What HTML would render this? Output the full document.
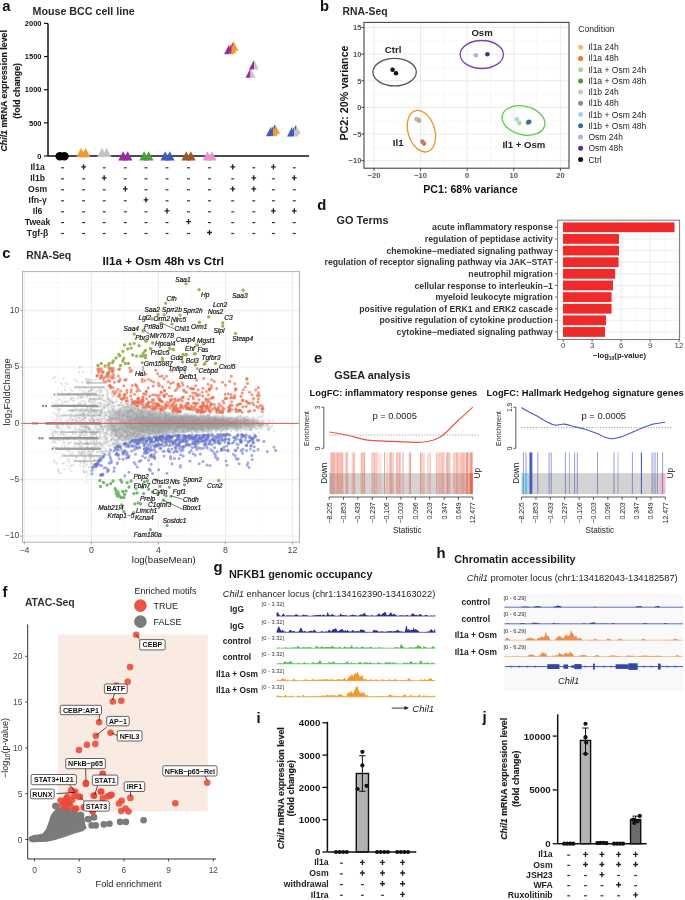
<!DOCTYPE html><html><head><meta charset="utf-8"><style>
html,body{margin:0;padding:0;background:#fff;}
body{width:685px;height:900px;overflow:hidden;}
svg{display:block;font-family:"Liberation Sans",sans-serif;filter:blur(0.35px);}
</style></head><body>
<svg width="685" height="900" viewBox="0 0 685 900">
<rect width="685" height="900" fill="#fff"/>
<text x="2.2" y="10.8" font-size="14.8" font-weight="bold"  text-anchor="start" fill="#111" >a</text>
<text x="32.5" y="14.8" font-size="10.7" font-weight="bold"  text-anchor="start" fill="#2a2a2a" >Mouse BCC cell line</text>
<line x1="48.00" y1="23.50" x2="48.00" y2="156.00" stroke="#111" stroke-width="1.5" />
<line x1="44.00" y1="156.00" x2="48.00" y2="156.00" stroke="#111" stroke-width="1.2" />
<text x="41.5" y="158.7" font-size="7.5" font-weight="bold"  text-anchor="end" fill="#111" >0</text>
<line x1="44.00" y1="122.85" x2="48.00" y2="122.85" stroke="#111" stroke-width="1.2" />
<text x="41.5" y="125.5" font-size="7.5" font-weight="bold"  text-anchor="end" fill="#111" >500</text>
<line x1="44.00" y1="89.70" x2="48.00" y2="89.70" stroke="#111" stroke-width="1.2" />
<text x="41.5" y="92.4" font-size="7.5" font-weight="bold"  text-anchor="end" fill="#111" >1000</text>
<line x1="44.00" y1="56.55" x2="48.00" y2="56.55" stroke="#111" stroke-width="1.2" />
<text x="41.5" y="59.2" font-size="7.5" font-weight="bold"  text-anchor="end" fill="#111" >1500</text>
<line x1="44.00" y1="23.40" x2="48.00" y2="23.40" stroke="#111" stroke-width="1.2" />
<text x="41.5" y="26.1" font-size="7.5" font-weight="bold"  text-anchor="end" fill="#111" >2000</text>
<line x1="48.00" y1="156.00" x2="309.00" y2="156.00" stroke="#111" stroke-width="1.6" />
<text transform="translate(7.2,90.8) rotate(-90)" font-size="8.8" font-weight="bold" text-anchor="middle" fill="#1a1a1a" stroke="#1a1a1a" stroke-width="0.15"><tspan font-style="italic">Chil1</tspan> mRNA expression level</text>
<text x="0.0" y="0.0" font-size="8.9" font-weight="bold"  text-anchor="middle" fill="#1a1a1a" transform="translate(20.4,90.8) rotate(-90)" stroke="#1a1a1a" stroke-width="0.15">(fold change)</text>
<text x="37.6" y="169.8" font-size="8.6" font-weight="bold"  text-anchor="middle" fill="#222" >Il1a</text>
<rect x="61.05" y="167.20" width="2.90" height="1.20" fill="#333" />
<path d="M81.20 166.80H86.00M83.60 164.20V169.40" stroke="#222" stroke-width="1.3" fill="none"/>
<rect x="102.75" y="167.20" width="2.90" height="1.20" fill="#333" />
<rect x="123.85" y="167.20" width="2.90" height="1.20" fill="#333" />
<rect x="144.55" y="167.20" width="2.90" height="1.20" fill="#333" />
<rect x="165.55" y="167.20" width="2.90" height="1.20" fill="#333" />
<rect x="187.05" y="167.20" width="2.90" height="1.20" fill="#333" />
<rect x="208.05" y="167.20" width="2.90" height="1.20" fill="#333" />
<path d="M230.30 166.80H235.10M232.70 164.20V169.40" stroke="#222" stroke-width="1.3" fill="none"/>
<rect x="252.35" y="167.20" width="2.90" height="1.20" fill="#333" />
<path d="M271.00 166.80H275.80M273.40 164.20V169.40" stroke="#222" stroke-width="1.3" fill="none"/>
<rect x="292.85" y="167.20" width="2.90" height="1.20" fill="#333" />
<text x="37.6" y="180.8" font-size="8.6" font-weight="bold"  text-anchor="middle" fill="#222" >Il1b</text>
<rect x="61.05" y="178.20" width="2.90" height="1.20" fill="#333" />
<rect x="82.15" y="178.20" width="2.90" height="1.20" fill="#333" />
<path d="M101.80 177.80H106.60M104.20 175.20V180.40" stroke="#222" stroke-width="1.3" fill="none"/>
<rect x="123.85" y="178.20" width="2.90" height="1.20" fill="#333" />
<rect x="144.55" y="178.20" width="2.90" height="1.20" fill="#333" />
<rect x="165.55" y="178.20" width="2.90" height="1.20" fill="#333" />
<rect x="187.05" y="178.20" width="2.90" height="1.20" fill="#333" />
<rect x="208.05" y="178.20" width="2.90" height="1.20" fill="#333" />
<rect x="231.25" y="178.20" width="2.90" height="1.20" fill="#333" />
<path d="M251.40 177.80H256.20M253.80 175.20V180.40" stroke="#222" stroke-width="1.3" fill="none"/>
<rect x="271.95" y="178.20" width="2.90" height="1.20" fill="#333" />
<path d="M291.90 177.80H296.70M294.30 175.20V180.40" stroke="#222" stroke-width="1.3" fill="none"/>
<text x="37.6" y="191.8" font-size="8.6" font-weight="bold"  text-anchor="middle" fill="#222" >Osm</text>
<rect x="61.05" y="189.20" width="2.90" height="1.20" fill="#333" />
<rect x="82.15" y="189.20" width="2.90" height="1.20" fill="#333" />
<rect x="102.75" y="189.20" width="2.90" height="1.20" fill="#333" />
<path d="M122.90 188.80H127.70M125.30 186.20V191.40" stroke="#222" stroke-width="1.3" fill="none"/>
<rect x="144.55" y="189.20" width="2.90" height="1.20" fill="#333" />
<rect x="165.55" y="189.20" width="2.90" height="1.20" fill="#333" />
<rect x="187.05" y="189.20" width="2.90" height="1.20" fill="#333" />
<rect x="208.05" y="189.20" width="2.90" height="1.20" fill="#333" />
<path d="M230.30 188.80H235.10M232.70 186.20V191.40" stroke="#222" stroke-width="1.3" fill="none"/>
<path d="M251.40 188.80H256.20M253.80 186.20V191.40" stroke="#222" stroke-width="1.3" fill="none"/>
<rect x="271.95" y="189.20" width="2.90" height="1.20" fill="#333" />
<rect x="292.85" y="189.20" width="2.90" height="1.20" fill="#333" />
<text x="37.6" y="202.8" font-size="8.6" font-weight="bold"  text-anchor="middle" fill="#222" >Ifn-γ</text>
<rect x="61.05" y="200.20" width="2.90" height="1.20" fill="#333" />
<rect x="82.15" y="200.20" width="2.90" height="1.20" fill="#333" />
<rect x="102.75" y="200.20" width="2.90" height="1.20" fill="#333" />
<rect x="123.85" y="200.20" width="2.90" height="1.20" fill="#333" />
<path d="M143.60 199.80H148.40M146.00 197.20V202.40" stroke="#222" stroke-width="1.3" fill="none"/>
<rect x="165.55" y="200.20" width="2.90" height="1.20" fill="#333" />
<rect x="187.05" y="200.20" width="2.90" height="1.20" fill="#333" />
<rect x="208.05" y="200.20" width="2.90" height="1.20" fill="#333" />
<rect x="231.25" y="200.20" width="2.90" height="1.20" fill="#333" />
<rect x="252.35" y="200.20" width="2.90" height="1.20" fill="#333" />
<rect x="271.95" y="200.20" width="2.90" height="1.20" fill="#333" />
<rect x="292.85" y="200.20" width="2.90" height="1.20" fill="#333" />
<text x="37.6" y="213.8" font-size="8.6" font-weight="bold"  text-anchor="middle" fill="#222" >Il6</text>
<rect x="61.05" y="211.20" width="2.90" height="1.20" fill="#333" />
<rect x="82.15" y="211.20" width="2.90" height="1.20" fill="#333" />
<rect x="102.75" y="211.20" width="2.90" height="1.20" fill="#333" />
<rect x="123.85" y="211.20" width="2.90" height="1.20" fill="#333" />
<rect x="144.55" y="211.20" width="2.90" height="1.20" fill="#333" />
<path d="M164.60 210.80H169.40M167.00 208.20V213.40" stroke="#222" stroke-width="1.3" fill="none"/>
<rect x="187.05" y="211.20" width="2.90" height="1.20" fill="#333" />
<rect x="208.05" y="211.20" width="2.90" height="1.20" fill="#333" />
<rect x="231.25" y="211.20" width="2.90" height="1.20" fill="#333" />
<rect x="252.35" y="211.20" width="2.90" height="1.20" fill="#333" />
<path d="M271.00 210.80H275.80M273.40 208.20V213.40" stroke="#222" stroke-width="1.3" fill="none"/>
<path d="M291.90 210.80H296.70M294.30 208.20V213.40" stroke="#222" stroke-width="1.3" fill="none"/>
<text x="37.6" y="224.6" font-size="8.6" font-weight="bold"  text-anchor="middle" fill="#222" >Tweak</text>
<rect x="61.05" y="222.00" width="2.90" height="1.20" fill="#333" />
<rect x="82.15" y="222.00" width="2.90" height="1.20" fill="#333" />
<rect x="102.75" y="222.00" width="2.90" height="1.20" fill="#333" />
<rect x="123.85" y="222.00" width="2.90" height="1.20" fill="#333" />
<rect x="144.55" y="222.00" width="2.90" height="1.20" fill="#333" />
<rect x="165.55" y="222.00" width="2.90" height="1.20" fill="#333" />
<path d="M186.10 221.60H190.90M188.50 219.00V224.20" stroke="#222" stroke-width="1.3" fill="none"/>
<rect x="208.05" y="222.00" width="2.90" height="1.20" fill="#333" />
<rect x="231.25" y="222.00" width="2.90" height="1.20" fill="#333" />
<rect x="252.35" y="222.00" width="2.90" height="1.20" fill="#333" />
<rect x="271.95" y="222.00" width="2.90" height="1.20" fill="#333" />
<rect x="292.85" y="222.00" width="2.90" height="1.20" fill="#333" />
<text x="37.6" y="235.5" font-size="8.6" font-weight="bold"  text-anchor="middle" fill="#222" >Tgf-β</text>
<rect x="61.05" y="232.90" width="2.90" height="1.20" fill="#333" />
<rect x="82.15" y="232.90" width="2.90" height="1.20" fill="#333" />
<rect x="102.75" y="232.90" width="2.90" height="1.20" fill="#333" />
<rect x="123.85" y="232.90" width="2.90" height="1.20" fill="#333" />
<rect x="144.55" y="232.90" width="2.90" height="1.20" fill="#333" />
<rect x="165.55" y="232.90" width="2.90" height="1.20" fill="#333" />
<rect x="187.05" y="232.90" width="2.90" height="1.20" fill="#333" />
<path d="M207.10 232.50H211.90M209.50 229.90V235.10" stroke="#222" stroke-width="1.3" fill="none"/>
<rect x="231.25" y="232.90" width="2.90" height="1.20" fill="#333" />
<rect x="252.35" y="232.90" width="2.90" height="1.20" fill="#333" />
<rect x="271.95" y="232.90" width="2.90" height="1.20" fill="#333" />
<rect x="292.85" y="232.90" width="2.90" height="1.20" fill="#333" />
<circle cx="59.80" cy="156.20" r="4.3" fill="#000" />
<circle cx="64.40" cy="156.20" r="4.3" fill="#000" />
<polygon points="76.20,157.30 81.00,148.10 85.80,157.30" fill="#ee9a2e"/>
<polygon points="80.80,157.30 85.60,148.10 90.40,157.30" fill="#ee9a2e"/>
<polygon points="97.20,156.90 102.00,147.70 106.80,156.90" fill="#c4c4c4"/>
<polygon points="101.80,156.90 106.60,147.70 111.40,156.90" fill="#c4c4c4"/>
<polygon points="118.30,160.40 123.10,151.20 127.90,160.40" fill="#9a2a9e"/>
<polygon points="122.90,160.40 127.70,151.20 132.50,160.40" fill="#9a2a9e"/>
<polygon points="139.30,160.40 144.10,151.20 148.90,160.40" fill="#4e9a3e"/>
<polygon points="143.90,160.40 148.70,151.20 153.50,160.40" fill="#4e9a3e"/>
<polygon points="160.40,160.40 165.20,151.20 170.00,160.40" fill="#3d5bb8"/>
<polygon points="165.00,160.40 169.80,151.20 174.60,160.40" fill="#3d5bb8"/>
<polygon points="181.40,160.40 186.20,151.20 191.00,160.40" fill="#99582a"/>
<polygon points="186.00,160.40 190.80,151.20 195.60,160.40" fill="#99582a"/>
<polygon points="202.50,160.40 207.30,151.20 212.10,160.40" fill="#e994cf"/>
<polygon points="207.10,160.40 211.90,151.20 216.70,160.40" fill="#e994cf"/>
<polygon points="224.00,54.30 229.00,44.70 229.00,54.30" fill="#9a2a9e"/>
<polygon points="229.00,54.30 229.00,44.70 234.00,54.30" fill="#ee9a2e"/>
<polygon points="228.50,50.80 233.50,41.20 233.50,50.80" fill="#9a2a9e"/>
<polygon points="233.50,50.80 233.50,41.20 238.50,50.80" fill="#ee9a2e"/>
<polygon points="226.50,53.30 231.50,43.70 231.50,53.30" fill="#9a2a9e"/>
<polygon points="231.50,53.30 231.50,43.70 236.50,53.30" fill="#ee9a2e"/>
<polygon points="245.50,77.80 250.50,68.20 250.50,77.80" fill="#9a2a9e"/>
<polygon points="250.50,77.80 250.50,68.20 255.50,77.80" fill="#c4c4c4"/>
<polygon points="249.00,69.60 254.00,60.00 254.00,69.60" fill="#9a2a9e"/>
<polygon points="254.00,69.60 254.00,60.00 259.00,69.60" fill="#c4c4c4"/>
<polygon points="266.00,136.30 271.00,126.70 271.00,136.30" fill="#3d5bb8"/>
<polygon points="271.00,136.30 271.00,126.70 276.00,136.30" fill="#ee9a2e"/>
<polygon points="270.00,133.80 275.00,124.20 275.00,133.80" fill="#3d5bb8"/>
<polygon points="275.00,133.80 275.00,124.20 280.00,133.80" fill="#ee9a2e"/>
<polygon points="268.00,135.80 273.00,126.20 273.00,135.80" fill="#3d5bb8"/>
<polygon points="273.00,135.80 273.00,126.20 278.00,135.80" fill="#ee9a2e"/>
<polygon points="287.00,136.60 292.00,127.00 292.00,136.60" fill="#3d5bb8"/>
<polygon points="292.00,136.60 292.00,127.00 297.00,136.60" fill="#c4c4c4"/>
<polygon points="291.00,134.30 296.00,124.70 296.00,134.30" fill="#3d5bb8"/>
<polygon points="296.00,134.30 296.00,124.70 301.00,134.30" fill="#c4c4c4"/>
<polygon points="289.00,136.30 294.00,126.70 294.00,136.30" fill="#3d5bb8"/>
<polygon points="294.00,136.30 294.00,126.70 299.00,136.30" fill="#c4c4c4"/>
<text x="319.9" y="10.9" font-size="14.8" font-weight="bold"  text-anchor="start" fill="#111" >b</text>
<text x="342.6" y="14.5" font-size="10.4" font-weight="bold"  text-anchor="start" fill="#2a2a2a" >RNA-Seq</text>
<line x1="397.30" y1="22.40" x2="397.30" y2="168.20" stroke="#f4f4f4" stroke-width="0.6" />
<line x1="443.90" y1="22.40" x2="443.90" y2="168.20" stroke="#f4f4f4" stroke-width="0.6" />
<line x1="490.50" y1="22.40" x2="490.50" y2="168.20" stroke="#f4f4f4" stroke-width="0.6" />
<line x1="537.10" y1="22.40" x2="537.10" y2="168.20" stroke="#f4f4f4" stroke-width="0.6" />
<line x1="364.00" y1="40.78" x2="569.00" y2="40.78" stroke="#f4f4f4" stroke-width="0.6" />
<line x1="364.00" y1="67.43" x2="569.00" y2="67.43" stroke="#f4f4f4" stroke-width="0.6" />
<line x1="364.00" y1="94.08" x2="569.00" y2="94.08" stroke="#f4f4f4" stroke-width="0.6" />
<line x1="364.00" y1="120.73" x2="569.00" y2="120.73" stroke="#f4f4f4" stroke-width="0.6" />
<line x1="364.00" y1="147.38" x2="569.00" y2="147.38" stroke="#f4f4f4" stroke-width="0.6" />
<line x1="364.00" y1="174.03" x2="569.00" y2="174.03" stroke="#f4f4f4" stroke-width="0.6" />
<line x1="374.00" y1="22.40" x2="374.00" y2="168.20" stroke="#ebebeb" stroke-width="1" />
<line x1="420.60" y1="22.40" x2="420.60" y2="168.20" stroke="#ebebeb" stroke-width="1" />
<line x1="467.20" y1="22.40" x2="467.20" y2="168.20" stroke="#ebebeb" stroke-width="1" />
<line x1="513.80" y1="22.40" x2="513.80" y2="168.20" stroke="#ebebeb" stroke-width="1" />
<line x1="560.40" y1="22.40" x2="560.40" y2="168.20" stroke="#ebebeb" stroke-width="1" />
<line x1="364.00" y1="27.45" x2="569.00" y2="27.45" stroke="#ebebeb" stroke-width="1" />
<line x1="364.00" y1="54.10" x2="569.00" y2="54.10" stroke="#ebebeb" stroke-width="1" />
<line x1="364.00" y1="80.75" x2="569.00" y2="80.75" stroke="#ebebeb" stroke-width="1" />
<line x1="364.00" y1="107.40" x2="569.00" y2="107.40" stroke="#ebebeb" stroke-width="1" />
<line x1="364.00" y1="134.05" x2="569.00" y2="134.05" stroke="#ebebeb" stroke-width="1" />
<line x1="364.00" y1="160.70" x2="569.00" y2="160.70" stroke="#ebebeb" stroke-width="1" />
<rect x="364" y="22.4" width="205" height="145.79999999999998" fill="none" stroke="#444" stroke-width="1.1"/>
<line x1="361.50" y1="27.45" x2="364.00" y2="27.45" stroke="#444" stroke-width="1" />
<text x="361.4" y="30.2" font-size="7.6" font-weight="bold"  text-anchor="end" fill="#555" >15</text>
<line x1="361.50" y1="54.10" x2="364.00" y2="54.10" stroke="#444" stroke-width="1" />
<text x="361.4" y="56.8" font-size="7.6" font-weight="bold"  text-anchor="end" fill="#555" >10</text>
<line x1="361.50" y1="80.75" x2="364.00" y2="80.75" stroke="#444" stroke-width="1" />
<text x="361.4" y="83.5" font-size="7.6" font-weight="bold"  text-anchor="end" fill="#555" >5</text>
<line x1="361.50" y1="107.40" x2="364.00" y2="107.40" stroke="#444" stroke-width="1" />
<text x="361.4" y="110.1" font-size="7.6" font-weight="bold"  text-anchor="end" fill="#555" >0</text>
<line x1="361.50" y1="134.05" x2="364.00" y2="134.05" stroke="#444" stroke-width="1" />
<text x="361.4" y="136.8" font-size="7.6" font-weight="bold"  text-anchor="end" fill="#555" >−5</text>
<line x1="361.50" y1="160.70" x2="364.00" y2="160.70" stroke="#444" stroke-width="1" />
<text x="361.4" y="163.4" font-size="7.6" font-weight="bold"  text-anchor="end" fill="#555" >−10</text>
<line x1="374.00" y1="168.20" x2="374.00" y2="170.70" stroke="#444" stroke-width="1" />
<text x="374.0" y="177.6" font-size="7.6" font-weight="bold"  text-anchor="middle" fill="#555" >−20</text>
<line x1="420.60" y1="168.20" x2="420.60" y2="170.70" stroke="#444" stroke-width="1" />
<text x="420.6" y="177.6" font-size="7.6" font-weight="bold"  text-anchor="middle" fill="#555" >−10</text>
<line x1="467.20" y1="168.20" x2="467.20" y2="170.70" stroke="#444" stroke-width="1" />
<text x="467.2" y="177.6" font-size="7.6" font-weight="bold"  text-anchor="middle" fill="#555" >0</text>
<line x1="513.80" y1="168.20" x2="513.80" y2="170.70" stroke="#444" stroke-width="1" />
<text x="513.8" y="177.6" font-size="7.6" font-weight="bold"  text-anchor="middle" fill="#555" >10</text>
<line x1="560.40" y1="168.20" x2="560.40" y2="170.70" stroke="#444" stroke-width="1" />
<text x="560.4" y="177.6" font-size="7.6" font-weight="bold"  text-anchor="middle" fill="#555" >20</text>
<text x="423.3" y="192.7" font-size="10.6" font-weight="bold"  text-anchor="start" fill="#111" >PC1: 68% variance</text>
<text x="0.0" y="0.0" font-size="10.7" font-weight="bold"  text-anchor="middle" fill="#111" transform="translate(348.0,93.0) rotate(-90)">PC2: 20% variance</text>
<ellipse cx="394.6" cy="72.1" rx="21.7" ry="13.8" fill="none" stroke="#555" stroke-width="1.3"/>
<ellipse cx="481.8" cy="54.5" rx="21.6" ry="14.0" fill="none" stroke="#7b3fb0" stroke-width="1.3"/>
<ellipse cx="421.4" cy="131.2" rx="13.3" ry="21.3" transform="rotate(-17 421.4 131.2)" fill="none" stroke="#e8922e" stroke-width="1.3"/>
<ellipse cx="523.5" cy="120.5" rx="21.8" ry="14.2" transform="rotate(14 523.5 120.5)" fill="none" stroke="#5ccc4c" stroke-width="1.3"/>
<text x="384.8" y="53.3" font-size="9.6" font-weight="bold"  text-anchor="start" fill="#222" >Ctrl</text>
<text x="471.4" y="35.8" font-size="9.6" font-weight="bold"  text-anchor="start" fill="#222" >Osm</text>
<text x="392.8" y="146.2" font-size="9.6" font-weight="bold"  text-anchor="start" fill="#222" >Il1</text>
<text x="502.4" y="148.3" font-size="9.6" font-weight="bold"  text-anchor="start" fill="#222" >Il1 + Osm</text>
<circle cx="392.60" cy="69.70" r="2.3" fill="#111" />
<circle cx="396.00" cy="73.20" r="2.3" fill="#111" />
<circle cx="475.80" cy="55.30" r="2.3" fill="#c7a8dc" />
<circle cx="487.40" cy="54.20" r="2.3" fill="#5b2a96" />
<circle cx="416.40" cy="119.00" r="2.3" fill="#b8b8b8" />
<circle cx="418.30" cy="119.80" r="2.3" fill="#f0bc70" />
<circle cx="419.00" cy="120.60" r="2.3" fill="#aaaaaa" />
<circle cx="422.40" cy="141.60" r="2.3" fill="#8c8c8c" />
<circle cx="424.00" cy="143.60" r="2.3" fill="#e8782a" />
<circle cx="516.90" cy="119.20" r="2.3" fill="#a8d0e8" />
<circle cx="519.30" cy="123.10" r="2.3" fill="#a8dc8c" />
<circle cx="528.00" cy="122.60" r="2.3" fill="#3f9f3f" />
<circle cx="529.20" cy="121.80" r="2.3" fill="#2f6fae" />
<text x="578.3" y="32.2" font-size="8.6"   text-anchor="start" fill="#222" >Condition</text>
<circle cx="580.60" cy="47.20" r="2.5" fill="#f0bc70" />
<text x="588.4" y="50.2" font-size="8.5"   text-anchor="start" fill="#222" >Il1a 24h</text>
<circle cx="580.60" cy="58.43" r="2.5" fill="#e8782a" />
<text x="588.4" y="61.4" font-size="8.5"   text-anchor="start" fill="#222" >Il1a 48h</text>
<circle cx="580.60" cy="69.66" r="2.5" fill="#a8dc8c" />
<text x="588.4" y="72.7" font-size="8.5"   text-anchor="start" fill="#222" >Il1a + Osm 24h</text>
<circle cx="580.60" cy="80.89" r="2.5" fill="#3f9f3f" />
<text x="588.4" y="83.9" font-size="8.5"   text-anchor="start" fill="#222" >Il1a + Osm 48h</text>
<circle cx="580.60" cy="92.12" r="2.5" fill="#c8c8c8" />
<text x="588.4" y="95.1" font-size="8.5"   text-anchor="start" fill="#222" >Il1b 24h</text>
<circle cx="580.60" cy="103.35" r="2.5" fill="#8c8c8c" />
<text x="588.4" y="106.4" font-size="8.5"   text-anchor="start" fill="#222" >Il1b 48h</text>
<circle cx="580.60" cy="114.58" r="2.5" fill="#a8d0e8" />
<text x="588.4" y="117.6" font-size="8.5"   text-anchor="start" fill="#222" >Il1b + Osm 24h</text>
<circle cx="580.60" cy="125.81" r="2.5" fill="#2f6fae" />
<text x="588.4" y="128.8" font-size="8.5"   text-anchor="start" fill="#222" >Il1b + Osm 48h</text>
<circle cx="580.60" cy="137.04" r="2.5" fill="#c7a8dc" />
<text x="588.4" y="140.0" font-size="8.5"   text-anchor="start" fill="#222" >Osm 24h</text>
<circle cx="580.60" cy="148.27" r="2.5" fill="#5b2a96" />
<text x="588.4" y="151.3" font-size="8.5"   text-anchor="start" fill="#222" >Osm 48h</text>
<circle cx="580.60" cy="159.50" r="2.5" fill="#111" />
<text x="588.4" y="162.5" font-size="8.5"   text-anchor="start" fill="#222" >Ctrl</text>
<text x="317.3" y="210.3" font-size="14.8" font-weight="bold"  text-anchor="start" fill="#111" >d</text>
<text x="336.6" y="223.6" font-size="10.9" font-weight="bold"  text-anchor="start" fill="#2a2a2a" >GO Terms</text>
<rect x="557.6" y="220.2" width="122.0" height="119.30000000000001" fill="#fff"/>
<line x1="577.68" y1="220.20" x2="577.68" y2="339.50" stroke="#f5f5f5" stroke-width="0.6" />
<line x1="606.62" y1="220.20" x2="606.62" y2="339.50" stroke="#f5f5f5" stroke-width="0.6" />
<line x1="635.58" y1="220.20" x2="635.58" y2="339.50" stroke="#f5f5f5" stroke-width="0.6" />
<line x1="664.53" y1="220.20" x2="664.53" y2="339.50" stroke="#f5f5f5" stroke-width="0.6" />
<line x1="563.20" y1="220.20" x2="563.20" y2="339.50" stroke="#ebebeb" stroke-width="0.9" />
<line x1="592.15" y1="220.20" x2="592.15" y2="339.50" stroke="#ebebeb" stroke-width="0.9" />
<line x1="621.10" y1="220.20" x2="621.10" y2="339.50" stroke="#ebebeb" stroke-width="0.9" />
<line x1="650.05" y1="220.20" x2="650.05" y2="339.50" stroke="#ebebeb" stroke-width="0.9" />
<line x1="679.00" y1="220.20" x2="679.00" y2="339.50" stroke="#ebebeb" stroke-width="0.9" />
<line x1="557.60" y1="227.30" x2="679.60" y2="227.30" stroke="#ebebeb" stroke-width="0.9" />
<line x1="557.60" y1="238.93" x2="679.60" y2="238.93" stroke="#ebebeb" stroke-width="0.9" />
<line x1="557.60" y1="250.56" x2="679.60" y2="250.56" stroke="#ebebeb" stroke-width="0.9" />
<line x1="557.60" y1="262.19" x2="679.60" y2="262.19" stroke="#ebebeb" stroke-width="0.9" />
<line x1="557.60" y1="273.82" x2="679.60" y2="273.82" stroke="#ebebeb" stroke-width="0.9" />
<line x1="557.60" y1="285.45" x2="679.60" y2="285.45" stroke="#ebebeb" stroke-width="0.9" />
<line x1="557.60" y1="297.08" x2="679.60" y2="297.08" stroke="#ebebeb" stroke-width="0.9" />
<line x1="557.60" y1="308.71" x2="679.60" y2="308.71" stroke="#ebebeb" stroke-width="0.9" />
<line x1="557.60" y1="320.34" x2="679.60" y2="320.34" stroke="#ebebeb" stroke-width="0.9" />
<line x1="557.60" y1="331.97" x2="679.60" y2="331.97" stroke="#ebebeb" stroke-width="0.9" />
<rect x="563.00" y="222.40" width="111.50" height="9.80" fill="#ee2a2a" />
<text x="552.8" y="230.4" font-size="8.7" font-weight="bold"  text-anchor="end" fill="#333" >acute inflammatory response</text>
<line x1="555.10" y1="227.30" x2="557.60" y2="227.30" stroke="#555" stroke-width="0.9" />
<rect x="563.00" y="234.03" width="56.00" height="9.80" fill="#ee2a2a" />
<text x="552.8" y="242.0" font-size="8.7" font-weight="bold"  text-anchor="end" fill="#333" >regulation of peptidase activity</text>
<line x1="555.10" y1="238.93" x2="557.60" y2="238.93" stroke="#555" stroke-width="0.9" />
<rect x="563.00" y="245.66" width="56.00" height="9.80" fill="#ee2a2a" />
<text x="552.8" y="253.7" font-size="8.7" font-weight="bold"  text-anchor="end" fill="#333" >chemokine−mediated signaling pathway</text>
<line x1="555.10" y1="250.56" x2="557.60" y2="250.56" stroke="#555" stroke-width="0.9" />
<rect x="563.00" y="257.29" width="55.60" height="9.80" fill="#ee2a2a" />
<text x="552.8" y="265.3" font-size="8.7" font-weight="bold"  text-anchor="end" fill="#333" >regulation of receptor signaling pathway via JAK−STAT</text>
<line x1="555.10" y1="262.19" x2="557.60" y2="262.19" stroke="#555" stroke-width="0.9" />
<rect x="563.00" y="268.92" width="52.20" height="9.80" fill="#ee2a2a" />
<text x="552.8" y="276.9" font-size="8.7" font-weight="bold"  text-anchor="end" fill="#333" >neutrophil migration</text>
<line x1="555.10" y1="273.82" x2="557.60" y2="273.82" stroke="#555" stroke-width="0.9" />
<rect x="563.00" y="280.55" width="50.00" height="9.80" fill="#ee2a2a" />
<text x="552.8" y="288.6" font-size="8.7" font-weight="bold"  text-anchor="end" fill="#333" >cellular response to interleukin−1</text>
<line x1="555.10" y1="285.45" x2="557.60" y2="285.45" stroke="#555" stroke-width="0.9" />
<rect x="563.00" y="292.18" width="48.60" height="9.80" fill="#ee2a2a" />
<text x="552.8" y="300.2" font-size="8.7" font-weight="bold"  text-anchor="end" fill="#333" >myeloid leukocyte migration</text>
<line x1="555.10" y1="297.08" x2="557.60" y2="297.08" stroke="#555" stroke-width="0.9" />
<rect x="563.00" y="303.81" width="48.60" height="9.80" fill="#ee2a2a" />
<text x="552.8" y="311.8" font-size="8.7" font-weight="bold"  text-anchor="end" fill="#333" >positive regulation of ERK1 and ERK2 cascade</text>
<line x1="555.10" y1="308.71" x2="557.60" y2="308.71" stroke="#555" stroke-width="0.9" />
<rect x="563.00" y="315.44" width="43.00" height="9.80" fill="#ee2a2a" />
<text x="552.8" y="323.4" font-size="8.7" font-weight="bold"  text-anchor="end" fill="#333" >positive regulation of cytokine production</text>
<line x1="555.10" y1="320.34" x2="557.60" y2="320.34" stroke="#555" stroke-width="0.9" />
<rect x="563.00" y="327.07" width="42.00" height="9.80" fill="#ee2a2a" />
<text x="552.8" y="335.1" font-size="8.7" font-weight="bold"  text-anchor="end" fill="#333" >cytokine−mediated signaling pathway</text>
<line x1="555.10" y1="331.97" x2="557.60" y2="331.97" stroke="#555" stroke-width="0.9" />
<rect x="557.6" y="220.2" width="122.0" height="119.30000000000001" fill="none" stroke="#7a7a7a" stroke-width="1"/>
<line x1="563.20" y1="339.50" x2="563.20" y2="342.00" stroke="#555" stroke-width="0.9" />
<text x="563.2" y="348.2" font-size="7.9"   text-anchor="middle" fill="#444" >0</text>
<line x1="592.15" y1="339.50" x2="592.15" y2="342.00" stroke="#555" stroke-width="0.9" />
<text x="592.2" y="348.2" font-size="7.9"   text-anchor="middle" fill="#444" >3</text>
<line x1="621.10" y1="339.50" x2="621.10" y2="342.00" stroke="#555" stroke-width="0.9" />
<text x="621.1" y="348.2" font-size="7.9"   text-anchor="middle" fill="#444" >6</text>
<line x1="650.05" y1="339.50" x2="650.05" y2="342.00" stroke="#555" stroke-width="0.9" />
<text x="650.1" y="348.2" font-size="7.9"   text-anchor="middle" fill="#444" >9</text>
<line x1="679.00" y1="339.50" x2="679.00" y2="342.00" stroke="#555" stroke-width="0.9" />
<text x="679.0" y="348.2" font-size="7.9"   text-anchor="middle" fill="#444" >12</text>
<text x="619.5" y="358.2" font-size="7.6" font-weight="bold" text-anchor="middle" fill="#222">−log<tspan font-size="5" dy="1.8">10</tspan><tspan dy="-1.8">(p-value)</tspan></text>
<text x="2.2" y="258.3" font-size="14.8" font-weight="bold"  text-anchor="start" fill="#111" >c</text>
<text x="26.2" y="259.1" font-size="10.4" font-weight="bold"  text-anchor="start" fill="#2a2a2a" >RNA-Seq</text>
<text x="102.6" y="265.0" font-size="11.65" font-weight="bold"  text-anchor="start" fill="#111" >Il1a + Osm 48h vs Ctrl</text>
<rect x="22.6" y="271.6" width="276.79999999999995" height="270.6" fill="#fff"/>
<line x1="57.90" y1="271.60" x2="57.90" y2="542.20" stroke="#f3f3f3" stroke-width="0.6" />
<line x1="124.90" y1="271.60" x2="124.90" y2="542.20" stroke="#f3f3f3" stroke-width="0.6" />
<line x1="191.90" y1="271.60" x2="191.90" y2="542.20" stroke="#f3f3f3" stroke-width="0.6" />
<line x1="258.90" y1="271.60" x2="258.90" y2="542.20" stroke="#f3f3f3" stroke-width="0.6" />
<line x1="22.60" y1="282.52" x2="299.40" y2="282.52" stroke="#f3f3f3" stroke-width="0.6" />
<line x1="22.60" y1="338.88" x2="299.40" y2="338.88" stroke="#f3f3f3" stroke-width="0.6" />
<line x1="22.60" y1="395.22" x2="299.40" y2="395.22" stroke="#f3f3f3" stroke-width="0.6" />
<line x1="22.60" y1="451.57" x2="299.40" y2="451.57" stroke="#f3f3f3" stroke-width="0.6" />
<line x1="22.60" y1="507.92" x2="299.40" y2="507.92" stroke="#f3f3f3" stroke-width="0.6" />
<line x1="24.40" y1="271.60" x2="24.40" y2="542.20" stroke="#e9e9e9" stroke-width="0.9" />
<line x1="91.40" y1="271.60" x2="91.40" y2="542.20" stroke="#e9e9e9" stroke-width="0.9" />
<line x1="158.40" y1="271.60" x2="158.40" y2="542.20" stroke="#e9e9e9" stroke-width="0.9" />
<line x1="225.40" y1="271.60" x2="225.40" y2="542.20" stroke="#e9e9e9" stroke-width="0.9" />
<line x1="292.40" y1="271.60" x2="292.40" y2="542.20" stroke="#e9e9e9" stroke-width="0.9" />
<line x1="22.60" y1="310.70" x2="299.40" y2="310.70" stroke="#e9e9e9" stroke-width="0.9" />
<line x1="22.60" y1="367.05" x2="299.40" y2="367.05" stroke="#e9e9e9" stroke-width="0.9" />
<line x1="22.60" y1="423.40" x2="299.40" y2="423.40" stroke="#e9e9e9" stroke-width="0.9" />
<line x1="22.60" y1="479.75" x2="299.40" y2="479.75" stroke="#e9e9e9" stroke-width="0.9" />
<line x1="22.60" y1="536.10" x2="299.40" y2="536.10" stroke="#e9e9e9" stroke-width="0.9" />
<defs><filter id="bl1" x="-10%" y="-50%" width="120%" height="200%"><feGaussianBlur stdDeviation="1.6"/></filter><filter id="bl2" x="-10%" y="-50%" width="120%" height="200%"><feGaussianBlur stdDeviation="1.0"/></filter><filter id="bl3" filterUnits="userSpaceOnUse" x="0" y="250" width="320" height="320"><feGaussianBlur stdDeviation="0.45"/></filter></defs>
<polygon points="108.2,417.0 110.8,414.4 113.4,411.4 116.0,409.4 118.6,408.1 121.3,407.2 123.9,406.5 126.5,406.1 129.1,405.8 131.8,405.7 134.4,406.5 137.0,407.3 139.6,408.0 142.3,408.7 144.9,409.3 147.5,409.9 150.1,410.5 152.8,411.0 155.4,411.5 158.0,411.9 160.6,412.3 163.3,412.7 165.9,413.1 168.5,413.5 171.1,413.8 173.8,414.1 176.4,414.4 179.0,414.6 181.6,414.9 184.3,415.1 186.9,415.3 189.5,415.5 192.1,415.7 194.7,415.9 197.4,416.0 200.0,416.2 202.6,416.3 205.2,416.5 207.9,416.6 210.5,416.7 213.1,416.8 215.7,416.9 218.4,417.0 221.0,417.1 223.6,417.2 226.2,417.2 228.9,417.3 231.5,417.4 234.1,417.4 236.7,417.5 239.4,417.6 242.0,417.8 244.6,418.1 247.2,418.5 249.9,418.9 252.5,419.3 255.1,419.8 257.7,420.3 260.4,420.9 263.0,421.6 265.6,422.2 265.6,424.6 263.0,425.2 260.4,425.9 257.7,426.5 255.1,427.0 252.5,427.5 249.9,427.9 247.2,428.3 244.6,428.7 242.0,429.0 239.4,429.2 236.7,429.3 234.1,429.4 231.5,429.4 228.9,429.5 226.2,429.6 223.6,429.6 221.0,429.7 218.4,429.8 215.7,429.9 213.1,430.0 210.5,430.1 207.9,430.2 205.2,430.3 202.6,430.5 200.0,430.6 197.4,430.8 194.7,430.9 192.1,431.1 189.5,431.3 186.9,431.5 184.3,431.7 181.6,431.9 179.0,432.2 176.4,432.4 173.8,432.7 171.1,433.0 168.5,433.3 165.9,433.7 163.3,434.1 160.6,434.5 158.0,434.9 155.4,435.3 152.8,435.8 150.1,436.3 147.5,436.9 144.9,437.5 142.3,438.1 139.6,438.8 137.0,439.5 134.4,440.3 131.8,441.1 129.1,441.0 126.5,440.7 123.9,440.3 121.3,439.6 118.6,438.7 116.0,437.4 113.4,435.4 110.8,432.4 108.2,429.8" fill="#cecece" filter="url(#bl1)"/>
<polygon points="124.9,420.7 127.1,419.2 129.4,417.7 131.6,416.7 133.8,415.9 136.1,415.4 138.3,414.9 140.5,414.6 142.8,414.7 145.0,415.0 147.2,415.3 149.5,415.6 151.7,415.8 153.9,416.1 156.2,416.3 158.4,416.6 160.6,416.8 162.9,417.0 165.1,417.2 167.3,417.3 169.6,417.5 171.8,417.7 174.0,417.8 176.3,418.0 178.5,418.1 180.7,418.2 183.0,418.3 185.2,418.5 187.4,418.6 189.7,418.7 191.9,418.8 194.1,418.9 196.4,418.9 198.6,419.0 200.8,419.1 203.1,419.2 205.3,419.2 207.5,419.3 209.8,419.4 212.0,419.4 214.2,419.5 216.5,419.5 218.7,419.6 220.9,419.6 223.2,419.6 225.4,419.7 227.6,419.7 229.9,419.8 232.1,419.8 234.3,419.8 236.6,419.9 238.8,420.1 241.0,420.4 243.3,420.6 245.5,420.8 247.7,421.0 250.0,421.3 252.2,421.6 254.4,421.9 256.7,422.4 258.9,422.7 258.9,424.1 256.7,424.4 254.4,424.9 252.2,425.2 250.0,425.5 247.7,425.8 245.5,426.0 243.3,426.2 241.0,426.4 238.8,426.7 236.6,426.9 234.3,427.0 232.1,427.0 229.9,427.0 227.6,427.1 225.4,427.1 223.2,427.2 220.9,427.2 218.7,427.2 216.5,427.3 214.2,427.3 212.0,427.4 209.8,427.4 207.5,427.5 205.3,427.6 203.1,427.6 200.8,427.7 198.6,427.8 196.4,427.9 194.1,427.9 191.9,428.0 189.7,428.1 187.4,428.2 185.2,428.3 183.0,428.5 180.7,428.6 178.5,428.7 176.3,428.8 174.0,429.0 171.8,429.1 169.6,429.3 167.3,429.5 165.1,429.6 162.9,429.8 160.6,430.0 158.4,430.2 156.2,430.5 153.9,430.7 151.7,431.0 149.5,431.2 147.2,431.5 145.0,431.8 142.8,432.1 140.5,432.2 138.3,431.9 136.1,431.4 133.8,430.9 131.6,430.1 129.4,429.1 127.1,427.6 124.9,426.1" fill="#bbbbbb" filter="url(#bl1)"/>
<polygon points="141.7,422.3 143.5,421.9 145.3,421.3 147.1,420.9 148.9,420.6 150.7,420.4 152.5,420.2 154.4,420.0 156.2,419.9 158.0,419.8 159.8,419.8 161.6,419.9 163.4,420.0 165.2,420.1 167.1,420.2 168.9,420.2 170.7,420.3 172.5,420.4 174.3,420.4 176.1,420.5 177.9,420.6 179.8,420.6 181.6,420.7 183.4,420.7 185.2,420.8 187.0,420.8 188.8,420.9 190.6,420.9 192.5,420.9 194.3,421.0 196.1,421.0 197.9,421.0 199.7,421.1 201.5,421.1 203.3,421.1 205.2,421.2 207.0,421.2 208.8,421.2 210.6,421.3 212.4,421.3 214.2,421.3 216.0,421.3 217.9,421.3 219.7,421.4 221.5,421.4 223.3,421.4 225.1,421.4 226.9,421.4 228.8,421.5 230.6,421.5 232.4,421.6 234.2,421.7 236.0,421.8 237.8,421.9 239.6,422.0 241.5,422.2 243.3,422.3 245.1,422.4 246.9,422.6 248.7,422.9 250.5,423.0 250.5,423.8 248.7,423.9 246.9,424.2 245.1,424.4 243.3,424.5 241.5,424.6 239.6,424.8 237.8,424.9 236.0,425.0 234.2,425.1 232.4,425.2 230.6,425.3 228.8,425.3 226.9,425.4 225.1,425.4 223.3,425.4 221.5,425.4 219.7,425.4 217.9,425.5 216.0,425.5 214.2,425.5 212.4,425.5 210.6,425.5 208.8,425.6 207.0,425.6 205.2,425.6 203.3,425.7 201.5,425.7 199.7,425.7 197.9,425.8 196.1,425.8 194.3,425.8 192.5,425.9 190.6,425.9 188.8,425.9 187.0,426.0 185.2,426.0 183.4,426.1 181.6,426.1 179.8,426.2 177.9,426.2 176.1,426.3 174.3,426.4 172.5,426.4 170.7,426.5 168.9,426.6 167.1,426.6 165.2,426.7 163.4,426.8 161.6,426.9 159.8,427.0 158.0,427.0 156.2,426.9 154.4,426.8 152.5,426.6 150.7,426.4 148.9,426.2 147.1,425.9 145.3,425.5 143.5,424.9 141.7,424.5" fill="#ababab" filter="url(#bl2)"/>
<line x1="46.5" y1="423.4" x2="100" y2="423.4" stroke="#8c8c8c" stroke-width="2.6" stroke-linecap="round" filter="url(#bl3)" stroke-opacity="0.92"/>
<circle cx="33.40" cy="423.40" r="1.3" fill="#8c8c8c" filter="url(#bl3)"/>
<circle cx="36.50" cy="423.40" r="1.3" fill="#8c8c8c" filter="url(#bl3)"/>
<line x1="55" y1="405.9" x2="97" y2="405.9" stroke="#8e8e8e" stroke-width="2.4" stroke-linecap="round" filter="url(#bl3)" stroke-opacity="0.92"/>
<circle cx="43.00" cy="405.93" r="1.2" fill="#8e8e8e" filter="url(#bl3)"/>
<circle cx="46.00" cy="405.93" r="1.2" fill="#8e8e8e" filter="url(#bl3)"/>
<circle cx="52.70" cy="405.93" r="1.2" fill="#8e8e8e" filter="url(#bl3)"/>
<line x1="58" y1="394.4" x2="96" y2="394.4" stroke="#a4a4a4" stroke-width="2.2" stroke-linecap="round" filter="url(#bl3)" stroke-opacity="0.92"/>
<circle cx="54.40" cy="394.44" r="1.1" fill="#a4a4a4" filter="url(#bl3)"/>
<line x1="75" y1="387.3" x2="104" y2="387.3" stroke="#bdbdbd" stroke-width="2.0" stroke-linecap="round" filter="url(#bl3)" stroke-opacity="0.92"/>
<line x1="87" y1="382.8" x2="105" y2="382.8" stroke="#c6c6c6" stroke-width="1.8" stroke-linecap="round" filter="url(#bl3)" stroke-opacity="0.92"/>
<line x1="90" y1="398.9" x2="101" y2="398.9" stroke="#c4c4c4" stroke-width="1.8" stroke-linecap="round" filter="url(#bl3)" stroke-opacity="0.92"/>
<line x1="69" y1="410.3" x2="100" y2="410.3" stroke="#c6c6c6" stroke-width="1.8" stroke-linecap="round" filter="url(#bl3)" stroke-opacity="0.92"/>
<line x1="62" y1="415.5" x2="100" y2="415.5" stroke="#cbcbcb" stroke-width="1.8" stroke-linecap="round" filter="url(#bl3)" stroke-opacity="0.92"/>
<line x1="50" y1="438.3" x2="97" y2="438.3" stroke="#8c8c8c" stroke-width="2.4" stroke-linecap="round" filter="url(#bl3)" stroke-opacity="0.92"/>
<circle cx="39.50" cy="438.28" r="1.2" fill="#8c8c8c" filter="url(#bl3)"/>
<circle cx="42.30" cy="438.28" r="1.2" fill="#8c8c8c" filter="url(#bl3)"/>
<line x1="56" y1="448.8" x2="100" y2="448.8" stroke="#9a9a9a" stroke-width="2.4" stroke-linecap="round" filter="url(#bl3)" stroke-opacity="0.92"/>
<circle cx="52.70" cy="448.76" r="1.2" fill="#9a9a9a" filter="url(#bl3)"/>
<line x1="60.5" y1="432.1" x2="100" y2="432.1" stroke="#c6c6c6" stroke-width="1.8" stroke-linecap="round" filter="url(#bl3)" stroke-opacity="0.92"/>
<line x1="64" y1="455.7" x2="100" y2="455.7" stroke="#bcbcbc" stroke-width="2.0" stroke-linecap="round" filter="url(#bl3)" stroke-opacity="0.92"/>
<line x1="74.6" y1="461.0" x2="100" y2="461.0" stroke="#c4c4c4" stroke-width="1.8" stroke-linecap="round" filter="url(#bl3)" stroke-opacity="0.92"/>
<line x1="74.6" y1="443.5" x2="100" y2="443.5" stroke="#c8c8c8" stroke-width="1.8" stroke-linecap="round" filter="url(#bl3)" stroke-opacity="0.92"/>
<path d="M57.0 431.7h0M69.2 451.0h0M71.8 398.0h0M82.0 426.5h0M64.2 397.5h0M67.1 437.1h0M59.5 416.1h0M77.7 421.7h0M58.3 419.0h0M67.1 462.0h0M86.1 409.5h0M59.0 439.0h0M83.8 410.6h0M53.5 412.8h0M84.9 453.6h0M82.3 438.7h0M79.5 418.3h0M60.3 427.5h0M85.8 394.6h0M69.7 423.9h0M72.4 454.7h0M70.0 427.8h0M72.1 424.4h0M65.5 390.3h0M66.9 421.4h0M70.1 431.7h0M76.2 409.3h0M78.4 422.9h0M76.2 433.2h0M64.9 435.8h0M54.7 435.1h0M62.1 429.4h0M63.7 463.2h0M53.8 412.9h0M66.8 420.6h0M52.9 434.3h0M59.5 440.6h0M54.2 441.6h0M77.9 445.2h0M59.8 409.9h0M62.2 429.3h0M84.4 417.0h0M76.0 419.5h0M62.5 384.7h0M58.2 433.8h0M72.9 419.9h0M57.8 419.4h0M68.8 426.4h0M51.5 430.2h0M55.9 432.7h0M57.8 439.8h0M82.3 453.3h0M77.5 422.8h0M67.8 437.0h0M61.7 446.5h0M57.9 425.2h0M75.1 428.7h0M75.5 427.3h0M58.7 409.2h0M68.6 401.4h0M75.1 417.8h0M64.9 446.1h0M63.6 439.7h0M70.1 392.4h0M63.9 456.0h0M79.9 428.8h0" stroke="#b0b0b0" stroke-width="2.4" stroke-linecap="round" fill="none" stroke-opacity="0.22"/>
<path d="M68.1 444.2h0M69.0 423.3h0M59.4 411.6h0M62.8 426.2h0M56.6 420.0h0M68.2 428.0h0M78.6 412.7h0M76.9 444.1h0M83.7 411.1h0M64.8 389.7h0M68.6 443.3h0M73.1 436.1h0M63.4 434.5h0M64.4 448.6h0M65.5 383.2h0M59.9 422.5h0M78.4 453.3h0M57.2 407.5h0M77.4 435.3h0M58.7 427.1h0M66.2 450.2h0M51.6 396.8h0M73.8 410.9h0M55.9 432.2h0M56.2 407.9h0M58.9 407.0h0M70.5 399.6h0M67.5 425.3h0M60.1 427.9h0M61.6 391.8h0M72.3 449.1h0M70.9 441.7h0M62.4 415.9h0M67.0 447.9h0M69.4 435.7h0M76.0 418.6h0M64.8 445.6h0M76.4 421.1h0M74.7 407.9h0M72.8 431.2h0M56.3 408.8h0M77.3 430.7h0M73.8 409.7h0M60.1 418.3h0M64.5 430.7h0M61.1 416.3h0M79.7 424.4h0M52.6 442.5h0M62.1 425.3h0M79.0 414.9h0M59.1 412.0h0M51.8 429.0h0M53.3 433.6h0M79.3 430.0h0M53.7 447.2h0M60.7 419.4h0M54.9 431.0h0M76.8 429.7h0M69.9 419.7h0M56.9 406.4h0M83.0 396.6h0M84.3 397.5h0M77.8 437.5h0M82.2 408.5h0M54.1 431.6h0M52.1 417.0h0" stroke="#b0b0b0" stroke-width="2.4" stroke-linecap="round" fill="none" stroke-opacity="0.22"/>
<path d="M58.8 415.8h0M64.3 422.1h0M77.2 409.0h0M68.7 394.4h0M83.8 430.8h0M57.8 392.6h0M82.6 383.3h0M55.5 452.6h0M64.0 433.9h0M52.1 402.5h0M77.5 422.3h0M57.6 416.4h0M54.8 431.1h0M75.2 438.6h0M72.0 426.2h0M82.0 420.3h0M53.0 420.2h0M53.6 441.2h0M84.9 421.8h0M80.7 414.3h0M62.0 438.4h0M75.3 420.1h0M60.2 440.2h0M54.5 420.4h0M55.7 440.4h0M57.0 417.2h0M81.9 416.3h0M53.4 422.5h0M52.7 436.3h0M68.9 460.0h0M85.2 424.7h0M53.4 406.3h0M53.9 423.7h0M73.1 400.9h0M59.1 413.2h0M79.9 426.3h0M85.1 421.6h0M82.5 419.3h0M75.2 442.3h0M51.4 434.1h0M70.7 411.6h0M84.8 421.6h0M75.2 426.0h0M75.2 430.9h0M84.3 439.9h0M60.8 409.6h0M84.1 424.3h0M59.6 438.8h0M67.2 411.4h0M52.9 440.8h0M79.4 403.5h0M82.8 426.6h0M79.9 440.6h0M63.6 412.8h0M53.6 447.1h0M68.6 421.8h0M83.9 439.1h0M80.3 424.4h0M73.3 412.0h0M83.1 446.4h0M70.0 388.3h0M51.6 434.2h0M74.0 404.1h0M78.5 425.5h0M70.2 417.9h0" stroke="#b0b0b0" stroke-width="2.4" stroke-linecap="round" fill="none" stroke-opacity="0.22"/>
<path d="M106.7 449.7h0M203.9 429.8h0M112.7 431.3h0M131.8 423.9h0M153.9 424.6h0M191.6 419.2h0M235.6 425.2h0M164.7 418.5h0M90.1 454.1h0M164.5 422.9h0M125.0 423.7h0M112.9 417.2h0M204.5 423.3h0M152.5 418.2h0M165.1 425.2h0M128.5 427.5h0M114.9 439.9h0M139.0 417.4h0M84.0 422.1h0M148.5 427.9h0M195.4 414.9h0M89.0 411.9h0M152.5 419.2h0M160.7 430.5h0M148.1 420.6h0M180.9 427.0h0M143.6 420.0h0M111.2 415.3h0M139.2 430.7h0M87.4 406.1h0M165.5 418.5h0M230.9 422.4h0M240.4 423.0h0M166.8 426.5h0M215.2 424.3h0M142.7 441.3h0M256.5 428.5h0M137.1 441.4h0M217.0 422.0h0M174.6 417.7h0M183.8 425.7h0M128.6 403.7h0M156.3 423.6h0M183.0 423.2h0M231.8 421.3h0M177.7 421.4h0M91.1 421.4h0M195.5 430.7h0M188.8 415.6h0M122.3 428.0h0M118.8 413.4h0M104.4 426.7h0M190.9 424.1h0M212.9 421.7h0M162.2 425.4h0M117.0 434.7h0M108.8 399.1h0M177.1 418.4h0M130.2 422.1h0M149.5 431.0h0M110.1 445.9h0M209.5 421.3h0M240.5 428.1h0M152.2 418.9h0M160.3 422.4h0M171.6 419.9h0M166.3 425.4h0M179.1 424.6h0M189.8 423.8h0M211.0 422.9h0M149.5 419.8h0M199.4 424.0h0M192.9 420.2h0M164.3 420.4h0M113.8 414.7h0M182.1 422.0h0M87.2 443.0h0M189.3 429.7h0M273.1 420.7h0M165.8 416.1h0M217.2 420.5h0M177.3 429.6h0M215.4 419.0h0M194.8 419.5h0M156.3 419.1h0M202.7 422.4h0M134.9 435.0h0M171.4 421.1h0M134.2 412.0h0M214.1 416.5h0M176.8 427.7h0M166.0 413.4h0M155.0 431.9h0M96.0 392.3h0M198.0 428.8h0M168.6 425.0h0M93.6 432.3h0M138.7 410.3h0M206.1 421.7h0M108.0 411.9h0M161.9 427.1h0M148.7 421.3h0M153.5 431.0h0M193.2 423.8h0M169.5 420.7h0M120.1 411.5h0M135.5 430.3h0M158.4 425.7h0M115.6 418.9h0M93.4 393.5h0M166.3 421.8h0M195.0 419.3h0M169.7 428.2h0M83.0 419.2h0M177.6 431.3h0M225.7 426.0h0M154.0 424.5h0M174.9 425.0h0M119.4 451.1h0M139.5 434.0h0M253.2 416.6h0M174.1 419.9h0M97.0 432.4h0M72.6 433.8h0M178.4 425.1h0M160.8 423.0h0M106.3 439.2h0M199.5 423.0h0M220.9 422.9h0M200.9 424.7h0M198.4 419.6h0M193.4 423.6h0M207.5 431.9h0M201.8 423.5h0M159.6 421.2h0M214.6 426.6h0M221.8 419.2h0M168.8 419.6h0M212.6 419.8h0M175.1 418.2h0M109.8 412.2h0M127.3 416.3h0M193.8 422.1h0M160.5 428.6h0M144.6 426.0h0M116.3 399.2h0M181.4 422.0h0M147.1 422.3h0M183.8 421.3h0M163.7 426.2h0M128.7 411.5h0M99.7 398.1h0M145.4 410.0h0M157.9 432.8h0M131.3 411.2h0M128.5 409.9h0M178.4 422.5h0M103.7 408.2h0M139.5 434.0h0M178.7 424.7h0M125.2 416.1h0M144.6 421.6h0M151.9 416.5h0M164.1 430.9h0M95.1 433.9h0M139.7 422.4h0M90.2 412.4h0M189.3 420.7h0M169.2 416.6h0M143.7 425.9h0M89.0 467.5h0M222.7 425.3h0M214.6 426.5h0M67.1 436.9h0M118.5 428.6h0M156.8 422.7h0M202.8 425.4h0M145.3 425.1h0M201.8 426.9h0M180.4 425.4h0M114.4 439.6h0M128.7 416.0h0M141.2 419.6h0M162.4 422.2h0M144.0 424.0h0M157.0 416.7h0M159.1 431.3h0M188.9 427.4h0M161.4 431.5h0M235.8 421.8h0M218.8 425.2h0M149.4 425.6h0M189.4 418.6h0M82.5 415.9h0M215.3 420.5h0M204.4 423.2h0M193.2 419.8h0M156.5 413.9h0M101.5 421.6h0M136.6 440.5h0M151.8 415.0h0M193.3 422.4h0M215.1 415.7h0M214.8 417.2h0M138.1 416.1h0M93.2 419.8h0M106.2 420.4h0M185.6 423.4h0M203.6 422.6h0M226.3 429.3h0M73.8 416.4h0M217.7 419.6h0M107.5 441.7h0M178.6 424.0h0M100.0 430.4h0M231.5 420.7h0M209.2 427.3h0M154.4 430.5h0M99.6 438.3h0M115.5 417.9h0M131.2 428.5h0M134.0 420.3h0M205.9 417.4h0M147.7 426.5h0M87.5 443.8h0M209.6 427.0h0M157.6 417.9h0M101.8 444.4h0M153.3 430.4h0M180.1 418.6h0M143.5 415.1h0M203.8 424.4h0M108.8 425.0h0M131.4 409.4h0M87.0 407.7h0M171.9 421.6h0M82.6 397.5h0M176.3 423.2h0M175.9 427.0h0M161.8 431.9h0M167.2 424.4h0M176.5 421.6h0M133.8 419.0h0M198.7 423.4h0M182.9 430.5h0M194.6 421.3h0M79.2 404.4h0M128.4 410.0h0M216.4 417.3h0M152.6 424.1h0M104.8 436.2h0M142.3 426.6h0M204.5 425.1h0M119.1 436.8h0M258.3 425.1h0M84.3 451.0h0M230.5 423.8h0M160.7 413.2h0M237.8 429.3h0M176.2 424.5h0M107.7 438.1h0M150.3 430.0h0M179.8 432.7h0M189.4 422.6h0M194.3 422.7h0M150.3 416.5h0M153.2 424.1h0M166.3 414.5h0M96.5 428.1h0M199.3 427.6h0M133.6 432.0h0M53.6 378.3h0M112.6 430.9h0M91.0 433.6h0M76.1 381.1h0M81.3 404.3h0M152.4 418.8h0M107.6 405.8h0M178.1 424.2h0M182.6 424.8h0M105.7 451.2h0M187.5 427.1h0M140.0 424.8h0M112.4 443.7h0M132.0 428.0h0M108.8 416.2h0M142.0 410.9h0M132.8 439.7h0M200.0 430.6h0M250.5 422.1h0M124.0 411.5h0M156.4 414.9h0M235.7 427.8h0M91.3 436.3h0M111.1 419.8h0M148.4 415.0h0M123.2 415.2h0M164.1 426.8h0M150.1 431.9h0M229.7 424.7h0M168.6 422.9h0M177.2 417.3h0M207.8 420.1h0M217.5 418.2h0M258.2 432.2h0M72.4 437.9h0M172.2 412.9h0M129.9 435.5h0M151.6 420.8h0M193.8 424.4h0M146.5 421.7h0M88.1 429.4h0M132.1 424.0h0M183.9 426.5h0M134.7 412.8h0M89.0 430.0h0M99.7 394.3h0M82.6 429.9h0M145.2 431.3h0M144.4 420.7h0M209.0 415.2h0M93.8 440.5h0M203.1 422.2h0M184.6 413.6h0M248.4 424.8h0M108.3 407.3h0M155.3 426.2h0M193.6 421.9h0M131.1 404.9h0M169.8 416.0h0M158.4 423.2h0M145.3 424.7h0M84.1 462.2h0M185.0 429.5h0M136.9 434.5h0M90.4 400.1h0M211.9 424.7h0M114.5 426.4h0M89.2 428.0h0M188.7 423.2h0M156.4 417.0h0M185.6 424.9h0M151.7 421.9h0M91.3 390.5h0M204.5 421.6h0M236.8 422.7h0M147.6 429.0h0M228.2 424.2h0M226.4 431.0h0M222.6 421.4h0M272.3 425.7h0" stroke="#999999" stroke-width="2.4" stroke-linecap="round" fill="none" stroke-opacity="0.24"/>
<path d="M134.7 427.8h0M191.6 423.7h0M99.4 414.6h0M84.9 417.4h0M112.7 437.4h0M240.9 425.8h0M94.8 395.8h0M84.2 436.3h0M87.4 448.3h0M163.4 426.0h0M150.4 423.6h0M82.1 432.5h0M133.3 403.8h0M192.1 420.9h0M228.0 423.6h0M134.8 412.6h0M181.0 420.3h0M171.1 425.6h0M102.5 395.8h0M224.2 421.3h0M163.6 422.4h0M136.3 425.8h0M244.9 421.1h0M172.7 421.5h0M167.1 419.7h0M85.7 448.1h0M156.4 428.3h0M235.2 422.3h0M239.4 440.3h0M182.9 422.7h0M156.1 430.7h0M192.4 422.9h0M167.5 424.9h0M103.8 408.5h0M139.7 409.6h0M154.8 430.4h0M201.3 422.0h0M135.1 437.3h0M71.7 420.5h0M61.7 405.2h0M145.7 427.7h0M201.0 425.5h0M181.9 422.2h0M104.5 400.6h0M67.5 458.8h0M112.8 422.8h0M216.2 422.0h0M180.5 420.5h0M133.1 419.0h0M153.8 425.2h0M175.2 429.4h0M180.5 415.1h0M95.5 426.9h0M180.5 416.9h0M245.1 425.7h0M129.1 420.3h0M262.9 424.7h0M124.2 422.2h0M108.6 392.7h0M192.6 426.2h0M187.4 421.7h0M184.4 420.9h0M97.7 439.7h0M173.6 433.0h0M109.0 403.8h0M220.1 422.8h0M118.6 392.7h0M210.2 424.7h0M181.7 431.9h0M196.6 424.5h0M121.5 409.1h0M142.3 412.0h0M246.9 429.6h0M223.3 429.8h0M142.9 437.2h0M193.3 420.8h0M235.9 420.5h0M92.7 450.6h0M72.0 398.4h0M122.1 404.9h0M140.3 432.0h0M149.5 411.5h0M192.2 427.5h0M161.2 424.3h0M152.2 422.8h0M122.9 433.9h0M178.0 413.5h0M152.0 421.8h0M180.2 420.6h0M155.1 426.7h0M145.3 418.8h0M214.3 420.5h0M146.4 416.1h0M148.4 422.7h0M170.0 425.9h0M174.5 417.7h0M158.0 419.6h0M67.5 426.4h0M187.2 428.6h0M156.9 426.1h0M177.2 433.6h0M207.9 422.5h0M204.9 420.6h0M127.7 437.0h0M176.0 430.6h0M92.6 404.2h0M116.7 416.2h0M166.7 425.8h0M178.9 425.7h0M146.9 411.8h0M190.9 431.7h0M116.1 417.9h0M128.0 422.3h0M123.8 424.5h0M162.4 428.9h0M102.1 419.1h0M222.3 428.0h0M208.4 422.1h0M119.3 426.8h0M226.3 421.6h0M222.5 417.6h0M92.1 417.4h0M89.1 420.1h0M143.4 426.4h0M84.3 471.9h0M118.6 413.4h0M214.9 417.6h0M208.8 421.6h0M162.2 424.1h0M268.3 429.0h0M118.2 415.9h0M206.7 426.7h0M184.8 419.9h0M141.6 442.3h0M128.4 444.7h0M183.1 424.2h0M239.1 420.9h0M109.4 417.2h0M214.2 422.8h0M204.6 423.3h0M236.9 430.8h0M124.4 403.9h0M124.0 420.3h0M103.9 406.4h0M157.5 414.0h0M108.3 444.4h0M136.9 439.3h0M138.7 427.3h0M97.0 437.2h0M153.9 424.6h0M202.4 423.6h0M131.3 418.8h0M145.9 431.8h0M155.1 423.7h0M165.2 423.3h0M93.2 441.8h0M206.0 422.0h0M147.0 426.5h0M151.7 410.1h0M209.0 428.2h0M110.5 423.0h0M175.6 425.5h0M245.7 420.0h0M144.9 429.6h0M252.0 420.8h0M93.6 415.7h0M164.9 430.8h0M81.9 446.9h0M219.3 423.6h0M128.6 422.1h0M176.9 424.0h0M187.1 420.0h0M197.1 432.5h0M87.5 396.7h0M103.4 446.2h0M211.9 427.9h0M161.3 425.4h0M153.1 414.0h0M223.0 429.2h0M130.6 432.7h0M161.4 425.8h0M107.8 423.4h0M230.8 425.5h0M140.9 422.0h0M92.5 435.9h0M226.4 423.1h0M131.0 443.5h0M222.9 423.5h0M221.2 421.5h0M69.2 462.0h0M149.4 422.6h0M115.6 428.1h0M84.8 413.9h0M167.9 412.6h0M100.4 412.6h0M169.1 420.8h0M141.8 431.1h0M152.2 424.3h0M110.5 429.3h0M140.3 431.6h0M241.2 428.3h0M223.6 423.0h0M107.8 430.2h0M168.5 419.5h0M163.0 421.2h0M144.5 420.7h0M179.4 426.6h0M193.3 415.4h0M248.4 420.6h0M159.1 412.2h0M166.0 424.4h0M136.3 405.6h0M133.7 433.6h0M120.6 443.7h0M176.1 424.7h0M87.9 427.1h0M177.0 420.9h0M127.5 413.7h0M182.6 419.5h0M109.4 414.5h0M158.4 430.6h0M105.3 443.3h0M156.0 426.2h0M184.6 424.4h0M193.1 416.8h0M251.7 429.9h0M127.9 436.8h0M203.2 418.0h0M200.1 427.5h0M188.0 419.3h0M240.8 420.8h0M176.9 425.4h0M216.2 416.5h0M196.4 417.9h0M81.2 395.5h0M199.9 422.1h0M233.6 422.3h0M227.2 420.1h0M100.3 461.9h0M213.1 424.3h0M201.8 426.4h0M122.9 435.2h0M175.4 426.4h0M161.2 424.7h0M205.5 420.3h0M167.6 420.4h0M184.7 423.0h0M204.1 419.7h0M106.8 428.8h0M209.7 425.3h0M183.8 415.0h0M153.9 425.8h0M228.5 428.7h0M181.0 425.0h0M184.6 421.1h0M183.0 425.5h0M131.0 425.2h0M96.9 451.9h0M145.1 418.4h0M197.9 420.5h0M183.1 417.4h0M88.6 444.2h0M160.0 431.0h0M115.0 443.4h0M201.7 427.9h0M220.6 417.1h0M186.0 418.6h0M207.2 421.3h0M83.8 456.4h0M84.7 431.0h0M185.5 416.1h0M127.8 404.3h0M144.2 437.6h0M175.3 421.2h0M57.1 426.3h0M175.3 430.4h0M121.8 427.7h0M92.2 393.4h0M151.3 419.3h0M206.8 424.0h0M175.8 433.7h0M236.2 423.7h0M88.8 401.2h0M236.6 420.4h0M206.6 422.4h0M88.3 394.5h0M188.6 416.3h0M163.6 418.6h0M179.3 425.3h0M135.9 411.4h0M79.4 394.5h0M121.9 422.1h0M152.2 422.9h0M154.4 426.8h0M84.8 462.3h0M216.7 424.5h0M222.1 424.6h0M183.6 430.8h0M255.5 426.1h0M111.8 432.9h0M209.8 418.0h0M206.9 425.1h0M127.2 426.8h0M143.8 417.8h0M194.2 425.2h0M217.3 424.9h0M166.7 433.4h0M131.1 421.9h0M234.7 427.0h0M173.8 412.5h0M136.9 426.8h0M127.1 422.3h0M175.2 426.0h0M119.5 428.4h0M180.6 420.0h0M174.7 422.6h0M236.1 424.5h0M185.5 416.7h0M200.1 422.9h0M208.7 430.0h0M205.9 422.2h0M93.4 415.6h0M176.2 425.4h0M213.7 422.6h0M236.4 420.8h0M119.1 419.5h0M152.6 418.2h0M149.5 434.0h0M106.1 430.1h0M166.7 418.7h0M189.2 423.6h0M145.1 409.2h0M189.9 427.9h0M172.7 419.3h0M222.8 415.1h0M83.1 452.0h0M227.1 424.9h0M109.3 452.3h0M89.9 408.7h0M138.2 420.9h0M182.5 423.2h0M124.4 423.0h0M90.2 412.6h0M202.9 426.5h0M143.2 416.4h0M210.0 424.5h0M154.2 427.6h0M112.4 394.7h0M120.7 436.5h0M207.4 430.8h0M197.1 422.1h0" stroke="#999999" stroke-width="2.4" stroke-linecap="round" fill="none" stroke-opacity="0.24"/>
<path d="M105.4 432.9h0M128.5 441.1h0M187.4 427.4h0M142.4 424.1h0M155.8 418.0h0M121.5 424.1h0M240.6 418.9h0M217.1 420.6h0M121.9 423.4h0M198.1 420.5h0M145.9 422.1h0M141.2 427.3h0M208.2 419.1h0M119.4 422.9h0M187.8 416.9h0M138.3 425.3h0M206.4 421.7h0M141.4 430.3h0M85.6 430.7h0M90.4 398.6h0M164.5 427.2h0M137.6 429.7h0M198.9 429.4h0M98.8 429.4h0M193.4 427.3h0M165.7 431.2h0M158.7 417.4h0M131.4 427.0h0M147.2 417.9h0M138.9 435.2h0M219.3 427.9h0M169.9 428.8h0M180.7 426.7h0M135.7 414.1h0M78.9 444.4h0M182.0 420.1h0M208.3 420.0h0M82.3 433.4h0M186.8 421.1h0M201.2 422.8h0M162.1 425.0h0M199.8 417.3h0M177.8 432.3h0M194.3 429.4h0M208.5 426.4h0M144.2 435.4h0M99.1 403.3h0M163.6 426.9h0M152.4 414.2h0M217.0 420.1h0M116.5 435.6h0M216.9 426.6h0M158.3 431.3h0M114.9 423.5h0M248.0 420.4h0M196.8 431.2h0M143.5 436.6h0M210.0 422.2h0M107.3 389.8h0M199.6 419.1h0M148.8 423.9h0M198.9 428.2h0M244.6 419.5h0M187.5 426.2h0M74.0 379.6h0M99.7 435.4h0M149.7 425.8h0M152.0 413.5h0M89.2 455.1h0M98.8 460.1h0M123.6 442.9h0M98.6 418.0h0M140.5 418.4h0M163.5 426.1h0M159.4 430.4h0M198.2 424.0h0M147.3 412.6h0M172.5 430.3h0M115.7 424.9h0M206.2 421.8h0M116.6 431.2h0M264.2 425.8h0M93.5 420.5h0M91.7 432.5h0M176.4 423.0h0M89.1 399.5h0M169.8 424.9h0M126.2 427.3h0M166.3 434.1h0M182.6 419.4h0M162.4 417.5h0M87.6 426.0h0M152.7 414.2h0M191.5 416.3h0M143.0 415.3h0M133.8 436.4h0M189.2 429.6h0M215.9 421.6h0M189.7 426.1h0M72.8 410.7h0M227.4 421.4h0M87.4 432.8h0M205.1 420.2h0M61.2 383.4h0M92.9 415.7h0M146.7 426.7h0M156.4 421.2h0M87.4 453.4h0M223.2 421.4h0M241.0 424.0h0M141.1 413.8h0M201.2 424.5h0M149.8 440.0h0M205.3 430.9h0M181.4 420.8h0M148.3 428.0h0M160.7 425.4h0M164.1 424.0h0M118.8 438.6h0M218.8 426.8h0M63.3 442.4h0M173.1 417.3h0M105.4 416.5h0M140.8 421.6h0M229.9 422.7h0M99.7 458.5h0M93.4 448.2h0M215.8 422.2h0M118.9 395.5h0M139.1 411.0h0M96.8 412.1h0M164.0 414.4h0M201.3 426.0h0M190.8 422.4h0M190.0 421.7h0M167.0 415.8h0M207.2 429.3h0M115.6 429.3h0M115.6 433.9h0M192.7 417.8h0M164.7 410.9h0M149.5 411.8h0M160.2 430.3h0M87.4 426.6h0M146.4 425.6h0M187.7 418.0h0M175.4 427.2h0M135.0 426.6h0M108.9 419.9h0M169.1 425.9h0M166.2 428.2h0M162.1 431.8h0M145.4 427.8h0M223.6 424.4h0M190.1 427.2h0M202.0 415.9h0M131.4 429.0h0M122.6 428.9h0M246.5 432.2h0M191.4 423.0h0M219.5 419.2h0M83.9 414.7h0M175.3 427.4h0M213.7 424.6h0M157.4 424.4h0M71.4 471.0h0M161.9 418.2h0M213.6 426.5h0M261.2 424.0h0M90.0 438.9h0M214.1 426.3h0M103.1 430.0h0M243.0 417.5h0M127.1 426.2h0M209.8 431.5h0M125.2 433.0h0M165.9 429.3h0M180.9 419.2h0M121.5 416.2h0M79.8 465.6h0M139.4 417.1h0M150.5 422.1h0M248.1 424.9h0M190.8 424.7h0M108.3 427.8h0M145.1 427.2h0M133.3 411.0h0M211.9 418.6h0M79.4 367.6h0M113.4 430.6h0M120.1 433.4h0M218.9 428.3h0M215.7 425.5h0M127.6 431.8h0M158.7 417.8h0M217.0 423.7h0M176.3 424.6h0M208.0 421.2h0M67.0 439.6h0M146.2 432.4h0M192.7 421.8h0M126.8 427.2h0M109.1 403.6h0M178.5 428.2h0M176.9 426.4h0M180.1 425.9h0M231.0 431.4h0M149.9 435.9h0M200.9 429.9h0M160.6 435.4h0M162.3 428.7h0M105.5 422.6h0M172.3 423.7h0M95.3 406.9h0M220.5 426.9h0M133.7 415.7h0M169.4 413.3h0M141.7 418.8h0M96.9 441.6h0M103.6 406.9h0M115.5 448.5h0M133.7 434.5h0M183.4 426.9h0M160.2 426.2h0M101.0 412.6h0M138.6 434.8h0M201.1 426.1h0M179.0 415.2h0M101.5 413.4h0M86.9 427.1h0M122.3 422.3h0M173.9 422.3h0M91.4 448.0h0M187.5 418.8h0M87.1 393.1h0M101.9 410.9h0M100.9 444.9h0M168.2 420.7h0M126.0 412.8h0M201.2 421.4h0M155.6 417.8h0M130.0 416.6h0M235.3 418.8h0M211.4 418.0h0M101.3 416.3h0M182.9 422.2h0M193.4 422.8h0M142.8 418.6h0M141.3 419.6h0M128.6 406.8h0M138.7 427.6h0M217.2 421.7h0M90.1 441.8h0M96.5 463.2h0M167.7 422.7h0M55.6 382.1h0M185.6 417.4h0M205.2 425.0h0M180.1 420.5h0M81.6 452.2h0M151.2 419.7h0M63.5 378.3h0M234.6 421.0h0M259.4 426.3h0M111.8 419.3h0M142.6 426.6h0M200.5 427.1h0M136.9 419.8h0M142.4 418.3h0M86.5 463.7h0M184.2 425.9h0M105.7 433.5h0M211.4 423.7h0M146.4 408.9h0M156.6 421.3h0M194.3 416.7h0M159.2 415.1h0M236.3 421.7h0M216.5 426.3h0M104.3 411.5h0M181.3 426.7h0M225.7 421.9h0M224.7 422.1h0M118.5 442.7h0M89.1 451.5h0M85.1 418.1h0M172.8 418.2h0M201.1 426.3h0M172.5 422.6h0M217.2 422.4h0M250.8 426.9h0M108.6 412.4h0M163.4 423.3h0M153.9 430.3h0M113.5 396.5h0M194.8 423.3h0M184.6 423.0h0M220.9 430.9h0M128.7 423.5h0M159.4 423.2h0M155.2 424.3h0M234.5 423.9h0M99.2 396.5h0M205.2 421.2h0M82.2 427.0h0M132.4 418.3h0M83.6 418.6h0M127.8 435.6h0M88.6 427.9h0M165.2 420.1h0M135.7 438.4h0M101.1 404.8h0M166.1 425.2h0M151.5 433.9h0M139.9 426.3h0M146.8 438.7h0M163.5 423.3h0M139.2 411.6h0M140.6 420.4h0M227.6 425.4h0M164.7 412.5h0M226.2 422.6h0M188.4 430.2h0M87.4 432.2h0M185.6 420.6h0M137.9 418.7h0M172.0 428.1h0M121.0 435.2h0M197.2 423.0h0M160.5 422.5h0M145.6 423.9h0M80.0 462.0h0M211.0 426.0h0M196.3 419.0h0M149.1 429.5h0M76.7 417.4h0M132.6 434.2h0M92.9 434.0h0M217.6 428.4h0M142.7 429.8h0M144.7 423.8h0M176.0 430.9h0M93.9 400.0h0M182.1 422.0h0M146.3 432.5h0M170.3 422.8h0M89.6 395.1h0M128.7 445.0h0M239.2 424.0h0M80.0 433.3h0M96.4 406.7h0" stroke="#999999" stroke-width="2.4" stroke-linecap="round" fill="none" stroke-opacity="0.24"/>
<path d="M177.8 419.6h0M220.1 423.9h0M202.2 425.3h0M91.1 431.2h0M120.2 428.6h0M155.9 422.1h0M84.2 427.1h0M102.6 450.9h0M118.8 430.9h0M201.6 425.7h0M177.4 431.1h0M203.0 426.0h0M160.5 418.1h0M167.1 428.9h0M164.5 435.4h0M84.9 405.2h0M149.5 415.3h0M83.3 413.9h0M105.6 423.7h0M206.7 419.5h0M222.0 423.3h0M158.6 433.7h0M129.0 412.0h0M135.8 414.4h0M128.2 418.6h0M158.4 422.3h0M90.3 392.0h0M159.6 429.8h0M80.6 415.3h0M221.2 422.4h0M112.4 397.0h0M71.1 416.5h0M222.1 421.6h0M76.4 421.7h0M127.2 443.1h0M219.8 424.5h0M157.4 426.2h0M144.4 425.0h0M85.8 421.7h0M92.2 417.6h0M63.4 423.5h0M73.8 400.6h0M152.1 422.5h0M197.5 424.2h0M195.7 422.6h0M200.5 429.0h0M129.8 417.0h0M130.8 439.6h0M120.4 422.1h0M191.4 424.1h0M148.4 413.8h0M189.8 423.7h0M87.4 447.2h0M245.0 422.2h0M175.7 426.4h0M184.9 422.1h0M193.7 427.8h0M175.9 423.8h0M176.3 424.6h0M119.2 417.1h0M158.6 423.5h0M76.6 457.1h0M254.0 421.1h0M199.7 421.4h0M199.0 431.9h0M169.1 424.0h0M169.1 416.5h0M140.6 428.5h0M86.2 443.8h0M120.0 415.8h0M100.6 389.5h0M242.0 426.3h0M206.6 426.2h0M84.0 426.8h0M96.5 395.7h0M190.4 431.1h0M94.0 431.8h0M181.0 424.9h0M206.9 426.7h0M129.4 410.1h0M186.8 422.9h0M113.6 406.3h0M86.5 435.9h0M203.6 429.2h0M179.7 429.4h0M155.3 422.7h0M269.0 429.5h0M215.0 425.4h0M94.0 429.3h0M208.1 423.4h0M151.8 426.2h0M183.0 421.8h0M181.6 424.4h0M255.6 420.4h0M191.1 416.1h0M164.0 412.9h0M202.6 430.4h0M121.7 435.8h0M169.2 423.9h0M188.5 417.2h0M60.7 405.3h0M171.6 418.3h0M136.0 420.6h0M214.1 419.5h0M152.2 418.7h0M198.1 419.0h0M103.2 443.2h0M122.3 406.6h0M94.8 413.9h0M144.1 421.3h0M113.9 426.7h0M122.6 406.7h0M61.5 404.7h0M202.2 416.8h0M133.2 412.1h0M180.9 424.5h0M160.9 418.9h0M171.8 425.0h0M220.9 431.6h0M94.2 413.9h0M145.7 411.5h0M143.7 418.1h0M104.3 422.1h0M64.4 401.8h0M196.8 421.5h0M110.4 413.1h0M122.4 401.4h0M220.8 425.6h0M106.3 426.4h0M192.7 429.3h0M207.0 414.8h0M121.7 423.5h0M187.2 419.6h0M226.6 419.3h0M217.8 421.7h0M141.4 424.3h0M143.0 416.0h0M130.4 434.4h0M148.6 414.5h0M218.2 427.5h0M154.1 422.7h0M116.7 432.0h0M136.3 422.7h0M101.8 390.0h0M127.4 436.2h0M101.5 409.2h0M139.6 431.0h0M140.4 412.5h0M162.9 432.4h0M215.1 429.2h0M184.8 417.1h0M137.0 428.3h0M147.9 421.3h0M149.2 421.2h0M117.1 413.6h0M127.1 411.2h0M170.3 418.0h0M235.8 425.2h0M228.0 425.4h0M199.6 419.6h0M232.7 428.0h0M150.7 426.0h0M160.0 427.3h0M205.8 426.2h0M181.2 423.9h0M154.3 430.0h0M225.3 424.6h0M58.1 470.7h0M245.6 424.7h0M103.6 436.8h0M168.3 425.9h0M90.2 433.1h0M191.2 418.1h0M174.4 425.6h0M132.1 407.7h0M219.0 429.2h0M156.7 422.7h0M175.5 430.9h0M107.5 441.5h0M94.2 448.2h0M194.2 417.1h0M125.9 422.9h0M174.4 422.8h0M106.7 402.1h0M170.0 429.3h0M205.5 422.2h0M156.3 430.4h0M163.4 422.3h0M103.3 452.1h0M177.6 428.0h0M219.2 427.4h0M150.6 411.0h0M106.4 394.6h0M232.0 426.7h0M230.2 423.1h0M126.0 420.6h0M161.3 417.9h0M188.3 419.3h0M89.4 391.7h0M152.1 419.4h0M159.1 419.7h0M84.4 430.1h0M107.4 431.1h0M141.1 425.0h0M133.3 444.9h0M130.8 433.2h0M261.3 429.2h0M217.3 427.3h0M166.8 418.4h0M230.9 428.0h0M202.0 429.9h0M164.7 424.9h0M180.5 421.5h0M209.8 420.7h0M142.4 421.4h0M222.0 429.9h0M88.3 380.9h0M208.4 429.9h0M220.0 420.1h0M185.2 414.4h0M237.5 423.7h0M196.7 430.0h0M218.9 423.6h0M164.3 422.1h0M159.7 430.6h0M175.3 423.7h0M239.3 423.8h0M70.7 399.2h0M212.1 418.9h0M126.4 439.1h0M150.8 415.1h0M95.0 423.0h0M180.0 424.4h0M246.6 424.9h0M124.6 437.1h0M95.9 433.0h0M231.5 422.8h0M236.2 424.6h0M130.9 434.6h0M184.6 432.5h0M175.6 427.0h0M237.4 418.8h0M146.5 430.2h0M74.0 398.2h0M174.7 421.8h0M188.1 416.7h0M232.1 421.3h0M162.9 431.5h0M57.1 428.2h0M207.7 421.4h0M83.3 470.3h0M146.0 432.2h0M217.0 420.9h0M102.1 428.5h0M202.4 429.2h0M217.8 414.9h0M87.9 415.1h0M151.5 419.7h0M169.8 422.1h0M133.8 420.7h0M196.1 427.5h0M160.9 428.1h0M200.0 423.5h0M120.8 438.6h0M114.3 434.7h0M148.7 416.8h0M124.2 431.3h0M195.7 422.7h0M179.8 429.2h0M110.3 422.7h0M242.8 437.7h0M181.6 420.3h0M182.6 423.0h0M210.4 423.8h0M199.0 425.4h0M128.0 416.1h0M243.4 427.6h0M143.9 420.1h0M208.9 426.2h0M244.3 420.4h0M95.5 422.7h0M204.5 421.4h0M181.1 423.3h0M147.0 423.5h0M179.3 421.6h0M169.8 419.9h0M130.9 426.4h0M199.0 428.5h0M196.8 422.8h0M238.9 428.1h0M182.6 428.5h0M172.6 424.7h0M54.9 377.1h0M189.8 429.6h0M174.2 434.1h0M90.7 418.0h0M175.7 426.7h0M101.2 413.3h0M110.4 440.8h0M89.8 454.9h0M170.3 412.5h0M111.5 393.5h0M91.4 389.3h0M241.6 420.9h0M100.8 428.5h0M175.4 422.0h0M154.1 427.6h0M213.2 424.3h0M199.8 424.9h0M161.2 428.1h0M148.2 438.2h0M213.1 425.7h0M258.0 418.5h0M142.6 428.6h0M175.5 425.3h0M247.2 421.1h0M236.0 424.4h0M103.4 431.8h0M117.8 434.8h0M140.2 437.9h0M133.7 423.4h0M93.2 406.8h0M100.6 437.0h0M200.6 427.9h0M80.7 442.3h0M131.5 419.7h0M225.7 421.4h0M115.0 417.9h0M142.4 438.1h0M91.2 406.3h0M217.6 421.6h0M92.8 423.9h0M113.3 402.5h0M220.5 426.0h0M202.8 422.0h0M212.2 423.7h0M166.2 416.8h0M212.7 421.0h0M219.1 418.8h0M144.6 435.1h0M57.0 463.3h0M127.1 416.4h0M127.7 418.2h0M227.4 425.0h0M186.7 422.4h0M225.0 422.0h0M247.2 419.9h0M163.4 427.2h0M127.2 404.5h0M201.9 418.4h0M137.6 417.8h0" stroke="#999999" stroke-width="2.4" stroke-linecap="round" fill="none" stroke-opacity="0.24"/>
<path d="M240.7 430.7h0M111.6 417.7h0M200.1 427.5h0M107.3 404.7h0M116.0 436.1h0M143.0 432.1h0M230.8 426.0h0M61.5 456.6h0M71.7 410.2h0M93.2 423.8h0M211.9 423.3h0M163.4 417.4h0M221.5 422.4h0M74.4 439.3h0M237.2 427.3h0M157.8 432.7h0M154.8 431.6h0M129.1 424.7h0M140.5 425.7h0M177.4 412.9h0M218.4 423.4h0M189.3 417.5h0M250.9 424.3h0M120.2 428.2h0M79.9 389.4h0M257.4 423.7h0M194.2 426.6h0M125.7 442.7h0M198.8 428.1h0M126.6 432.1h0M213.3 422.0h0M114.0 445.8h0M80.0 453.4h0M95.1 433.8h0M168.5 426.2h0M148.4 411.2h0M82.9 424.6h0M208.5 421.5h0M143.3 427.6h0M103.7 416.8h0M196.9 422.7h0M53.4 436.7h0M114.4 396.1h0M110.9 435.4h0M152.8 424.9h0M139.5 434.5h0M197.6 429.4h0M210.6 425.4h0M177.8 423.8h0M146.6 424.4h0M112.2 439.7h0M96.4 420.1h0M173.9 425.1h0M215.3 426.5h0M184.7 421.5h0M94.5 405.3h0M211.5 429.6h0M213.3 424.9h0M84.8 427.3h0M196.8 424.5h0M141.7 422.2h0M137.4 435.9h0M108.3 421.0h0M205.4 417.1h0M131.7 424.3h0M129.8 427.5h0M156.8 423.5h0M130.1 421.3h0M99.1 415.1h0M81.4 449.3h0M159.4 418.2h0M147.7 407.1h0M217.0 423.1h0M146.2 416.5h0M151.3 409.6h0M191.6 427.5h0M116.7 442.4h0M105.4 389.2h0M174.9 413.0h0M93.4 423.1h0M89.1 379.2h0M230.9 424.2h0M115.2 417.4h0M144.8 417.5h0M138.4 422.0h0M269.6 421.8h0M100.6 431.4h0M221.1 424.9h0M127.0 403.2h0M233.4 422.6h0M208.7 428.3h0M221.4 421.5h0M134.3 419.4h0M250.3 422.2h0M156.0 424.4h0M192.2 417.3h0M221.5 423.5h0M208.3 418.6h0M113.1 431.0h0M133.7 404.5h0M155.5 430.9h0M187.1 416.8h0M171.4 415.4h0M105.9 405.7h0M189.5 422.6h0M143.6 419.3h0M196.4 427.4h0M199.1 419.8h0M168.6 426.6h0M124.5 406.8h0M256.9 423.0h0M218.3 418.9h0M150.7 427.3h0M126.4 437.1h0M116.4 433.1h0M134.8 432.5h0M83.1 372.2h0M107.1 391.6h0M74.6 445.9h0M94.7 433.1h0M131.4 421.7h0M139.5 431.3h0M194.7 416.5h0M177.1 423.7h0M165.8 427.6h0M199.9 415.9h0M185.1 428.1h0M101.4 425.6h0M160.9 421.1h0M203.4 418.7h0M139.1 428.0h0M161.2 437.5h0M196.7 427.4h0M89.0 391.0h0M212.3 423.8h0M169.2 427.2h0M113.0 418.5h0M227.2 419.1h0M218.5 424.0h0M201.2 420.7h0M159.3 428.1h0M200.8 415.6h0M203.8 418.9h0M183.8 426.3h0M198.6 420.5h0M220.7 420.7h0M138.3 413.6h0M165.9 427.1h0M117.5 411.8h0M70.6 413.9h0M170.9 420.5h0M200.2 421.3h0M182.3 425.8h0M93.9 421.7h0M114.6 447.6h0M57.0 424.6h0M226.0 421.1h0M184.4 428.6h0M126.8 421.6h0M89.4 419.2h0M217.0 422.0h0M218.9 424.9h0M199.5 417.8h0M192.4 426.6h0M209.2 424.5h0M201.8 429.1h0M124.9 410.1h0M194.3 428.8h0M183.9 426.0h0M99.2 424.1h0M187.5 431.2h0M124.4 415.5h0M196.0 424.5h0M136.9 427.6h0M216.9 423.0h0M179.9 416.3h0M117.3 432.5h0M189.4 429.4h0M228.8 420.5h0M100.9 444.5h0M87.7 445.2h0M122.8 419.1h0M80.4 446.0h0M98.9 406.2h0M122.5 416.3h0M172.6 421.1h0M96.2 429.1h0M262.2 427.3h0M114.2 430.4h0M166.6 421.8h0M162.3 421.7h0M145.3 425.6h0M195.5 423.7h0M149.8 428.0h0M150.0 432.3h0M188.3 423.3h0M167.8 422.5h0M146.8 424.4h0M142.6 407.1h0M68.8 451.2h0M169.0 419.9h0M85.0 426.4h0M210.4 417.9h0M157.5 428.8h0M140.8 418.1h0M222.0 423.9h0M117.6 444.9h0M150.8 415.7h0M152.4 414.2h0M88.4 384.0h0M159.3 417.4h0M133.9 434.6h0M200.0 422.5h0M153.3 421.5h0M95.5 401.5h0M191.0 421.8h0M179.9 423.0h0M199.6 426.3h0M214.7 425.1h0M242.1 442.0h0M178.3 420.6h0M208.7 424.5h0M230.6 423.5h0M204.4 425.5h0M178.3 421.6h0M165.7 422.3h0M171.3 418.4h0M142.7 410.8h0M182.3 423.2h0M107.2 405.2h0M176.3 415.4h0M77.5 420.5h0M248.0 423.7h0M85.2 409.2h0M129.7 444.2h0M134.1 428.2h0M178.8 423.4h0M140.6 421.6h0M213.2 421.4h0M198.5 422.2h0M214.7 427.1h0M252.9 420.9h0M206.9 424.2h0M132.8 434.4h0M141.3 416.6h0M211.5 422.2h0M182.9 416.1h0M161.4 422.3h0M249.3 421.5h0M115.8 430.1h0M240.6 416.6h0M252.6 423.6h0M168.2 421.3h0M154.1 420.2h0M96.7 414.3h0M107.6 454.4h0M123.9 422.9h0M70.3 424.9h0M87.2 406.9h0M69.9 468.1h0M113.2 409.4h0M232.1 426.2h0M182.5 423.9h0M156.7 434.2h0M249.4 423.0h0M218.8 420.4h0M104.3 455.5h0M80.0 430.9h0M126.7 416.0h0M81.3 426.0h0M217.3 419.8h0M223.8 425.1h0M172.3 432.1h0M220.9 424.6h0M154.3 415.2h0M166.3 418.3h0M217.5 425.1h0M61.1 473.3h0M69.3 428.3h0M177.6 430.4h0M99.9 412.2h0M116.6 401.8h0M219.0 426.2h0M188.9 426.5h0M203.3 416.0h0M179.5 419.3h0M175.1 431.9h0M166.0 416.6h0M174.2 422.1h0M102.9 430.8h0M145.3 424.4h0M149.2 423.7h0M223.6 421.1h0M167.3 426.3h0M95.4 404.7h0M150.2 417.4h0M149.9 416.3h0M183.3 422.9h0M135.6 428.4h0M119.8 439.4h0M137.6 433.8h0M217.9 429.3h0M155.3 414.8h0M153.2 416.6h0M85.1 453.7h0M150.2 432.0h0M182.0 434.7h0M213.6 418.7h0M85.2 424.7h0M246.8 419.5h0M235.2 421.7h0M166.6 413.4h0M192.0 426.0h0M116.0 426.2h0M104.3 448.2h0M249.5 418.6h0M106.9 433.3h0M98.6 428.4h0M227.7 422.8h0M150.1 422.4h0M137.1 431.0h0M110.8 401.5h0M135.2 417.1h0M206.1 422.4h0M78.6 451.2h0M178.6 431.5h0M182.7 424.5h0M199.7 425.6h0M77.2 381.2h0M195.4 416.8h0M206.4 416.3h0M197.6 420.7h0M244.0 418.7h0M225.8 418.2h0M205.6 425.7h0M192.1 422.0h0M200.5 424.4h0M151.1 427.2h0M96.7 406.5h0M104.4 419.4h0M132.7 428.9h0M144.8 427.8h0M146.8 440.7h0M79.9 403.2h0M107.0 412.5h0M176.2 427.2h0M211.2 431.9h0M251.1 430.0h0M94.7 410.1h0M189.5 417.1h0M178.7 421.1h0" stroke="#999999" stroke-width="2.4" stroke-linecap="round" fill="none" stroke-opacity="0.24"/>
<path d="M160.7 422.3h0M253.0 433.4h0M202.7 423.1h0M160.3 432.9h0M235.3 418.5h0M261.9 416.8h0M130.4 409.8h0M100.8 426.8h0M121.7 439.6h0M106.0 443.6h0M88.8 416.0h0M217.8 428.9h0M142.5 440.5h0M248.0 424.2h0M229.2 419.4h0M126.3 425.1h0M192.6 425.8h0M98.4 423.9h0M229.4 420.9h0M244.2 420.0h0M266.9 425.2h0M93.7 440.1h0M140.8 428.5h0M90.8 462.4h0M167.8 429.1h0M252.0 423.9h0M142.3 421.8h0M118.8 405.6h0M159.6 420.3h0M63.2 434.9h0M70.2 442.7h0M82.8 390.6h0M195.6 418.4h0M63.7 454.6h0M136.1 417.4h0M143.7 424.4h0M120.4 411.1h0M232.0 418.8h0M184.9 422.5h0M233.6 425.1h0M205.8 420.9h0M223.9 417.3h0M169.4 419.7h0M106.5 397.2h0M208.6 424.7h0M126.7 407.0h0M237.4 425.7h0M180.4 423.8h0M194.9 420.1h0M147.9 440.8h0M238.2 426.8h0M186.5 425.8h0M196.5 421.0h0M111.6 432.6h0M131.7 425.6h0M113.0 429.0h0M139.1 422.7h0M211.5 422.0h0M212.9 421.2h0M62.2 454.3h0M186.2 420.6h0M135.7 433.6h0M108.4 418.8h0M224.6 418.0h0M178.9 428.3h0M120.1 423.4h0M76.7 415.5h0M148.5 420.6h0M228.9 425.2h0M199.8 426.3h0M145.2 420.2h0M137.4 426.6h0M257.3 422.0h0M98.7 425.6h0M90.6 412.1h0M234.4 418.5h0M58.4 436.5h0M86.5 382.1h0M170.4 424.1h0M180.6 426.3h0M182.0 416.4h0M135.8 420.2h0M80.1 446.5h0M192.5 428.3h0M233.8 421.4h0M187.3 425.2h0M132.8 414.2h0M80.0 410.1h0M133.8 427.7h0M111.5 439.8h0M200.0 414.2h0M204.5 425.8h0M135.4 426.4h0M231.1 422.3h0M139.9 437.8h0M122.4 424.7h0M176.7 426.9h0M152.7 415.5h0M121.5 430.2h0M211.7 426.9h0M106.0 455.2h0M163.1 423.3h0M120.6 419.0h0M174.7 430.1h0M173.0 430.5h0M231.5 423.2h0M239.7 416.2h0M193.9 423.9h0M214.7 426.0h0M246.5 424.3h0M161.7 423.3h0M167.2 423.6h0M175.7 420.6h0M135.2 423.1h0M235.7 425.3h0M122.4 417.2h0M172.3 423.5h0M185.4 432.0h0M209.5 420.3h0M53.0 432.5h0M135.4 427.0h0M156.8 420.0h0M192.3 426.1h0M208.9 428.3h0M60.7 431.2h0M93.9 445.7h0M219.0 420.3h0M134.9 405.3h0M104.6 415.6h0M236.7 423.0h0M197.8 417.5h0M154.9 418.0h0M152.7 406.8h0M271.3 426.9h0M80.0 446.6h0M105.8 440.3h0M115.8 434.9h0M117.6 430.6h0M182.8 421.2h0M220.9 422.5h0M146.2 408.5h0M163.1 412.8h0M210.3 424.9h0M166.3 429.2h0M147.8 423.6h0M161.8 422.6h0M85.0 427.2h0M103.1 426.7h0M122.3 418.8h0M214.3 417.0h0M204.2 422.5h0M183.0 432.5h0M179.0 420.8h0M195.9 419.0h0M212.4 422.9h0M182.9 420.2h0M175.0 423.3h0M134.7 432.2h0M90.1 429.1h0M128.7 438.7h0M169.2 429.2h0M182.7 420.2h0M147.8 421.9h0M84.4 412.9h0M146.0 431.7h0M221.7 420.0h0M178.8 417.8h0M138.5 435.8h0M198.6 419.3h0M153.1 427.8h0M177.7 422.3h0M163.8 433.3h0M100.1 437.4h0M168.7 429.4h0M179.1 425.8h0M122.7 440.0h0M233.7 423.9h0M166.3 425.3h0M182.4 424.4h0M164.4 421.0h0M223.1 419.0h0M134.0 405.6h0M181.9 418.1h0M115.3 413.1h0M149.4 429.4h0M96.2 441.2h0M114.8 419.5h0M214.2 427.7h0M185.1 426.6h0M160.6 413.7h0M114.1 426.8h0M183.6 422.0h0M173.8 422.8h0M170.9 418.3h0M134.8 409.1h0M165.0 424.8h0M253.9 420.7h0M220.2 420.7h0M196.4 423.2h0M205.0 426.7h0M140.3 414.1h0M158.9 422.6h0M86.0 429.8h0M269.2 420.3h0M232.8 423.4h0M128.8 417.1h0M149.7 420.5h0M89.7 458.3h0M184.3 416.2h0M194.9 427.7h0M226.5 421.8h0M153.2 429.3h0M147.6 417.2h0M216.3 421.2h0M197.6 418.6h0M112.5 425.3h0M184.5 420.2h0M143.0 420.2h0M99.8 424.9h0M159.4 422.7h0M154.1 423.8h0M195.8 424.3h0M192.3 418.1h0M219.1 424.5h0M117.5 430.8h0M182.5 424.4h0M152.1 430.0h0M101.3 442.7h0M217.1 427.0h0M228.9 422.6h0M162.2 425.3h0M147.4 427.6h0M129.3 442.7h0M215.8 418.3h0M116.6 435.7h0M147.1 430.5h0M107.6 421.6h0M225.5 424.8h0M142.3 423.2h0M206.6 418.5h0M178.0 426.6h0M205.1 420.6h0M108.1 398.9h0M213.5 428.4h0M54.8 462.3h0M149.7 434.0h0M227.2 428.7h0M209.3 424.8h0M109.3 452.2h0M184.1 422.0h0M116.6 405.3h0M188.8 424.5h0M224.6 420.3h0M133.1 406.9h0M251.1 425.6h0M137.7 416.0h0M174.7 430.1h0M144.6 426.8h0M209.3 424.7h0M196.0 428.1h0M165.4 422.7h0M194.0 420.1h0M232.3 424.4h0M196.0 420.2h0M240.7 424.6h0M179.2 421.4h0M104.2 434.4h0M145.2 407.6h0M108.6 445.8h0M226.1 425.8h0M141.8 418.2h0M216.1 430.7h0M217.0 423.1h0M147.8 433.0h0M173.8 427.1h0M110.2 401.3h0M143.9 416.3h0M148.7 429.1h0M92.6 448.5h0M161.8 428.9h0M124.9 441.0h0M105.3 449.6h0M129.3 434.1h0M222.9 424.5h0M161.5 414.5h0M120.9 446.1h0M160.4 423.6h0M158.2 421.4h0M91.3 414.8h0M143.2 429.8h0M218.1 426.4h0M175.0 419.4h0M151.2 415.9h0M127.6 424.4h0M153.6 409.8h0M210.7 417.3h0M146.7 426.7h0M81.7 409.0h0M226.3 428.4h0M234.5 420.3h0M118.4 444.2h0M110.7 413.7h0M177.9 424.8h0M74.4 406.1h0M83.8 432.3h0M173.2 433.2h0M236.1 426.4h0M146.7 425.0h0M203.4 424.4h0M203.6 424.7h0M168.4 429.7h0M165.0 417.8h0M180.0 426.4h0M96.6 437.3h0M225.9 428.2h0M60.7 434.0h0M197.0 425.9h0M162.7 422.2h0M141.6 409.7h0M126.1 431.3h0M101.2 450.5h0M260.5 424.5h0M211.5 423.6h0M217.8 423.3h0M117.4 411.9h0M233.7 424.2h0M211.5 428.7h0M122.6 426.7h0M142.8 422.0h0M154.2 426.0h0M166.5 416.0h0M245.9 423.7h0M202.0 422.7h0M187.3 420.3h0M87.6 439.2h0M146.2 418.8h0M158.0 431.6h0M165.5 434.2h0M158.9 429.0h0M90.7 409.5h0M133.7 422.1h0M98.1 430.0h0M142.3 430.1h0M121.4 424.4h0M165.7 428.9h0M224.9 427.7h0M165.4 424.4h0M86.1 430.2h0M124.7 437.0h0M212.3 421.5h0M83.9 459.2h0" stroke="#999999" stroke-width="2.4" stroke-linecap="round" fill="none" stroke-opacity="0.24"/>
<path d="M117.5 418.5h0M200.7 424.2h0M178.0 424.5h0M101.7 426.5h0M76.1 457.8h0M122.7 415.0h0M94.5 469.7h0M187.7 429.4h0M113.4 443.6h0M103.5 401.5h0M200.4 424.0h0M229.8 421.8h0M101.4 424.7h0M170.6 420.1h0M177.3 426.1h0M206.1 426.1h0M196.1 424.0h0M136.9 419.9h0M60.9 420.9h0M206.1 424.1h0M111.9 401.9h0M100.2 419.8h0M177.7 424.2h0M164.8 421.9h0M247.4 420.6h0M135.0 407.8h0M128.5 439.4h0M205.1 419.3h0M111.7 425.6h0M225.0 426.0h0M148.6 428.8h0M158.0 418.3h0M234.1 421.7h0M203.3 422.8h0M125.9 415.9h0M198.4 420.5h0M205.8 427.7h0M55.8 422.7h0M222.6 419.2h0M202.6 424.7h0M138.2 423.7h0M169.5 421.2h0M118.5 445.4h0M154.3 426.3h0M147.2 426.7h0M118.3 438.1h0M215.7 419.8h0M158.7 424.0h0M199.8 423.8h0M117.8 415.2h0M138.4 422.7h0M186.3 425.7h0M137.4 420.0h0M253.5 426.9h0M91.0 390.0h0M181.5 426.9h0M249.3 429.9h0M172.7 420.4h0M201.3 426.4h0M196.1 429.7h0M189.1 429.9h0M233.7 424.9h0M90.4 467.5h0M134.5 427.8h0M202.2 422.0h0M120.2 423.1h0M162.0 425.6h0M104.7 441.9h0M120.9 413.2h0M89.7 381.9h0M209.6 414.9h0M149.8 417.4h0M204.5 426.7h0M147.5 425.2h0M202.4 416.9h0M143.4 417.7h0M194.1 420.6h0M237.8 421.0h0M160.1 424.4h0M224.4 419.6h0M223.7 426.2h0M176.3 421.3h0M138.9 422.2h0M224.7 419.3h0M157.7 420.0h0M152.5 431.9h0M244.0 422.4h0M150.0 425.0h0M196.6 429.2h0M157.5 420.7h0M181.8 417.1h0M128.9 424.0h0M263.2 415.6h0M189.0 426.4h0M194.6 421.6h0M153.6 411.3h0M222.9 415.6h0M203.6 425.3h0M204.4 420.1h0M186.9 431.1h0M174.4 422.0h0M182.1 426.0h0M111.9 420.1h0M229.1 419.2h0M104.3 404.2h0M216.1 418.2h0M163.3 433.7h0M170.2 427.9h0M118.4 440.7h0M124.2 427.1h0M200.3 427.4h0M194.7 421.7h0M167.5 420.0h0M131.5 416.8h0M135.8 418.7h0M132.3 405.1h0M164.6 418.1h0M157.6 426.6h0M142.0 427.4h0M151.7 429.0h0M97.4 432.4h0M197.5 419.3h0M193.9 417.3h0M144.8 424.8h0M194.8 424.8h0M210.5 429.9h0M129.2 424.5h0M158.5 420.7h0M207.9 421.9h0M202.1 422.0h0M85.5 449.7h0M153.1 423.8h0M182.9 419.0h0M202.6 426.2h0M79.8 437.0h0M223.7 430.2h0M179.2 426.6h0M239.9 425.7h0M115.0 423.3h0M172.1 416.8h0M115.0 440.5h0M137.2 415.5h0M211.7 423.9h0M91.2 402.5h0M244.0 421.4h0M111.3 420.7h0M122.0 435.0h0M161.9 423.2h0M207.5 414.9h0M83.7 435.2h0M198.5 422.7h0M161.8 427.6h0M214.8 424.8h0M113.1 410.9h0M268.0 425.3h0M251.1 429.0h0M148.8 425.0h0M203.6 429.9h0M115.5 427.1h0M203.0 416.4h0M189.6 419.3h0M160.5 423.1h0M207.2 418.8h0M108.7 398.3h0M126.6 444.3h0M194.5 418.1h0M169.4 423.0h0M193.5 424.4h0M176.9 425.2h0M115.8 414.2h0M223.4 419.6h0M109.8 448.2h0M173.6 421.7h0M203.5 427.6h0M154.5 423.8h0M180.4 418.1h0M216.9 424.2h0M162.9 427.8h0M116.0 430.5h0M200.1 424.4h0M258.8 425.5h0M211.1 424.8h0M253.6 422.0h0M183.4 418.9h0M129.6 414.6h0M133.3 414.4h0M117.9 425.0h0M116.4 440.5h0M214.5 426.7h0M173.9 415.4h0M172.5 436.0h0M140.2 421.6h0M206.9 424.0h0M106.3 414.7h0M189.2 431.1h0M55.4 414.4h0M205.1 422.5h0M168.9 435.7h0M171.3 428.3h0M128.3 419.2h0M128.0 415.0h0M223.2 425.2h0M164.2 429.4h0M226.5 417.7h0M208.8 417.3h0M224.9 419.3h0M161.3 421.6h0M190.0 415.9h0M153.9 419.4h0M113.7 430.3h0M54.6 404.2h0M169.6 427.4h0M157.1 423.9h0M114.2 438.3h0M102.1 453.0h0M124.0 443.7h0M135.0 433.0h0M192.8 421.4h0M118.6 405.1h0M107.6 404.4h0M168.4 415.4h0M131.4 404.0h0M56.3 395.7h0M216.5 418.9h0M162.2 425.3h0M201.7 418.5h0M214.7 420.1h0M147.3 419.0h0M237.0 428.2h0M135.1 425.0h0M138.5 414.8h0M86.9 442.0h0M192.4 424.4h0M94.1 449.5h0M227.4 426.1h0M55.6 447.0h0M204.4 422.0h0M206.4 419.5h0M151.7 421.7h0M122.0 440.8h0M208.9 423.6h0M199.3 421.3h0M102.0 456.8h0M199.4 424.2h0M154.0 431.9h0M196.6 423.3h0M216.9 420.9h0M137.5 429.8h0M116.2 396.1h0M185.6 415.4h0M96.2 419.2h0M117.8 425.2h0M211.6 423.1h0M108.8 401.5h0M141.2 423.5h0M226.8 428.8h0M148.2 429.1h0M101.1 426.2h0M172.2 421.4h0M149.3 407.0h0M94.0 404.2h0M151.4 414.6h0M192.0 414.3h0M83.3 412.4h0M184.1 425.1h0M85.8 378.8h0M236.1 424.0h0M125.4 410.6h0M108.0 426.4h0M125.4 422.7h0M107.5 424.6h0M167.4 424.2h0M83.4 465.5h0M163.4 421.3h0M124.1 419.4h0M202.3 429.2h0M148.9 436.7h0M151.6 419.5h0M154.9 423.5h0M94.7 443.4h0M193.0 423.9h0M208.1 419.9h0M178.9 420.8h0M130.2 428.2h0M116.3 442.4h0M132.5 438.4h0M188.6 427.8h0M180.5 425.8h0M149.3 429.9h0M222.0 418.4h0M95.4 415.8h0M167.4 419.2h0M99.2 451.5h0M214.9 426.8h0M105.6 426.0h0M159.2 425.9h0M66.3 405.1h0M105.5 441.8h0M186.9 415.4h0M196.9 420.0h0M224.3 428.9h0M102.4 397.4h0M115.5 412.9h0M164.8 410.7h0M110.7 405.0h0M191.5 419.5h0M116.2 413.7h0M191.4 427.1h0M192.2 419.0h0M83.3 414.4h0M129.4 423.6h0M253.0 423.7h0M82.4 437.7h0M87.8 380.0h0M172.4 417.0h0M171.4 424.0h0M166.0 415.1h0M209.6 425.7h0M234.2 420.9h0M148.8 426.9h0M142.5 425.2h0M159.2 414.9h0M181.5 421.4h0M74.6 429.1h0M125.9 430.3h0M218.1 421.2h0M86.3 464.7h0M158.6 420.9h0M121.7 420.0h0M179.0 419.0h0M140.9 423.4h0M266.7 428.3h0M82.4 413.1h0M96.0 411.9h0M193.2 426.9h0M210.1 423.4h0M246.5 417.0h0M236.0 424.4h0M161.6 435.5h0M136.6 413.7h0M202.4 425.2h0M178.3 422.9h0M150.9 424.2h0M122.1 419.1h0M248.9 426.0h0M216.3 421.8h0M120.8 403.6h0M185.7 414.7h0M159.4 412.4h0M144.7 419.5h0M113.3 427.2h0" stroke="#999999" stroke-width="2.4" stroke-linecap="round" fill="none" stroke-opacity="0.24"/>
<path d="M180.7 418.8h0M129.4 434.8h0M196.8 423.7h0M252.0 420.0h0M193.4 424.0h0M172.4 419.6h0M77.5 398.7h0M205.5 425.4h0M129.6 435.0h0M110.6 406.6h0M219.6 423.0h0M159.2 418.6h0M150.3 429.4h0M105.9 451.6h0M158.1 419.7h0M236.6 418.0h0M109.5 417.6h0M118.9 423.3h0M147.6 436.2h0M229.1 425.0h0M130.7 405.2h0M192.1 427.8h0M194.6 429.1h0M174.9 421.1h0M152.4 418.0h0M131.2 410.8h0M236.7 423.0h0M160.7 421.8h0M127.7 411.5h0M166.4 422.1h0M105.5 413.5h0M201.9 425.0h0M178.5 419.9h0M129.7 424.1h0M156.8 423.0h0M196.5 418.0h0M180.8 420.1h0M114.7 443.9h0M160.0 425.7h0M226.6 425.3h0M191.4 417.0h0M121.6 428.3h0M173.6 413.3h0M104.5 436.7h0M208.1 423.0h0M179.9 421.7h0M232.1 425.7h0M168.0 421.7h0M174.9 421.7h0M143.6 415.5h0M253.1 427.7h0M219.6 427.7h0M240.9 424.2h0M207.8 425.9h0M120.9 425.7h0M171.4 432.5h0M234.1 426.8h0M119.2 429.6h0M202.4 428.7h0M78.5 429.0h0M118.8 405.0h0M102.7 395.3h0M210.5 427.4h0M221.9 425.7h0M166.5 420.0h0M177.6 412.6h0M204.2 422.6h0M117.4 429.7h0M147.9 425.2h0M155.5 434.7h0M229.8 426.4h0M202.5 423.9h0M175.2 432.3h0M158.1 428.6h0M166.3 435.4h0M147.4 419.1h0M137.9 406.5h0M132.9 426.6h0M143.1 437.8h0M166.0 426.0h0M70.8 453.7h0M222.3 426.1h0M245.5 424.2h0M111.1 423.1h0M193.5 419.7h0M166.0 424.7h0M144.4 422.8h0M235.8 429.2h0M67.2 401.9h0M67.9 438.7h0M229.0 420.7h0M203.8 416.8h0M166.2 422.8h0M105.1 425.7h0M79.7 441.1h0M140.6 433.9h0M111.1 440.5h0M108.1 420.1h0M156.3 437.0h0M230.3 425.1h0M192.2 417.6h0M124.8 424.8h0M143.6 412.1h0M155.6 417.7h0M102.2 452.2h0M94.0 420.9h0M217.6 421.9h0M207.9 423.2h0M100.7 406.8h0M174.5 418.0h0M178.7 419.2h0M159.5 431.9h0M165.6 417.2h0M236.0 423.6h0M168.4 415.6h0M188.5 420.3h0M153.2 432.5h0M190.8 420.7h0M171.0 417.7h0M78.8 452.8h0M117.4 423.6h0M171.8 421.0h0M141.5 424.4h0M142.0 424.3h0M198.1 427.1h0M148.7 422.1h0M133.0 412.8h0M92.8 380.3h0M96.7 446.3h0M150.3 414.2h0M185.9 418.8h0M110.9 418.3h0M53.1 424.3h0M233.0 422.4h0M112.0 408.8h0M248.5 423.7h0M242.3 421.5h0M186.7 425.3h0M199.5 420.0h0M119.9 432.2h0M86.6 379.5h0M175.9 417.7h0M164.1 417.5h0M133.1 420.5h0M155.9 424.2h0M203.3 421.2h0M214.9 423.1h0M147.5 420.6h0M227.0 425.1h0M205.4 431.3h0M107.1 393.6h0M193.3 419.1h0M128.8 420.1h0M202.8 426.0h0M165.6 421.5h0M80.6 434.4h0M94.1 459.2h0M208.7 421.0h0M84.1 406.3h0M162.6 429.0h0M142.0 423.4h0M122.4 422.6h0M80.9 462.6h0M118.4 448.7h0M163.1 421.9h0M252.7 423.2h0M134.6 426.0h0M173.6 430.0h0M231.9 421.5h0M142.0 419.5h0M259.2 427.8h0M130.0 432.8h0M140.8 418.8h0M179.5 419.1h0M221.4 427.1h0M139.3 416.9h0M203.9 429.6h0M141.3 423.7h0M186.8 417.9h0M194.7 430.9h0M126.5 429.3h0M207.8 426.5h0M103.8 400.1h0M157.9 417.3h0M70.9 465.6h0M195.1 416.1h0M188.9 425.2h0M188.2 419.7h0M205.5 418.5h0M191.0 424.3h0M111.5 425.8h0M116.2 445.1h0M187.6 413.4h0M259.5 425.9h0M99.1 439.3h0M115.4 429.4h0M139.2 405.9h0M153.7 411.8h0M194.7 415.7h0M89.8 456.4h0M144.9 435.6h0M115.0 433.5h0M210.1 418.6h0M157.7 428.1h0M195.0 418.9h0M243.9 425.1h0M131.8 416.6h0M201.3 422.2h0M119.9 409.7h0M181.6 416.7h0M210.6 424.4h0M199.3 418.9h0M191.8 429.6h0M110.0 423.3h0M216.7 421.7h0M147.1 419.1h0M139.6 419.7h0M134.6 418.9h0M84.3 392.6h0M156.0 422.7h0M207.6 417.5h0M85.6 434.2h0M143.3 435.6h0M242.9 423.0h0M211.1 419.8h0M164.1 415.6h0M184.6 419.2h0M91.3 463.7h0M188.5 423.4h0M202.5 430.3h0M147.6 414.4h0M107.9 423.1h0M204.7 428.5h0M193.4 423.3h0M153.3 426.8h0M240.4 426.8h0M215.2 419.5h0M113.9 408.8h0M193.0 422.7h0M109.7 400.3h0M234.0 429.2h0M154.3 410.8h0M103.9 439.5h0M121.6 424.0h0M182.8 431.9h0M113.2 418.6h0M79.1 418.4h0M209.1 415.6h0M134.7 421.9h0M91.8 432.7h0M243.4 418.5h0M193.0 421.7h0M202.4 418.2h0M208.8 424.2h0M206.3 426.1h0M177.2 415.0h0M122.4 425.2h0M208.7 424.9h0M83.4 387.1h0M134.1 432.4h0M145.7 424.3h0M143.2 424.6h0M127.8 413.0h0M135.9 416.5h0M85.5 401.2h0M169.7 424.2h0M169.9 424.1h0M165.5 424.0h0M104.9 412.4h0M227.2 428.0h0M97.0 445.2h0M78.1 404.9h0M181.5 421.9h0M144.3 411.9h0M202.4 416.8h0M138.8 419.7h0M202.2 428.1h0M58.6 399.2h0M172.0 421.9h0M266.6 424.5h0M127.6 434.3h0M98.7 394.9h0M58.6 409.5h0M126.3 403.0h0M249.5 429.1h0M155.1 431.6h0M215.2 427.2h0M108.5 451.8h0M119.8 422.5h0M212.9 424.0h0M101.9 391.9h0M113.3 442.8h0M206.1 426.9h0M173.8 430.4h0M121.8 451.7h0M167.6 419.9h0M217.3 419.0h0M118.4 437.3h0M192.2 426.3h0M250.3 419.4h0M254.3 418.1h0M232.5 420.9h0M124.0 423.9h0M176.5 418.8h0M86.4 427.3h0M83.7 472.1h0M117.1 440.2h0M214.3 421.6h0M136.4 436.8h0M148.7 420.1h0M129.9 436.6h0M167.4 431.9h0M123.7 427.0h0M134.0 420.6h0M181.6 418.2h0M164.9 415.6h0M123.3 415.2h0M181.3 417.6h0M111.2 425.4h0M143.2 423.5h0M130.3 421.9h0M214.8 419.2h0M222.2 419.4h0M244.4 424.4h0M145.1 425.2h0M153.8 418.9h0M183.9 429.9h0M103.8 444.4h0M221.5 427.6h0M142.4 438.1h0M195.6 415.7h0M164.7 433.0h0M174.1 417.1h0M116.4 423.2h0M240.1 421.6h0M208.1 428.4h0M151.0 420.7h0M151.6 425.7h0M180.9 430.8h0M172.8 423.2h0M183.7 424.3h0M187.8 422.0h0M138.7 420.2h0M199.0 416.8h0M212.6 427.4h0M187.2 420.8h0M230.5 423.4h0M251.1 429.8h0M146.3 421.2h0M191.6 427.1h0" stroke="#999999" stroke-width="2.4" stroke-linecap="round" fill="none" stroke-opacity="0.24"/>
<path d="M129.9 427.4h0M186.1 422.6h0M64.7 386.6h0M141.9 436.3h0M93.8 421.8h0M260.9 427.1h0M85.6 425.9h0M155.1 428.9h0M135.3 414.3h0M131.1 423.7h0M133.8 422.8h0M117.8 442.1h0M121.9 420.2h0M165.8 421.3h0M133.1 425.8h0M220.0 420.9h0M138.0 430.2h0M222.6 420.8h0M94.6 411.1h0M123.5 430.2h0M167.9 426.7h0M129.9 431.3h0M137.7 425.4h0M202.0 427.5h0M127.5 431.4h0M193.1 422.8h0M164.2 422.6h0M107.8 400.3h0M81.4 397.9h0M139.8 430.3h0M208.0 420.9h0M194.5 426.0h0M179.0 423.8h0M149.0 422.9h0M102.1 420.9h0M176.6 416.2h0M174.6 423.1h0M202.0 429.7h0M180.5 428.6h0M111.8 445.1h0M85.4 403.4h0M197.0 419.6h0M202.2 420.5h0M57.0 432.1h0M159.8 427.0h0M180.2 419.9h0M155.2 426.1h0M88.7 382.7h0M132.7 440.1h0M171.9 424.8h0M167.2 425.9h0M155.9 433.2h0M241.5 423.6h0M112.3 425.5h0M118.3 429.6h0M144.5 420.1h0M143.4 419.3h0M100.7 423.4h0M232.5 424.2h0M185.9 428.3h0M146.2 428.1h0M186.1 426.8h0M229.8 421.7h0M206.5 422.9h0M179.4 419.7h0M202.2 422.5h0M211.2 430.4h0M174.5 428.6h0M203.0 430.4h0M173.5 423.8h0M187.2 422.6h0M113.4 410.3h0M88.8 424.3h0M243.3 423.2h0M186.5 423.3h0M114.8 430.5h0M96.4 455.9h0M192.9 425.8h0M176.5 419.8h0M114.3 424.3h0M90.1 471.5h0M80.4 429.3h0M72.2 420.4h0M121.4 402.8h0M149.0 417.6h0M187.4 426.3h0M160.0 425.3h0M126.8 418.2h0M231.8 417.6h0M130.2 411.5h0M152.4 433.8h0M72.8 452.5h0M222.8 418.6h0M261.5 424.9h0M226.9 420.5h0M100.8 422.9h0M194.0 422.3h0M155.5 418.2h0M56.9 415.0h0M127.8 430.8h0M163.0 423.2h0M183.3 417.0h0M262.7 420.9h0M96.7 456.6h0M113.4 414.2h0M87.1 440.2h0M205.9 427.1h0M85.9 430.9h0M125.2 426.1h0M184.0 424.0h0M63.3 439.6h0M189.8 417.9h0M121.5 419.8h0M130.5 429.1h0M103.0 395.2h0M181.2 415.9h0M176.7 427.9h0M155.1 433.4h0M159.8 426.9h0M200.7 428.4h0M100.9 412.3h0M189.8 425.0h0M158.2 438.5h0M190.2 424.3h0M179.7 416.8h0M254.4 424.5h0M240.1 422.4h0M67.9 394.3h0M172.2 423.5h0M177.5 418.1h0M160.2 422.5h0M197.0 421.5h0M191.4 420.8h0M164.4 425.5h0M192.7 427.8h0M127.4 431.6h0M259.4 424.2h0M106.5 405.9h0M155.4 423.7h0M204.4 427.9h0M196.5 427.1h0M206.3 425.0h0M197.4 421.3h0M259.7 416.9h0M119.8 413.3h0M90.1 420.9h0M92.2 418.7h0M214.7 420.4h0M154.0 424.9h0M203.8 414.5h0M202.3 428.6h0M98.6 438.4h0M132.4 425.0h0M138.4 417.0h0M131.6 432.2h0M131.2 446.4h0M142.0 422.2h0M138.2 412.4h0M201.7 423.6h0M163.9 421.6h0M150.7 432.6h0M135.4 408.1h0M216.6 420.5h0M61.6 400.3h0M210.4 427.2h0M250.8 427.5h0M148.1 413.2h0M169.7 432.1h0M165.3 427.6h0M86.1 388.2h0M186.5 426.6h0M212.6 421.1h0M181.0 423.5h0M100.0 403.0h0M211.4 428.6h0M90.2 458.5h0M233.9 421.2h0M179.4 424.5h0M200.3 426.1h0M177.6 419.6h0M136.7 435.6h0M94.4 410.6h0M105.0 418.8h0M203.9 430.9h0M155.9 411.6h0M128.7 415.9h0M224.9 419.9h0M185.4 425.5h0M230.2 424.0h0M57.8 426.7h0M188.1 425.8h0M156.3 416.1h0M128.7 425.7h0M156.9 418.8h0M66.9 433.2h0M253.6 425.6h0M213.4 424.5h0M133.8 419.8h0M194.9 421.2h0M151.7 419.4h0M178.3 417.1h0M153.4 430.1h0M224.8 424.7h0M157.2 427.7h0M158.3 433.1h0M91.0 448.9h0M118.7 431.1h0M114.2 402.8h0M121.0 423.6h0M229.4 418.3h0M149.6 421.2h0M112.9 428.0h0M160.2 431.3h0M162.6 417.1h0M182.6 421.7h0M116.9 419.5h0M116.9 421.2h0M155.8 433.1h0M184.5 426.8h0M168.3 428.5h0M174.0 418.0h0M206.4 421.3h0M171.6 423.2h0M158.8 433.5h0M126.5 436.1h0M191.4 429.3h0M152.0 430.5h0M176.8 424.3h0M222.7 418.7h0M219.2 423.9h0M180.0 428.5h0M164.3 435.9h0M164.7 418.9h0M199.2 421.0h0M108.3 424.1h0M218.2 420.9h0M256.7 428.9h0M160.1 417.0h0M138.6 418.7h0M208.1 415.3h0M137.0 441.1h0M165.1 431.0h0M184.3 424.3h0M195.8 422.6h0M153.3 424.6h0M101.3 410.0h0M218.3 422.6h0M144.1 414.1h0M89.9 453.9h0M219.1 421.5h0M164.8 427.9h0M135.9 427.1h0M134.2 424.7h0M90.2 395.5h0M183.4 427.8h0M142.2 430.5h0M87.9 412.0h0M130.3 421.0h0M112.3 438.8h0M120.7 425.6h0M245.7 429.6h0M193.1 428.6h0M213.8 421.4h0M152.8 425.5h0M194.6 426.3h0M135.3 440.1h0M132.7 424.5h0M69.5 395.5h0M130.7 418.7h0M195.2 431.6h0M126.4 431.3h0M126.4 428.1h0M166.2 431.4h0M186.8 423.9h0M149.1 418.1h0M208.3 423.1h0M209.2 419.7h0M208.3 429.9h0M201.6 432.1h0M197.9 424.6h0M86.4 411.1h0M97.5 407.0h0M83.5 419.8h0M247.7 423.8h0M157.4 418.6h0M212.6 425.3h0M84.7 417.4h0M189.7 423.9h0M204.1 424.8h0M117.4 440.0h0M64.0 469.2h0M198.2 429.4h0M190.2 420.7h0M165.8 416.1h0M127.0 412.7h0M161.1 421.7h0M195.4 419.8h0M180.9 427.4h0M92.3 411.5h0M85.0 391.9h0M184.4 423.9h0M174.9 423.4h0M186.4 425.2h0M205.6 416.6h0M80.2 420.9h0M123.3 437.3h0M138.0 408.2h0M219.7 423.0h0M168.4 419.8h0M183.8 426.4h0M107.8 405.3h0M150.1 433.6h0M193.4 422.6h0M186.9 417.0h0M230.3 424.7h0M232.0 422.5h0M170.2 431.6h0M170.6 423.5h0M162.5 424.1h0M175.5 418.7h0M182.9 423.9h0M101.8 415.3h0M124.6 407.5h0M120.0 420.4h0M118.1 418.3h0M165.2 425.7h0M173.6 423.5h0M210.0 426.7h0M225.9 425.3h0M155.6 423.1h0M159.9 424.8h0M213.6 418.6h0M200.1 424.2h0M179.6 422.1h0M165.2 430.1h0M131.7 435.0h0M83.8 405.7h0M93.6 388.9h0M232.1 424.7h0M81.7 419.2h0M75.4 432.6h0M121.1 399.0h0M147.8 418.7h0M104.5 427.9h0M149.8 426.8h0M154.7 422.0h0M224.2 425.3h0M213.6 423.6h0M95.4 433.7h0M117.5 443.8h0" stroke="#999999" stroke-width="2.4" stroke-linecap="round" fill="none" stroke-opacity="0.24"/>
<path d="M233.6 424.3h0M166.6 419.7h0M220.9 421.1h0M246.6 420.2h0M116.4 402.0h0M137.6 429.1h0M162.5 432.2h0M91.0 452.2h0M140.9 438.0h0M215.9 428.9h0M213.6 427.5h0M99.1 419.4h0M112.7 428.2h0M184.7 420.3h0M132.5 413.0h0M193.5 421.8h0M124.9 429.0h0M170.0 423.4h0M137.8 441.7h0M123.9 431.4h0M142.1 420.3h0M219.8 417.7h0M176.5 427.0h0M169.8 419.8h0M183.6 426.9h0M67.1 421.1h0M120.8 429.5h0M128.8 421.1h0M136.0 432.4h0M116.7 411.9h0M96.9 451.9h0M107.4 426.3h0M253.0 418.8h0M141.9 425.1h0M199.0 423.4h0M144.4 416.7h0M227.3 421.6h0M120.2 443.8h0M104.3 407.7h0M192.5 421.6h0M229.5 418.2h0M186.6 418.9h0M182.4 418.4h0M136.7 413.7h0M142.9 429.9h0M150.6 430.9h0M191.7 415.5h0M152.2 428.9h0M134.0 405.3h0M172.3 428.1h0M183.9 417.9h0M187.4 431.5h0M167.4 422.5h0M178.2 418.9h0M168.9 415.0h0M172.4 422.1h0M79.5 397.5h0M160.2 425.6h0M212.8 419.1h0M96.2 424.8h0M240.6 420.8h0M150.3 425.4h0M155.1 413.1h0M183.7 426.1h0M210.6 417.6h0M169.5 420.1h0M125.4 415.2h0M225.5 423.5h0M212.5 416.3h0M101.4 425.5h0M88.6 429.5h0M222.7 427.5h0M109.1 428.4h0M141.2 417.7h0M100.9 403.3h0M107.0 429.1h0M130.8 412.0h0M147.0 417.2h0M186.6 427.8h0M155.7 415.8h0M181.3 423.6h0M88.8 449.3h0M165.7 424.6h0M204.1 426.0h0M219.8 419.8h0M84.4 404.1h0M124.0 439.7h0M164.6 423.4h0M157.9 429.8h0M161.9 422.2h0M137.0 422.4h0M238.1 429.1h0M107.0 432.2h0M184.2 419.4h0M123.7 412.7h0M209.8 427.7h0M143.8 426.3h0M171.2 427.6h0M181.7 424.1h0M222.9 424.8h0M151.1 422.7h0M196.9 419.7h0M168.4 417.4h0M175.5 416.7h0M202.1 428.5h0M202.4 426.8h0M200.4 426.2h0M120.5 433.5h0M93.3 431.2h0M159.2 429.4h0M178.7 426.8h0M168.2 417.4h0M140.8 426.0h0M108.2 410.0h0M168.3 414.2h0M207.2 417.0h0M82.4 429.9h0M129.3 422.2h0M253.9 424.2h0M141.3 424.2h0M139.2 413.4h0M84.1 467.1h0M139.6 421.3h0M99.6 453.2h0M203.7 423.7h0M98.0 402.9h0M165.4 414.8h0M67.4 465.8h0M154.2 435.6h0M142.3 412.6h0M195.9 421.4h0M161.6 423.2h0M217.9 421.2h0M103.8 456.1h0M214.6 428.1h0M106.2 433.0h0M130.4 441.8h0M100.0 395.9h0M116.5 446.0h0M262.5 424.3h0M141.1 438.3h0M141.8 429.6h0M96.3 431.4h0M196.4 419.3h0M124.3 422.3h0M131.3 410.5h0M148.1 422.9h0M198.5 424.8h0M89.6 437.2h0M245.4 417.0h0M193.5 421.1h0M151.9 429.5h0M91.4 394.8h0M229.8 422.9h0M122.0 434.4h0M98.3 421.6h0M149.5 415.3h0M189.2 419.1h0M154.6 418.0h0M121.2 405.2h0M188.6 418.8h0M223.0 419.1h0M129.0 435.7h0M101.9 433.2h0M86.7 381.4h0M194.0 419.8h0M170.9 426.6h0M137.1 416.8h0M208.5 428.3h0M130.0 411.8h0M189.2 420.1h0M81.3 434.9h0M120.5 422.9h0M128.3 411.6h0M183.2 424.9h0M105.7 415.1h0M173.4 424.9h0M159.4 428.1h0M86.1 458.6h0M127.8 428.3h0M255.5 428.4h0M79.1 436.6h0M183.4 431.3h0M97.8 412.8h0M212.1 425.5h0M136.3 424.8h0M184.1 424.3h0M205.1 422.5h0M88.5 450.8h0M119.8 404.9h0M189.8 426.6h0M157.0 426.2h0M81.9 393.3h0M171.7 419.9h0M93.4 411.4h0M54.0 460.5h0M208.4 427.1h0M91.2 407.0h0M201.7 426.4h0M192.8 419.4h0M142.4 430.5h0M131.0 415.1h0M193.4 418.3h0M148.7 427.6h0M226.9 417.7h0M153.0 430.0h0M92.8 436.9h0M90.2 448.6h0M234.7 426.4h0M89.5 401.1h0M97.8 410.1h0M111.6 425.1h0M81.9 454.7h0M207.9 424.9h0M88.4 412.7h0M251.3 425.3h0M104.0 404.1h0M111.1 434.7h0M65.5 414.7h0M83.4 401.1h0M273.9 431.0h0M135.0 430.1h0M160.2 420.9h0M249.6 428.1h0M81.0 410.6h0M157.5 432.0h0M103.9 423.5h0M268.7 430.3h0M173.6 431.6h0M230.9 423.9h0M182.7 417.8h0M163.8 424.6h0M246.6 420.9h0M149.1 421.0h0M218.1 425.0h0M172.1 418.6h0M131.6 425.0h0M157.5 427.8h0M109.5 428.0h0M213.1 423.1h0M178.0 426.2h0M162.1 429.0h0M191.3 425.8h0M193.0 425.1h0M89.0 407.2h0M78.1 395.8h0M224.9 425.7h0M139.2 441.7h0M164.1 411.9h0M119.5 415.7h0M235.2 425.2h0M69.7 431.9h0M153.7 423.9h0M196.2 423.1h0M212.9 417.4h0M159.8 430.8h0M153.9 423.1h0M133.1 404.5h0M218.8 422.5h0M101.7 429.3h0M141.9 420.3h0M142.4 427.8h0M236.9 420.3h0M147.1 414.5h0M224.6 420.8h0M55.4 426.6h0M89.5 401.7h0M172.7 415.8h0M73.0 431.6h0M131.9 434.7h0M87.9 437.0h0M171.1 424.1h0M210.2 422.7h0M186.2 415.0h0M88.0 391.6h0M161.0 416.7h0M161.0 413.0h0M95.5 444.7h0M194.6 421.2h0M213.5 423.2h0M192.2 415.4h0M217.3 425.6h0M201.3 423.1h0M127.0 426.2h0M189.8 422.1h0M131.9 404.7h0M112.5 403.1h0M159.9 416.2h0M91.8 431.6h0M187.0 427.9h0M161.7 420.6h0M140.1 422.9h0M134.8 441.2h0M141.8 415.4h0M165.8 422.7h0M171.4 427.5h0M134.8 420.3h0M132.3 407.8h0M183.8 423.3h0M100.5 391.2h0M209.3 418.4h0M183.5 421.6h0M129.1 401.9h0M198.6 423.0h0M145.1 418.7h0M82.0 432.5h0M207.7 426.0h0M114.6 425.8h0M203.0 422.9h0M118.6 427.6h0M80.7 437.5h0M240.0 421.8h0M234.4 427.2h0M195.8 430.1h0M133.1 430.3h0M100.6 455.9h0M218.1 416.9h0M186.1 424.6h0M249.0 428.0h0M215.3 419.6h0M238.8 421.3h0M99.0 414.5h0M165.2 418.2h0M69.7 418.5h0M143.6 419.2h0M206.7 422.5h0M143.7 420.1h0M199.9 419.1h0M61.0 434.3h0M134.8 432.1h0M178.3 422.8h0M148.1 429.1h0M221.0 416.7h0M139.7 432.6h0M208.4 427.0h0M111.8 407.3h0M160.9 422.9h0M193.8 429.3h0M94.2 398.7h0M226.3 423.9h0M205.3 420.7h0M146.5 424.6h0M94.5 446.4h0M158.1 427.3h0M137.6 409.3h0M105.7 438.0h0M196.2 420.0h0M85.3 471.9h0M172.3 413.0h0M236.6 425.3h0" stroke="#999999" stroke-width="2.4" stroke-linecap="round" fill="none" stroke-opacity="0.24"/>
<path d="M111.5 452.5h0M207.0 424.8h0M207.8 431.8h0M170.9 419.0h0M205.1 422.6h0M163.2 429.9h0M186.7 422.5h0M226.1 424.7h0M100.3 459.4h0M149.4 420.2h0M180.6 426.5h0M119.4 437.2h0M185.8 424.0h0M79.7 436.3h0M143.6 432.1h0M112.8 405.4h0M174.6 429.4h0M186.6 429.4h0M195.4 427.0h0M68.4 443.3h0M196.9 425.7h0M76.5 413.8h0M169.8 421.8h0M194.8 429.3h0M54.8 431.6h0M262.9 422.8h0M97.3 395.4h0M169.2 423.4h0M218.9 424.6h0M186.8 420.9h0M192.0 424.0h0M187.7 423.2h0M200.9 415.6h0M176.4 420.5h0M140.5 442.5h0M169.8 434.1h0M139.3 425.2h0M126.9 401.4h0M178.8 423.6h0M118.5 436.8h0M106.6 439.0h0M97.2 390.9h0M208.9 422.5h0M161.9 415.1h0M196.7 423.2h0M178.0 424.1h0M135.2 415.2h0M232.1 426.0h0M185.6 423.3h0M169.5 414.0h0M181.7 421.8h0M157.3 417.1h0M107.4 419.9h0M219.6 425.3h0M192.4 432.4h0M201.0 420.8h0M101.1 404.9h0M57.3 404.3h0M123.3 413.8h0M80.3 421.6h0M206.6 426.0h0M197.2 432.3h0M172.8 422.5h0M160.4 426.7h0M213.9 427.6h0M114.3 429.3h0M212.8 428.2h0M171.4 417.9h0M203.9 422.9h0M82.2 413.1h0M207.8 428.9h0M230.1 417.9h0M215.9 427.6h0M175.7 422.8h0M207.0 422.5h0M152.4 422.2h0M169.2 430.7h0M180.4 423.4h0M96.6 376.7h0M211.7 426.5h0M113.8 446.1h0M126.5 435.7h0M236.7 418.1h0M191.8 424.6h0M226.6 427.7h0M141.2 412.8h0M100.0 392.1h0M86.0 433.3h0M190.3 424.0h0M148.7 425.1h0M128.7 413.3h0M168.0 423.4h0M246.2 427.0h0M237.3 420.1h0M115.8 444.8h0M182.2 428.6h0M139.7 418.5h0M142.2 426.6h0M182.4 418.3h0M189.6 423.4h0M196.9 419.7h0M184.1 419.8h0M99.9 415.8h0M96.8 419.1h0M172.6 422.8h0M173.2 413.3h0M179.6 411.9h0M154.4 426.5h0M176.6 421.1h0M176.1 427.5h0M85.9 427.7h0M137.7 430.1h0M182.6 425.9h0M149.7 412.9h0M137.3 436.9h0M86.3 482.2h0M125.9 438.8h0M124.2 431.1h0M156.0 423.8h0M109.9 411.7h0M112.8 401.4h0M127.8 432.9h0M111.4 423.2h0M165.0 414.9h0M191.9 418.5h0M237.2 426.0h0M126.9 439.4h0M115.9 443.9h0M124.5 421.2h0M148.6 433.2h0M233.3 423.4h0M211.7 425.6h0M135.4 420.2h0M142.5 436.5h0M103.7 413.6h0M172.2 425.4h0M168.7 419.1h0M101.4 447.9h0M207.9 426.8h0M115.2 411.5h0M216.1 426.1h0M119.0 412.7h0M245.7 435.3h0M141.8 422.8h0M147.2 405.3h0M80.9 397.3h0M155.4 432.8h0M126.3 413.1h0M89.3 429.8h0M126.4 417.4h0M181.5 422.9h0M102.0 411.6h0M239.2 420.6h0M118.9 411.6h0M94.2 410.5h0M128.6 448.6h0M220.4 426.6h0M137.1 415.3h0M174.7 423.5h0M156.6 433.5h0M247.9 417.0h0M114.0 430.2h0M90.8 449.4h0M236.9 430.4h0M154.4 408.5h0M153.9 414.0h0M86.9 394.9h0M222.8 426.3h0M140.6 410.8h0M82.7 453.6h0M183.1 430.4h0M178.6 427.0h0M110.0 423.0h0M199.0 420.1h0M163.9 423.0h0M101.6 400.0h0M113.3 411.7h0M73.6 464.8h0M167.3 434.4h0M168.7 432.4h0M169.4 418.2h0M154.5 412.8h0M186.1 425.0h0M211.9 427.5h0M192.2 429.2h0M132.8 435.9h0M190.6 424.2h0M128.1 434.7h0M125.5 424.9h0M269.1 427.7h0M120.0 412.6h0M221.4 421.6h0M144.0 430.5h0M96.4 435.9h0M87.9 414.2h0M197.3 427.2h0M62.4 403.0h0M202.8 431.3h0M200.0 423.7h0M176.0 420.9h0M183.6 425.4h0M182.4 420.9h0M72.0 465.5h0M241.0 423.6h0M107.6 397.5h0M218.6 422.3h0M148.0 420.3h0M141.9 411.0h0M240.8 426.7h0M159.8 420.6h0M225.4 424.0h0M167.4 419.1h0M191.3 421.7h0M219.3 425.0h0M187.5 430.2h0M90.5 380.6h0M83.8 462.4h0M108.9 409.4h0M189.7 413.7h0M136.3 419.0h0M137.8 420.5h0M193.6 426.1h0M183.4 426.7h0M131.6 410.0h0M183.2 419.6h0M211.8 426.4h0M98.9 446.7h0M160.7 410.6h0M125.7 415.5h0M216.6 423.2h0M123.2 422.0h0M207.0 423.3h0M140.7 419.5h0M111.0 427.7h0M219.4 420.7h0M92.9 401.8h0M126.8 422.8h0M109.9 411.7h0M117.1 418.4h0M218.4 423.4h0M159.3 424.0h0M149.0 431.9h0M158.6 419.6h0M176.0 424.6h0M110.2 403.8h0M154.8 421.1h0M65.7 401.6h0M168.1 435.6h0M230.1 423.2h0M82.7 422.9h0M197.9 418.4h0M152.4 419.7h0M127.5 406.6h0M118.5 423.9h0M81.2 453.7h0M91.8 456.6h0M100.9 418.9h0M62.6 463.5h0M74.6 460.4h0M144.8 412.7h0M93.0 451.2h0M216.9 420.8h0M171.3 423.9h0M183.7 423.5h0M93.6 418.7h0M152.9 420.9h0M91.7 408.3h0M132.3 410.6h0M195.9 425.8h0M80.1 415.1h0M111.0 411.3h0M188.6 422.5h0M222.9 424.6h0M194.6 429.7h0M125.8 418.6h0M159.4 415.9h0M223.8 426.4h0M102.8 418.4h0M244.3 424.0h0M101.7 410.6h0M98.9 390.1h0M82.3 422.5h0M190.8 419.1h0M128.6 431.0h0M196.8 427.5h0M214.1 418.6h0M152.5 424.9h0M128.4 426.8h0M55.2 442.7h0M156.3 421.1h0M215.1 423.0h0M231.2 424.9h0M149.2 426.3h0M128.4 447.4h0M174.4 411.5h0M168.8 422.8h0M228.3 422.3h0M130.5 426.3h0M173.1 422.3h0M94.4 460.3h0M226.8 424.8h0M182.7 424.8h0M92.0 453.9h0M221.6 430.1h0M176.9 418.4h0M171.8 419.5h0M106.7 434.6h0M101.9 438.8h0M200.9 428.9h0M111.6 424.3h0M183.7 432.2h0M119.4 410.7h0M121.8 432.3h0M139.6 419.6h0M102.2 446.1h0M199.9 424.5h0M226.6 423.1h0M218.4 420.9h0M156.9 420.9h0M98.8 420.4h0M112.1 435.5h0M204.4 424.2h0M92.9 411.2h0M211.4 420.7h0M188.1 427.0h0M144.7 417.5h0M128.0 418.5h0M142.3 428.5h0M164.3 425.6h0M201.8 427.1h0M215.9 420.8h0M211.3 423.9h0M82.4 381.6h0M198.4 420.8h0M216.1 424.0h0M94.0 435.3h0M168.8 427.4h0M217.6 424.3h0M155.6 438.6h0M222.7 422.6h0M204.8 416.1h0M156.2 412.3h0M240.3 416.3h0M135.6 421.9h0M181.1 417.4h0M87.8 409.5h0M219.3 422.3h0M201.9 424.7h0M205.3 424.4h0M222.0 423.6h0" stroke="#999999" stroke-width="2.4" stroke-linecap="round" fill="none" stroke-opacity="0.24"/>
<path d="M114.8 440.6h0M150.6 413.2h0M87.2 397.0h0M190.6 422.6h0M212.1 426.3h0M152.3 421.2h0M165.5 424.9h0M165.9 421.0h0M260.0 425.7h0M90.0 429.2h0M197.5 425.1h0M162.3 430.2h0M119.7 439.0h0M223.1 419.8h0M110.0 429.5h0M164.4 428.6h0M166.0 412.4h0M95.5 380.0h0M87.3 447.8h0M184.6 422.7h0M127.6 428.8h0M103.2 428.9h0M224.0 423.4h0M58.6 472.7h0M160.9 430.7h0M194.8 423.2h0M128.6 430.3h0M125.7 425.3h0M268.9 426.0h0M73.5 433.6h0M100.4 427.2h0M195.9 422.7h0M111.7 411.3h0M110.1 436.4h0M88.1 452.0h0M166.0 423.7h0M116.5 430.3h0M245.0 421.0h0M151.4 437.3h0M258.8 422.0h0M58.3 428.6h0M209.1 417.5h0M81.9 431.7h0M165.6 433.0h0M203.2 423.3h0M247.0 427.0h0M91.6 433.6h0M108.3 395.2h0M70.9 436.4h0M195.5 428.0h0M246.1 423.8h0M71.9 390.5h0M131.2 427.7h0M165.2 427.2h0M119.9 415.1h0M138.0 438.3h0M159.8 423.7h0M88.1 474.3h0M85.6 418.5h0M187.2 423.2h0M255.9 422.8h0M207.5 422.7h0M104.2 433.0h0M159.9 411.1h0M200.6 422.3h0M152.1 425.3h0M216.4 430.3h0M218.4 420.7h0M195.8 416.8h0M177.4 427.5h0M126.9 434.4h0M73.3 419.5h0M130.9 418.5h0M94.8 401.1h0M207.8 427.9h0M171.3 422.7h0M62.8 422.9h0M187.6 422.5h0M169.5 436.5h0M134.7 405.1h0M157.4 410.6h0M203.7 424.5h0M200.0 423.1h0M173.7 416.3h0M157.6 421.8h0M219.7 424.0h0M75.8 436.8h0M156.9 425.7h0M109.6 416.6h0M148.2 429.3h0M261.2 426.4h0M226.1 428.0h0M261.8 425.7h0M181.0 423.0h0M165.5 424.0h0M135.3 428.3h0M152.1 410.4h0M132.5 433.8h0M172.5 428.6h0M143.7 426.6h0M152.7 429.6h0M205.3 418.4h0M195.8 416.8h0M142.0 415.7h0M123.8 424.0h0M111.4 399.5h0M121.2 436.4h0M184.6 423.1h0M193.7 420.6h0M185.3 417.7h0M202.3 419.0h0M222.8 424.0h0M85.2 457.4h0M87.0 471.7h0M148.4 418.6h0M232.9 424.2h0M157.8 431.4h0M220.4 426.1h0M169.9 418.5h0M222.8 418.7h0M167.1 431.2h0M141.5 412.0h0M141.8 422.2h0M202.1 421.1h0M56.5 401.1h0M152.2 419.9h0M139.2 407.1h0M122.6 414.1h0M180.4 417.6h0M156.0 419.7h0M162.4 424.5h0M178.1 427.1h0M202.4 422.5h0M62.8 431.7h0M130.8 411.7h0M150.4 427.8h0M82.1 450.6h0M94.2 413.0h0M200.4 417.9h0M167.5 432.7h0M195.1 421.9h0M106.7 438.1h0M123.8 428.9h0M190.3 424.0h0M238.0 416.6h0M105.7 401.6h0M80.1 367.6h0M129.7 406.6h0M231.5 418.1h0M114.5 406.3h0M66.3 448.7h0M168.4 425.1h0M197.8 419.9h0M193.4 428.5h0M156.1 427.1h0M243.4 421.8h0M147.2 425.9h0M118.9 418.1h0M181.1 421.9h0M184.1 427.6h0M108.9 434.7h0M137.4 423.7h0M177.8 424.8h0M152.1 422.7h0M227.6 426.0h0M100.2 434.5h0M224.5 422.9h0M204.8 423.6h0M213.1 421.6h0M67.5 383.7h0M168.2 429.7h0M139.8 433.4h0M187.4 428.2h0M169.6 426.7h0M221.8 421.6h0M189.3 423.8h0M217.7 428.3h0M131.5 414.6h0M183.9 420.8h0M102.2 426.5h0M229.0 422.6h0M94.4 425.9h0M58.3 469.9h0M93.0 432.4h0M85.1 444.8h0M128.4 430.6h0M191.4 428.2h0M155.9 414.2h0M171.9 417.4h0M159.3 427.1h0M137.8 433.3h0M176.3 422.6h0M95.9 410.8h0M249.4 424.8h0M158.8 426.8h0M153.9 416.3h0M187.9 421.6h0M143.0 418.8h0M165.6 414.6h0M244.9 418.9h0M124.1 430.6h0M158.2 425.4h0M152.0 427.5h0M142.1 439.4h0M131.6 437.1h0M166.7 419.5h0M181.4 433.7h0M219.2 423.7h0M179.3 425.1h0M89.1 427.7h0M157.2 423.2h0M239.1 426.3h0M79.5 417.7h0M187.0 415.6h0M207.1 427.1h0M180.3 423.2h0M159.4 418.7h0M140.7 423.4h0M160.0 409.1h0M99.3 406.5h0M194.1 425.5h0M181.2 423.0h0M188.5 420.4h0M157.4 422.2h0M186.9 420.2h0M125.5 432.7h0M188.5 424.2h0M179.3 425.9h0M251.3 426.4h0M171.6 415.2h0M194.1 422.6h0M150.7 419.8h0M81.5 401.0h0M105.4 422.2h0M120.8 402.1h0M110.6 419.4h0M142.6 436.0h0M151.8 409.2h0M256.9 420.1h0M87.1 443.4h0M160.7 432.6h0M111.2 409.8h0M105.9 407.4h0M138.1 417.5h0M211.3 420.0h0M87.1 427.0h0M157.8 425.6h0M97.1 431.2h0M112.4 403.0h0M169.0 422.5h0M93.6 408.2h0M181.2 418.6h0M182.7 423.4h0M125.9 437.6h0M137.9 409.9h0M160.2 420.2h0M92.3 410.0h0M222.8 425.2h0M79.6 412.3h0M175.9 419.6h0M146.4 429.5h0M221.3 420.4h0M166.0 424.0h0M86.2 448.2h0M187.5 427.8h0M181.4 423.1h0M179.1 419.0h0M141.8 416.7h0M108.7 441.6h0M187.9 419.5h0M143.8 426.9h0M97.8 420.5h0M113.1 443.5h0M240.2 424.3h0M185.4 426.5h0M79.1 372.3h0M210.4 419.6h0M162.3 433.9h0M111.6 438.9h0M151.1 429.5h0M220.7 424.7h0M207.4 423.7h0M185.2 421.2h0M135.3 436.6h0M143.2 431.2h0M196.6 416.2h0M207.6 419.5h0M164.3 423.3h0M165.9 427.1h0M190.3 421.5h0M175.8 413.4h0M153.6 418.8h0M139.9 426.5h0M64.5 442.7h0M194.9 426.6h0M216.3 429.0h0M175.8 416.7h0M142.9 423.6h0M87.9 428.2h0M134.7 442.2h0M147.7 424.3h0M174.7 429.6h0M192.4 422.5h0M209.0 424.8h0M132.8 429.9h0M116.2 431.9h0M73.1 449.1h0M191.0 422.1h0M224.3 421.3h0M142.6 431.2h0M176.3 421.6h0M190.4 417.2h0M212.5 424.6h0M196.4 424.1h0M118.7 414.2h0M255.2 421.6h0M86.1 477.2h0M171.3 424.6h0M100.0 442.1h0M214.5 421.4h0M164.8 416.4h0M168.5 421.9h0M181.2 412.6h0M180.1 425.8h0M196.3 415.4h0M187.0 415.9h0M147.2 418.7h0M119.0 419.3h0M136.6 417.8h0M171.9 424.9h0M93.2 420.2h0M93.8 456.8h0M97.7 425.6h0M106.6 415.0h0M173.1 419.8h0M145.8 422.4h0M139.2 427.4h0M203.0 421.5h0M214.1 421.9h0M159.0 419.2h0M196.0 423.0h0M221.9 421.7h0M167.8 415.1h0M168.5 421.9h0M148.7 410.1h0M150.7 428.2h0M106.2 435.7h0M244.4 429.2h0M214.6 418.4h0M123.9 424.2h0" stroke="#999999" stroke-width="2.4" stroke-linecap="round" fill="none" stroke-opacity="0.24"/>
<path d="M202.9 388.4h0M228.3 393.8h0M179.9 411.7h0M173.1 406.9h0M182.1 382.8h0M219.1 403.8h0M145.6 394.5h0M217.7 408.9h0M229.3 409.0h0M229.9 406.9h0M137.1 405.8h0M239.1 410.2h0M160.7 407.3h0M164.3 390.2h0M247.2 402.0h0M211.3 387.8h0M205.9 398.7h0M142.4 403.4h0M193.0 388.8h0M207.1 405.0h0M155.6 370.1h0M253.5 399.0h0M246.1 406.4h0M223.8 403.0h0M216.7 388.6h0M219.9 412.2h0M157.6 373.8h0M202.7 396.1h0M234.1 398.0h0M171.1 405.9h0M177.6 411.3h0M247.0 378.9h0M109.9 381.0h0M194.8 406.4h0M163.8 395.4h0M220.0 411.9h0M160.1 376.5h0M203.8 378.4h0M137.7 388.6h0M136.9 391.1h0M261.8 409.1h0M257.3 395.6h0M172.1 405.7h0M185.0 406.9h0M201.8 406.1h0M134.5 394.2h0M206.6 407.5h0M235.4 390.1h0M209.3 388.9h0M197.0 412.0h0M167.0 402.1h0M203.7 405.3h0M195.5 405.9h0M151.0 402.0h0M212.9 408.9h0M153.6 382.0h0M198.2 389.9h0M235.7 408.9h0M232.0 397.5h0M173.4 410.1h0M119.7 368.9h0M226.5 398.0h0M174.0 408.6h0M142.6 399.6h0M225.2 398.5h0M175.4 399.7h0M120.6 391.1h0M175.8 406.3h0M193.2 409.7h0M170.0 408.2h0M191.5 406.0h0M181.1 398.7h0M198.2 409.9h0M176.5 409.9h0M176.2 401.1h0M253.7 398.4h0M129.7 368.1h0M190.7 388.2h0M135.5 384.5h0M127.0 390.2h0M240.8 403.8h0M103.4 378.4h0M201.4 412.0h0M169.4 402.5h0M118.5 396.4h0M170.6 383.5h0M206.3 391.5h0M139.9 403.8h0M184.4 391.4h0M212.5 397.5h0M126.9 397.8h0M137.6 401.6h0M236.2 389.2h0M134.3 401.9h0M113.4 374.7h0M102.8 372.5h0M113.0 375.0h0M110.8 368.0h0M97.5 375.5h0M108.3 373.7h0" stroke="#ea6a4c" stroke-width="3.1" stroke-linecap="round" fill="none" stroke-opacity="0.68"/>
<path d="M131.6 370.5h0M195.6 385.8h0M148.6 401.7h0M190.6 409.1h0M160.2 399.4h0M148.6 379.3h0M258.3 387.6h0M172.0 399.4h0M132.4 385.5h0M136.4 402.7h0M202.0 406.6h0M155.4 408.1h0M169.4 387.6h0M188.9 408.6h0M143.1 397.7h0M243.3 389.7h0M152.6 394.7h0M176.1 410.7h0M168.2 405.6h0M156.1 407.4h0M170.3 399.7h0M220.9 405.8h0M164.7 390.9h0M157.7 403.5h0M200.0 410.9h0M127.0 392.9h0M242.8 406.8h0M182.7 397.4h0M232.3 405.3h0M101.1 368.9h0M195.1 393.0h0M126.1 400.8h0M211.7 379.7h0M179.7 386.2h0M126.1 379.6h0M256.6 406.5h0M117.8 389.4h0M206.2 400.1h0M155.1 408.9h0M138.5 398.1h0M231.8 409.6h0M148.3 387.9h0M242.2 412.2h0M106.8 375.3h0M175.0 399.0h0M160.0 400.6h0M211.1 403.7h0M119.5 381.0h0M187.7 386.5h0M161.2 392.5h0M131.1 392.2h0M182.1 405.9h0M136.1 385.3h0M223.8 409.1h0M203.1 411.9h0M207.2 402.1h0M164.1 395.3h0M130.7 396.0h0M152.7 405.5h0M113.2 370.6h0M180.8 404.8h0M231.1 394.6h0M162.6 387.1h0M188.0 403.4h0M149.0 406.3h0M153.1 409.3h0M139.5 402.0h0M152.4 399.9h0M219.8 412.2h0M137.2 405.7h0M203.2 404.7h0M195.6 403.7h0M228.3 411.2h0M219.4 410.0h0M157.5 408.3h0M178.8 384.4h0M217.9 409.7h0M188.5 399.1h0M230.6 408.8h0M118.3 376.1h0M254.4 410.4h0M262.2 406.1h0M262.5 408.4h0M209.8 389.2h0M258.4 398.8h0M156.9 405.5h0M122.2 399.2h0M202.9 405.8h0M166.5 405.2h0M186.6 403.3h0M229.7 381.4h0M257.9 401.9h0M207.8 407.9h0M248.2 403.3h0M100.1 378.1h0M113.5 377.9h0M108.7 367.5h0M97.0 375.7h0M112.9 372.3h0M103.2 371.9h0" stroke="#ea6a4c" stroke-width="3.1" stroke-linecap="round" fill="none" stroke-opacity="0.68"/>
<path d="M112.4 377.3h0M190.2 396.0h0M209.2 410.8h0M174.0 402.4h0M146.3 391.3h0M178.0 411.4h0M193.7 388.8h0M229.1 409.7h0M258.6 392.9h0M179.6 408.6h0M178.0 386.4h0M182.6 408.1h0M161.1 392.0h0M198.0 403.2h0M131.8 399.6h0M110.2 386.1h0M222.8 407.8h0M118.5 381.6h0M149.8 396.4h0M131.3 389.7h0M249.5 392.2h0M158.7 385.4h0M132.3 402.4h0M98.4 370.7h0M155.4 403.5h0M260.3 405.5h0M110.5 376.8h0M234.4 397.4h0M216.7 412.4h0M214.3 381.6h0M109.1 370.5h0M175.3 390.4h0M236.8 405.8h0M205.4 406.4h0M120.0 379.3h0M253.7 404.7h0M138.1 401.8h0M159.4 385.6h0M186.6 392.4h0M145.8 374.2h0M158.4 383.2h0M187.1 407.7h0M195.9 409.6h0M196.8 380.3h0M229.1 411.0h0M193.3 398.8h0M262.4 411.7h0M180.9 405.9h0M142.2 379.2h0M204.5 411.2h0M222.3 412.5h0M174.8 410.7h0M123.6 398.3h0M202.5 408.8h0M124.4 396.7h0M118.8 369.5h0M161.9 401.8h0M145.0 380.6h0M195.0 403.1h0M159.3 405.4h0M111.5 378.3h0M160.6 409.4h0M142.1 381.6h0M203.6 402.7h0M114.4 393.7h0M240.6 410.4h0M236.2 409.7h0M242.2 400.4h0M230.5 397.7h0M173.2 382.5h0M176.2 404.7h0M218.4 406.7h0M153.5 402.9h0M196.1 410.1h0M228.4 407.2h0M190.1 409.5h0M197.6 395.8h0M145.6 406.1h0M171.0 400.6h0M263.0 408.6h0M127.3 400.8h0M114.5 382.3h0M177.5 408.6h0M120.1 395.5h0M235.6 388.8h0M248.5 411.6h0M144.6 407.0h0M158.7 398.6h0M172.3 405.0h0M147.9 403.0h0M110.6 388.0h0M180.0 411.5h0M138.8 403.2h0M197.3 403.0h0M109.8 376.5h0M101.0 375.4h0M111.8 371.2h0M109.7 368.8h0M108.5 376.4h0M108.0 377.2h0" stroke="#ea6a4c" stroke-width="3.1" stroke-linecap="round" fill="none" stroke-opacity="0.68"/>
<path d="M171.9 370.9h0M215.7 409.1h0M223.0 401.0h0M113.0 387.6h0M252.6 403.0h0M177.2 388.8h0M242.2 393.1h0M239.7 410.5h0M100.8 377.8h0M210.7 410.5h0M211.5 404.1h0M183.7 390.0h0M202.1 408.6h0M211.0 404.7h0M166.5 376.2h0M200.5 410.5h0M198.4 411.9h0M146.9 405.7h0M209.1 401.7h0M155.9 404.1h0M164.4 396.8h0M246.8 378.7h0M109.6 385.4h0M155.2 394.8h0M135.0 403.8h0M179.8 410.6h0M165.3 407.6h0M243.1 400.3h0M245.3 387.1h0M138.7 398.7h0M187.4 406.4h0M124.6 394.5h0M158.2 395.3h0M162.9 409.7h0M161.2 410.1h0M208.3 399.5h0M147.8 404.7h0M157.4 396.1h0M238.4 411.1h0M139.7 390.8h0M222.6 412.1h0M174.6 409.2h0M231.6 401.8h0M229.7 411.0h0M164.9 408.2h0M231.3 376.3h0M197.2 368.5h0M178.9 400.6h0M174.4 407.0h0M193.5 403.1h0M211.1 398.4h0M137.4 401.9h0M187.7 408.4h0M166.4 405.4h0M172.7 410.4h0M158.9 404.5h0M210.4 412.3h0M159.4 395.3h0M259.2 395.5h0M199.9 406.7h0M178.2 411.4h0M193.4 396.8h0M209.1 390.1h0M154.9 407.8h0M171.8 396.1h0M140.6 401.4h0M206.1 408.4h0M146.0 391.9h0M200.8 412.1h0M217.2 410.0h0M209.8 407.5h0M162.4 376.0h0M182.2 401.1h0M226.2 398.5h0M146.0 404.0h0M208.3 409.2h0M140.1 374.3h0M209.8 411.8h0M207.1 406.2h0M239.2 404.1h0M234.8 383.8h0M208.4 394.8h0M153.6 399.9h0M191.3 407.6h0M183.5 390.1h0M136.8 386.2h0M202.1 406.4h0M225.6 385.1h0M143.3 400.9h0M250.2 410.9h0M193.7 408.0h0M186.4 408.9h0M109.0 385.8h0M182.3 376.8h0M112.1 368.9h0M113.2 368.2h0M108.7 372.5h0M107.9 373.6h0M97.8 369.0h0" stroke="#ea6a4c" stroke-width="3.1" stroke-linecap="round" fill="none" stroke-opacity="0.68"/>
<path d="M148.1 403.5h0M222.4 410.7h0M132.7 402.4h0M162.1 401.4h0M103.7 380.8h0M197.9 394.8h0M182.9 385.1h0M143.2 407.4h0M200.7 406.8h0M188.4 403.4h0M166.1 407.4h0M168.1 381.7h0M255.8 389.9h0M114.2 391.8h0M177.7 384.1h0M158.8 405.6h0M108.5 380.6h0M216.7 410.5h0M151.1 380.8h0M258.2 407.4h0M199.5 394.7h0M180.7 407.0h0M105.8 381.7h0M183.3 397.1h0M197.1 409.7h0M153.2 386.1h0M213.2 397.6h0M201.2 409.8h0M136.1 402.5h0M124.7 380.1h0M208.0 384.3h0M210.5 405.3h0M164.1 378.7h0M154.0 408.1h0M202.2 392.3h0M166.5 394.1h0M134.9 401.1h0M214.8 407.3h0M161.4 409.9h0M225.2 394.3h0M252.0 394.8h0M188.5 408.6h0M236.2 411.8h0M143.5 393.8h0M162.4 406.3h0M130.3 371.6h0M110.7 386.6h0M124.1 397.9h0M173.4 409.1h0M211.2 385.6h0M246.1 401.1h0M178.5 399.5h0M146.6 398.7h0M147.6 407.0h0M102.1 375.9h0M199.1 399.8h0M116.1 392.1h0M249.8 403.2h0M214.2 404.4h0M205.3 411.0h0M196.7 395.0h0M230.2 404.9h0M141.8 400.2h0M202.8 411.9h0M185.4 405.3h0M234.9 395.5h0M151.9 407.4h0M188.4 407.8h0M120.8 398.6h0M113.1 391.5h0M162.9 407.5h0M176.7 408.2h0M173.1 404.0h0M169.3 396.0h0M191.3 388.8h0M156.0 405.9h0M142.9 396.9h0M165.1 404.1h0M247.5 383.4h0M241.0 396.4h0M119.3 394.0h0M124.1 395.1h0M123.7 385.7h0M217.8 410.3h0M150.5 407.4h0M192.7 393.0h0M142.4 401.8h0M137.6 399.0h0M142.5 405.4h0M202.6 402.6h0M196.6 394.1h0M237.8 404.5h0M159.7 400.2h0M222.5 382.2h0M99.6 368.9h0M105.5 377.0h0M107.2 373.3h0M101.2 371.1h0M98.9 372.5h0" stroke="#ea6a4c" stroke-width="3.1" stroke-linecap="round" fill="none" stroke-opacity="0.68"/>
<path d="M101.1 458.7h0M241.3 442.3h0M173.6 435.8h0M179.6 448.5h0M149.9 439.3h0M161.4 445.0h0M209.6 441.1h0M125.7 443.5h0M202.6 436.7h0M236.9 444.0h0M139.9 447.6h0M110.6 450.0h0M171.9 449.0h0M185.2 436.7h0M140.9 440.4h0M229.2 443.5h0M100.0 458.3h0M196.2 435.6h0M199.0 440.9h0M162.2 436.2h0M238.2 444.8h0M202.1 437.9h0M184.7 436.2h0M154.7 445.3h0M156.4 438.4h0M181.9 446.9h0M218.0 441.6h0M115.5 447.8h0M182.8 436.1h0M207.7 439.0h0M148.0 446.7h0M171.7 437.5h0M177.4 445.0h0M192.8 437.5h0M213.0 438.9h0M177.4 439.8h0M181.5 437.3h0M253.6 442.4h0M191.1 450.5h0M146.4 441.4h0M182.6 439.5h0M145.9 447.8h0M203.6 437.2h0M250.0 441.1h0M249.1 467.5h0M160.5 448.6h0M117.4 455.3h0M170.6 458.7h0M188.0 444.4h0M114.3 467.9h0M144.5 449.1h0M135.8 445.9h0M189.4 435.5h0M236.3 459.0h0M153.1 445.3h0M251.2 446.0h0M159.5 437.4h0M132.0 445.9h0M183.2 456.1h0M220.1 434.3h0M215.0 440.9h0M224.6 434.8h0M156.5 438.8h0M178.1 436.4h0M145.4 449.5h0M178.1 438.7h0M151.5 438.8h0M142.7 440.2h0M114.0 471.2h0M179.2 438.9h0M187.3 444.2h0M186.4 436.4h0M148.1 448.3h0M255.5 437.0h0M255.0 435.2h0M115.8 454.7h0M150.3 470.4h0M135.9 440.0h0M227.0 465.3h0M185.0 436.2h0M179.1 458.5h0M246.5 450.5h0M258.0 449.6h0M171.3 440.4h0M180.5 438.3h0M109.1 463.1h0M246.5 445.4h0M203.2 440.7h0M167.2 437.5h0M195.1 447.1h0M115.9 454.1h0M102.5 474.9h0M216.2 439.4h0M219.2 439.6h0M178.6 445.3h0M138.3 440.1h0M139.3 461.4h0M154.3 454.5h0M169.2 441.1h0M167.4 441.6h0M103.4 457.2h0M206.5 441.2h0M209.1 436.9h0M150.2 441.9h0M158.7 439.8h0M95.3 464.9h0M110.3 463.0h0M199.9 438.5h0M169.9 437.0h0M190.2 439.1h0M166.5 439.4h0M142.0 442.5h0M134.8 440.8h0M158.5 438.5h0M195.7 440.5h0M182.1 448.1h0M96.7 464.3h0M186.1 445.2h0M220.4 443.3h0M200.1 436.6h0M110.2 457.4h0M156.3 439.4h0M228.5 434.6h0M184.3 436.6h0M257.2 440.3h0M267.3 451.6h0" stroke="#6070ca" stroke-width="3.1" stroke-linecap="round" fill="none" stroke-opacity="0.58"/>
<path d="M155.2 437.0h0M208.1 435.0h0M225.5 439.1h0M148.2 452.1h0M135.7 447.8h0M205.9 444.3h0M136.0 442.7h0M217.9 437.1h0M165.0 442.2h0M160.4 438.4h0M203.8 435.7h0M116.9 453.4h0M119.6 446.8h0M170.2 444.2h0M200.5 437.9h0M119.1 458.8h0M183.0 450.1h0M218.8 442.7h0M125.5 445.3h0M138.4 441.1h0M249.4 437.3h0M192.2 434.9h0M140.9 460.5h0M241.4 437.8h0M166.9 473.2h0M150.1 450.0h0M195.2 444.6h0M98.9 460.4h0M168.1 450.4h0M164.3 451.2h0M125.0 450.5h0M111.6 462.1h0M102.8 456.6h0M178.8 435.5h0M240.6 442.3h0M192.8 438.5h0M209.1 443.8h0M241.1 440.2h0M224.4 439.8h0M230.1 435.2h0M178.5 443.8h0M188.9 437.2h0M176.1 447.2h0M195.2 442.5h0M154.5 449.7h0M203.3 436.1h0M184.5 440.6h0M172.1 436.2h0M226.8 446.0h0M218.7 437.0h0M159.9 436.9h0M172.7 444.9h0M156.7 439.8h0M201.4 440.5h0M242.5 453.3h0M139.3 440.6h0M142.6 456.2h0M200.3 454.1h0M194.3 438.4h0M146.6 448.6h0M187.0 441.0h0M161.6 441.0h0M183.1 446.8h0M177.1 439.1h0M97.2 463.5h0M206.6 439.0h0M166.6 445.0h0M144.0 444.6h0M238.1 458.9h0M168.4 449.4h0M228.4 439.0h0M155.7 438.4h0M254.2 446.7h0M186.2 441.5h0M185.9 437.9h0M153.3 450.1h0M117.4 446.3h0M187.0 436.6h0M123.3 452.9h0M151.2 441.0h0M156.3 439.5h0M126.3 446.1h0M218.6 435.6h0M235.2 450.1h0M179.5 446.3h0M180.7 441.9h0M238.0 434.6h0M243.7 436.0h0M204.9 443.8h0M176.1 449.2h0M108.6 470.5h0M180.7 465.5h0M195.4 436.1h0M162.2 436.4h0M155.8 452.0h0M151.0 455.2h0M177.7 437.5h0M163.0 451.2h0M167.2 435.8h0M148.0 444.5h0M130.0 442.9h0M134.7 442.9h0M101.9 475.1h0M228.3 443.3h0M168.6 436.1h0M251.7 439.5h0M240.6 439.8h0M225.3 439.7h0M226.1 461.0h0M129.4 446.1h0M237.8 448.0h0M217.2 451.8h0M245.9 437.6h0M248.6 441.0h0M116.5 450.0h0M146.5 450.6h0M221.2 450.4h0M115.7 448.7h0M210.0 465.5h0M127.8 444.4h0M135.5 454.2h0M193.2 443.4h0M145.3 443.9h0M180.2 467.0h0M263.9 441.4h0M252.2 459.5h0" stroke="#6070ca" stroke-width="3.1" stroke-linecap="round" fill="none" stroke-opacity="0.58"/>
<path d="M197.6 440.7h0M192.9 443.0h0M204.2 445.1h0M98.6 461.0h0M237.2 439.0h0M123.0 459.2h0M135.4 464.2h0M106.1 467.7h0M154.6 457.1h0M212.2 434.4h0M195.1 444.3h0M243.3 435.6h0M214.2 453.1h0M145.7 438.4h0M235.1 437.7h0M189.2 438.9h0M207.6 436.6h0M121.0 448.7h0M183.0 441.5h0M139.1 442.6h0M138.7 447.0h0M224.0 447.0h0M137.4 443.5h0M93.3 466.9h0M141.9 438.9h0M122.8 454.1h0M107.7 469.4h0M160.6 436.4h0M249.8 436.1h0M126.1 454.4h0M253.0 438.4h0M94.2 464.8h0M134.2 462.5h0M100.9 460.1h0M222.1 449.1h0M225.3 438.7h0M206.5 435.5h0M184.0 446.9h0M104.4 467.7h0M128.7 457.5h0M211.3 440.3h0M175.1 447.5h0M151.5 454.5h0M95.8 466.1h0M171.0 441.7h0M148.5 437.8h0M101.6 465.5h0M205.2 443.2h0M184.2 439.1h0M107.4 471.6h0M193.5 437.7h0M109.4 454.6h0M192.3 437.5h0M180.6 454.8h0M251.8 455.5h0M212.4 450.7h0M131.5 451.0h0M170.6 437.5h0M233.4 454.3h0M193.5 439.7h0M123.7 444.4h0M117.8 454.3h0M239.2 463.7h0M155.4 440.7h0M147.8 449.1h0M169.1 441.0h0M124.8 451.9h0M193.0 440.8h0M195.8 439.0h0M175.5 443.1h0M155.4 446.4h0M148.6 459.9h0M181.4 440.6h0M148.9 438.9h0M202.0 442.0h0M204.1 440.8h0M195.2 455.3h0M214.2 440.3h0M175.9 441.7h0M196.1 446.8h0M224.2 435.5h0M175.5 441.0h0M132.3 440.8h0M152.2 441.7h0M163.9 438.0h0M243.0 449.2h0M156.7 445.6h0M177.4 451.7h0M103.0 474.1h0M173.4 442.8h0M251.9 438.7h0M169.2 445.7h0M172.0 463.9h0M193.2 453.8h0M185.7 436.7h0M162.3 443.6h0M191.5 444.2h0M158.7 469.8h0M169.9 452.0h0M159.9 437.3h0M141.5 439.4h0M199.5 442.1h0M160.4 439.3h0M164.9 439.2h0M166.6 436.7h0M162.8 440.6h0M164.0 456.1h0M155.8 437.7h0M210.3 441.6h0M250.7 445.7h0M126.4 458.1h0M199.2 463.7h0M133.0 446.2h0M138.0 443.6h0M248.0 442.5h0M210.7 449.8h0M222.1 440.6h0M232.3 443.2h0M254.0 450.7h0M179.1 443.9h0M212.8 439.9h0M159.8 444.7h0M147.5 449.7h0M127.0 454.5h0M274.0 447.1h0M235.4 456.1h0" stroke="#6070ca" stroke-width="3.1" stroke-linecap="round" fill="none" stroke-opacity="0.58"/>
<path d="M205.2 438.5h0M97.1 465.1h0M198.7 437.9h0M217.4 434.5h0M161.1 437.9h0M137.3 467.0h0M202.9 437.0h0M160.3 436.9h0M215.3 454.9h0M149.2 438.7h0M144.2 445.8h0M250.4 449.0h0M189.4 452.6h0M166.1 438.5h0M179.4 435.2h0M169.9 438.1h0M178.9 435.4h0M188.4 444.3h0M245.2 440.2h0M193.0 438.0h0M166.2 443.9h0M168.7 451.2h0M202.6 434.9h0M150.9 450.3h0M152.1 441.9h0M147.1 452.9h0M150.8 442.4h0M258.8 440.2h0M217.7 458.1h0M146.9 441.3h0M224.6 450.0h0M163.8 446.0h0M224.4 435.5h0M214.5 447.6h0M207.5 438.4h0M100.8 475.0h0M143.1 439.6h0M240.4 440.2h0M153.7 456.8h0M167.0 437.3h0M233.7 437.4h0M222.9 434.9h0M132.5 440.7h0M145.4 457.7h0M170.5 437.5h0M137.4 448.4h0M198.7 447.9h0M143.9 439.9h0M206.9 438.3h0M124.8 475.9h0M235.8 450.8h0M228.2 450.9h0M92.5 467.2h0M229.1 439.6h0M176.0 435.6h0M212.3 435.7h0M227.2 434.4h0M207.4 448.1h0M169.3 437.0h0M165.9 441.9h0M165.9 440.2h0M241.2 450.6h0M151.1 464.2h0M137.5 443.8h0M124.9 443.5h0M225.7 435.8h0M192.2 438.0h0M157.1 439.6h0M145.0 451.0h0M150.1 443.9h0M127.9 457.3h0M214.8 437.3h0M242.0 434.3h0M174.6 440.9h0M128.9 472.3h0M163.1 438.4h0M167.5 439.2h0M209.0 443.9h0M169.2 436.7h0M190.6 436.7h0M92.1 470.2h0M233.8 441.9h0M221.4 449.1h0M156.7 438.1h0M153.9 437.3h0M171.5 436.5h0M201.2 439.0h0M207.3 436.2h0M152.5 473.6h0M182.6 441.1h0M216.3 437.8h0M195.3 441.2h0M184.7 436.3h0M206.2 439.1h0M251.2 438.2h0M140.3 438.9h0M150.8 440.9h0M197.3 442.2h0M157.6 445.9h0M224.9 441.9h0M144.2 448.9h0M158.3 443.1h0M221.9 436.3h0M118.3 446.9h0M189.1 435.3h0M204.8 435.5h0M149.9 456.3h0M197.1 435.7h0M196.2 437.1h0M99.3 465.0h0M221.8 437.8h0M217.4 459.4h0M195.6 436.7h0M204.1 435.6h0M154.7 447.1h0M192.4 447.5h0M197.6 443.7h0M173.6 442.5h0M214.1 441.2h0M186.8 440.6h0M175.5 451.1h0M204.2 435.6h0M144.2 453.2h0M167.1 437.3h0M275.6 450.4h0M215.4 457.2h0" stroke="#6070ca" stroke-width="3.1" stroke-linecap="round" fill="none" stroke-opacity="0.58"/>
<path d="M176.4 445.2h0M170.5 456.6h0M194.9 442.2h0M197.6 441.2h0M228.6 442.4h0M176.5 435.8h0M199.3 435.2h0M128.1 446.5h0M203.6 448.2h0M169.2 435.8h0M134.4 440.3h0M146.4 440.6h0M118.0 449.8h0M163.1 436.1h0M160.4 448.3h0M178.5 438.9h0M163.2 436.2h0M252.8 440.6h0M95.8 464.4h0M179.6 442.6h0M171.8 437.8h0M235.0 439.8h0M204.4 434.7h0M143.3 438.4h0M160.3 439.3h0M157.2 439.5h0M205.0 440.6h0M206.2 446.1h0M119.0 445.7h0M157.4 436.8h0M129.0 455.8h0M159.0 445.2h0M196.8 449.5h0M200.9 448.4h0M212.2 439.2h0M96.1 466.8h0M111.1 459.7h0M169.2 436.2h0M189.5 445.6h0M123.0 451.4h0M118.9 455.1h0M203.0 461.5h0M184.2 435.2h0M179.2 441.4h0M169.7 438.0h0M185.2 438.3h0M186.1 445.3h0M226.9 434.3h0M174.4 458.4h0M166.1 438.5h0M117.8 446.3h0M134.4 449.7h0M156.4 444.6h0M154.4 442.0h0M169.5 438.7h0M120.3 446.5h0M218.0 436.2h0M172.4 442.2h0M149.3 437.9h0M255.5 436.2h0M98.3 462.6h0M244.0 435.9h0M174.8 443.7h0M151.8 438.9h0M241.4 435.1h0M188.8 436.2h0M218.8 440.8h0M218.9 443.4h0M173.9 452.3h0M185.7 442.3h0M172.4 441.8h0M178.6 436.6h0M154.8 458.8h0M168.5 438.2h0M100.8 474.9h0M246.4 445.3h0M195.9 435.5h0M131.4 441.4h0M175.5 440.6h0M151.7 457.3h0M117.5 462.7h0M222.0 434.9h0M138.8 443.8h0M209.4 434.8h0M211.7 444.5h0M226.1 434.5h0M178.8 436.2h0M117.3 463.6h0M190.7 436.5h0M114.0 450.7h0M241.2 441.1h0M247.8 463.1h0M198.1 439.0h0M186.4 437.2h0M184.2 438.0h0M145.3 452.3h0M187.9 437.2h0M214.8 436.3h0M222.0 439.4h0M252.9 443.1h0M104.4 454.4h0M236.3 436.4h0M208.5 434.5h0M246.3 435.0h0M237.9 435.7h0M180.9 450.7h0M212.4 444.3h0M150.7 448.3h0M144.4 442.8h0M127.1 452.5h0M149.2 469.0h0M150.7 446.6h0M227.5 450.0h0M92.0 473.8h0M215.3 442.7h0M219.6 437.1h0M157.4 440.8h0M186.9 436.6h0M253.2 437.9h0M189.9 461.1h0M139.2 440.1h0M135.7 441.1h0M138.5 440.2h0M145.7 453.1h0M247.2 465.1h0M207.0 465.1h0" stroke="#6070ca" stroke-width="3.1" stroke-linecap="round" fill="none" stroke-opacity="0.58"/>
<line x1="22.60" y1="423.40" x2="299.40" y2="423.40" stroke="#e85a4a" stroke-width="1.0" />
<path d="M186.0 283.8h0M199.1 289.7h0M243.1 290.1h0M165.7 303.2h0M158.0 314.5h0M164.1 314.8h0M152.0 319.0h0M160.9 323.3h0M172.1 324.1h0M180.1 315.3h0M199.4 322.2h0M208.7 316.9h0M222.7 322.8h0M222.7 326.0h0M235.5 333.4h0M143.2 330.5h0M144.0 329.7h0M146.4 341.0h0M152.5 343.0h0M150.4 348.5h0M144.8 351.1h0M145.6 355.4h0M142.4 356.2h0M169.7 348.5h0M172.9 349.5h0M197.5 345.3h0M183.4 354.9h0M186.6 354.9h0M195.4 353.8h0M182.6 361.8h0M195.4 365.0h0M204.2 364.2h0M205.0 363.4h0M215.5 363.4h0M162.5 359.4h0M101.2 363.4h0M109.3 363.4h0M108.5 365.0h0M113.3 361.0h0M112.5 362.6h0M118.9 354.5h0M119.7 355.7h0M122.9 351.3h0M123.7 358.5h0M122.9 361.0h0M124.5 344.9h0M125.3 363.4h0M127.7 348.9h0M128.5 363.4h0M130.1 344.1h0M131.0 348.1h0M132.6 355.0h0M134.2 343.3h0M134.2 334.1h0M136.6 356.1h0M139.0 345.7h0M140.6 356.1h0M142.2 362.6h0M143.0 331.2h0M143.8 330.0h0M143.0 353.7h0M145.4 340.9h0M145.4 357.7h0M145.4 350.5h0M150.7 348.9h0M152.6 342.8h0M162.3 358.5h0M161.5 323.2h0M171.9 324.0h0M169.5 348.1h0M173.5 349.7h0M182.3 361.8h0M183.1 354.5h0M186.0 354.5h0M194.4 353.7h0M196.8 344.9h0M120.5 365.5h0M116.0 358.0h0M105.0 366.0h0M98.0 365.5h0" stroke="#92b14a" stroke-width="3.3" stroke-linecap="round" fill="none" stroke-opacity="0.95"/>
<path d="M99.9 480.5h0M100.5 486.4h0M107.1 484.9h0M110.8 483.6h0M115.2 488.6h0M116.3 493.6h0M117.4 495.8h0M118.5 494.5h0M119.6 496.3h0M121.7 482.0h0M122.8 491.5h0M123.9 497.4h0M126.1 490.8h0M127.2 482.7h0M133.8 493.6h0M136.0 488.6h0M137.1 493.0h0M138.2 502.8h0M140.4 503.9h0M143.6 493.6h0M144.3 482.0h0M148.7 489.3h0M160.0 486.4h0M163.4 500.2h0M166.2 495.8h0M169.3 487.1h0M171.0 496.3h0M184.6 484.9h0M218.7 480.5h0M167.1 525.4h0M150.4 529.6h0M123.9 511.6h0M133.8 512.7h0M134.9 503.9h0M121.7 505.0h0M120.7 479.9h0M113.0 481.0h0M142.5 487.5h0M147.4 481.0h0M155.7 479.9h0M118.0 492.0h0M121.0 497.5h0M124.5 494.5h0M116.0 490.5h0M103.5 482.5h0M129.0 487.0h0M131.0 481.0h0M152.5 492.0h0M158.0 494.0h0" stroke="#66b566" stroke-width="3.3" stroke-linecap="round" fill="none" stroke-opacity="0.95"/>
<text x="175.3" y="281.8" font-size="6.6"  font-style="italic" text-anchor="start" fill="#111" stroke="#111" stroke-width="0.18">Saa1</text>
<text x="200.9" y="297.1" font-size="6.6"  font-style="italic" text-anchor="start" fill="#111" stroke="#111" stroke-width="0.18">Hp</text>
<text x="232.2" y="297.8" font-size="6.6"  font-style="italic" text-anchor="start" fill="#111" stroke="#111" stroke-width="0.18">Saa3</text>
<text x="166.5" y="301.0" font-size="6.6"  font-style="italic" text-anchor="start" fill="#111" stroke="#111" stroke-width="0.18">Cfh</text>
<text x="212.9" y="306.5" font-size="6.6"  font-style="italic" text-anchor="start" fill="#111" stroke="#111" stroke-width="0.18">Lcn2</text>
<text x="144.6" y="312.4" font-size="6.6"  font-style="italic" text-anchor="start" fill="#111" stroke="#111" stroke-width="0.18">Saa2</text>
<text x="162.1" y="312.4" font-size="6.6"  font-style="italic" text-anchor="start" fill="#111" stroke="#111" stroke-width="0.18">Sprr2b</text>
<text x="182.9" y="313.1" font-size="6.6"  font-style="italic" text-anchor="start" fill="#111" stroke="#111" stroke-width="0.18">Sprr2h</text>
<text x="207.9" y="313.9" font-size="6.6"  font-style="italic" text-anchor="start" fill="#111" stroke="#111" stroke-width="0.18">Nos2</text>
<text x="138.5" y="320.1" font-size="6.6"  font-style="italic" text-anchor="start" fill="#111" stroke="#111" stroke-width="0.18">Lgl2</text>
<text x="153.4" y="320.8" font-size="6.6"  font-style="italic" text-anchor="start" fill="#111" stroke="#111" stroke-width="0.18">Orm2</text>
<text x="170.9" y="321.8" font-size="6.6"  font-style="italic" text-anchor="start" fill="#111" stroke="#111" stroke-width="0.18">Nlrc5</text>
<text x="224.3" y="320.1" font-size="6.6"  font-style="italic" text-anchor="start" fill="#111" stroke="#111" stroke-width="0.18">C3</text>
<text x="144.0" y="328.8" font-size="6.6"  font-style="italic" text-anchor="start" fill="#111" stroke="#111" stroke-width="0.18">Prl8a9</text>
<text x="174.6" y="330.6" font-size="6.6"  font-style="italic" text-anchor="start" fill="#111" stroke="#111" stroke-width="0.18">Chil1</text>
<text x="191.0" y="328.8" font-size="6.6"  font-style="italic" text-anchor="start" fill="#111" stroke="#111" stroke-width="0.18">Orm1</text>
<text x="213.4" y="333.2" font-size="6.6"  font-style="italic" text-anchor="start" fill="#111" stroke="#111" stroke-width="0.18">Slpi</text>
<text x="123.6" y="331.0" font-size="6.6"  font-style="italic" text-anchor="start" fill="#111" stroke="#111" stroke-width="0.18">Saa4</text>
<text x="150.0" y="337.6" font-size="6.6"  font-style="italic" text-anchor="start" fill="#111" stroke="#111" stroke-width="0.18">Mir7678</text>
<text x="232.2" y="340.8" font-size="6.6"  font-style="italic" text-anchor="start" fill="#111" stroke="#111" stroke-width="0.18">Steap4</text>
<text x="135.2" y="339.8" font-size="6.6"  font-style="italic" text-anchor="start" fill="#111" stroke="#111" stroke-width="0.18">Pbr3</text>
<text x="154.9" y="345.7" font-size="6.6"  font-style="italic" text-anchor="start" fill="#111" stroke="#111" stroke-width="0.18">Hpcal4</text>
<text x="176.1" y="342.0" font-size="6.6"  font-style="italic" text-anchor="start" fill="#111" stroke="#111" stroke-width="0.18">Casp4</text>
<text x="197.1" y="343.1" font-size="6.6"  font-style="italic" text-anchor="start" fill="#111" stroke="#111" stroke-width="0.18">Mgst1</text>
<text x="185.0" y="350.5" font-size="6.6"  font-style="italic" text-anchor="start" fill="#111" stroke="#111" stroke-width="0.18">Ehf</text>
<text x="197.4" y="352.0" font-size="6.6"  font-style="italic" text-anchor="start" fill="#111" stroke="#111" stroke-width="0.18">Fas</text>
<text x="150.8" y="354.9" font-size="6.6"  font-style="italic" text-anchor="start" fill="#111" stroke="#111" stroke-width="0.18">Prl2c5</text>
<text x="170.5" y="359.7" font-size="6.6"  font-style="italic" text-anchor="start" fill="#111" stroke="#111" stroke-width="0.18">Gda</text>
<text x="185.8" y="362.5" font-size="6.6"  font-style="italic" text-anchor="start" fill="#111" stroke="#111" stroke-width="0.18">Bcl3</text>
<text x="201.4" y="360.4" font-size="6.6"  font-style="italic" text-anchor="start" fill="#111" stroke="#111" stroke-width="0.18">Tgfbr3</text>
<text x="143.8" y="365.8" font-size="6.6"  font-style="italic" text-anchor="start" fill="#111" stroke="#111" stroke-width="0.18">Gm15987</text>
<text x="168.3" y="370.7" font-size="6.6"  font-style="italic" text-anchor="start" fill="#111" stroke="#111" stroke-width="0.18">Tnfip3</text>
<text x="218.9" y="368.5" font-size="6.6"  font-style="italic" text-anchor="start" fill="#111" stroke="#111" stroke-width="0.18">Cxcl5</text>
<text x="198.5" y="372.8" font-size="6.6"  font-style="italic" text-anchor="start" fill="#111" stroke="#111" stroke-width="0.18">Cebpd</text>
<text x="135.0" y="375.7" font-size="6.6"  font-style="italic" text-anchor="start" fill="#111" stroke="#111" stroke-width="0.18">Hal</text>
<text x="179.3" y="378.5" font-size="6.6"  font-style="italic" text-anchor="start" fill="#111" stroke="#111" stroke-width="0.18">Defb1</text>
<text x="133.4" y="479.1" font-size="6.6"  font-style="italic" text-anchor="start" fill="#111" stroke="#111" stroke-width="0.18">Pbp2</text>
<text x="151.7" y="483.5" font-size="6.6"  font-style="italic" text-anchor="start" fill="#111" stroke="#111" stroke-width="0.18">Chst3</text>
<text x="169.9" y="484.4" font-size="6.6"  font-style="italic" text-anchor="start" fill="#111" stroke="#111" stroke-width="0.18">Nts</text>
<text x="183.0" y="482.2" font-size="6.6"  font-style="italic" text-anchor="start" fill="#111" stroke="#111" stroke-width="0.18">Spon2</text>
<text x="207.1" y="487.9" font-size="6.6"  font-style="italic" text-anchor="start" fill="#111" stroke="#111" stroke-width="0.18">Ccn2</text>
<text x="133.8" y="488.3" font-size="6.6"  font-style="italic" text-anchor="start" fill="#111" stroke="#111" stroke-width="0.18">Fbln7</text>
<text x="152.4" y="493.8" font-size="6.6"  font-style="italic" text-anchor="start" fill="#111" stroke="#111" stroke-width="0.18">Cytip</text>
<text x="172.8" y="493.8" font-size="6.6"  font-style="italic" text-anchor="start" fill="#111" stroke="#111" stroke-width="0.18">Fgf1</text>
<text x="183.0" y="501.5" font-size="6.6"  font-style="italic" text-anchor="start" fill="#111" stroke="#111" stroke-width="0.18">Chdh</text>
<text x="139.9" y="500.8" font-size="6.6"  font-style="italic" text-anchor="start" fill="#111" stroke="#111" stroke-width="0.18">Prelp</text>
<text x="148.0" y="506.9" font-size="6.6"  font-style="italic" text-anchor="start" fill="#111" stroke="#111" stroke-width="0.18">C1qtnf3</text>
<text x="182.4" y="510.2" font-size="6.6"  font-style="italic" text-anchor="start" fill="#111" stroke="#111" stroke-width="0.18">Bbox1</text>
<text x="98.3" y="510.2" font-size="6.6"  font-style="italic" text-anchor="start" fill="#111" stroke="#111" stroke-width="0.18">Mab21l4</text>
<text x="136.0" y="512.8" font-size="6.6"  font-style="italic" text-anchor="start" fill="#111" stroke="#111" stroke-width="0.18">Limch1</text>
<text x="107.5" y="518.3" font-size="6.6"  font-style="italic" text-anchor="start" fill="#111" stroke="#111" stroke-width="0.18">Krtap1−5</text>
<text x="134.9" y="520.1" font-size="6.6"  font-style="italic" text-anchor="start" fill="#111" stroke="#111" stroke-width="0.18">Kcna4</text>
<text x="162.7" y="522.9" font-size="6.6"  font-style="italic" text-anchor="start" fill="#111" stroke="#111" stroke-width="0.18">Sostdc1</text>
<text x="133.8" y="536.5" font-size="6.6"  font-style="italic" text-anchor="start" fill="#111" stroke="#111" stroke-width="0.18">Fam180a</text>
<line x1="162.50" y1="323.60" x2="174.00" y2="328.70" stroke="#222" stroke-width="0.6" />
<line x1="144.00" y1="330.20" x2="150.50" y2="334.60" stroke="#222" stroke-width="0.6" />
<line x1="143.10" y1="366.00" x2="143.00" y2="371.60" stroke="#222" stroke-width="0.6" />
<line x1="183.60" y1="367.00" x2="185.40" y2="373.80" stroke="#222" stroke-width="0.6" />
<line x1="171.00" y1="495.80" x2="182.40" y2="499.10" stroke="#222" stroke-width="0.6" />
<line x1="163.40" y1="500.20" x2="182.00" y2="509.00" stroke="#222" stroke-width="0.6" />
<rect x="22.6" y="271.6" width="276.79999999999995" height="270.6" fill="none" stroke="#b0b0b0" stroke-width="1"/>
<line x1="20.40" y1="310.70" x2="22.60" y2="310.70" stroke="#999" stroke-width="0.9" />
<text x="19.2" y="312.8" font-size="8.6"   text-anchor="end" fill="#444" >10</text>
<line x1="20.40" y1="367.05" x2="22.60" y2="367.05" stroke="#999" stroke-width="0.9" />
<text x="19.2" y="369.1" font-size="8.6"   text-anchor="end" fill="#444" >5</text>
<line x1="20.40" y1="423.40" x2="22.60" y2="423.40" stroke="#999" stroke-width="0.9" />
<text x="19.2" y="425.5" font-size="8.6"   text-anchor="end" fill="#444" >0</text>
<line x1="20.40" y1="479.75" x2="22.60" y2="479.75" stroke="#999" stroke-width="0.9" />
<text x="19.2" y="481.9" font-size="8.6"   text-anchor="end" fill="#444" >−5</text>
<line x1="20.40" y1="536.10" x2="22.60" y2="536.10" stroke="#999" stroke-width="0.9" />
<text x="19.2" y="538.2" font-size="8.6"   text-anchor="end" fill="#444" >−10</text>
<line x1="24.40" y1="542.20" x2="24.40" y2="544.40" stroke="#999" stroke-width="0.9" />
<text x="24.4" y="552.6" font-size="8.8"   text-anchor="middle" fill="#444" >−4</text>
<line x1="91.40" y1="542.20" x2="91.40" y2="544.40" stroke="#999" stroke-width="0.9" />
<text x="91.4" y="552.6" font-size="8.8"   text-anchor="middle" fill="#444" >0</text>
<line x1="158.40" y1="542.20" x2="158.40" y2="544.40" stroke="#999" stroke-width="0.9" />
<text x="158.4" y="552.6" font-size="8.8"   text-anchor="middle" fill="#444" >4</text>
<line x1="225.40" y1="542.20" x2="225.40" y2="544.40" stroke="#999" stroke-width="0.9" />
<text x="225.4" y="552.6" font-size="8.8"   text-anchor="middle" fill="#444" >8</text>
<line x1="292.40" y1="542.20" x2="292.40" y2="544.40" stroke="#999" stroke-width="0.9" />
<text x="292.4" y="552.6" font-size="8.8"   text-anchor="middle" fill="#444" >12</text>
<text x="163.8" y="563.3" font-size="9.6"   text-anchor="middle" fill="#222" >log(baseMean)</text>
<text transform="translate(9.8,392) rotate(-90)" font-size="9.4" text-anchor="middle" fill="#222">log<tspan font-size="6.5" dy="2">2</tspan><tspan dy="-2">FoldChange</tspan></text>
<text x="314.0" y="363.4" font-size="14.8" font-weight="bold"  text-anchor="start" fill="#111" >e</text>
<text x="334.3" y="379.0" font-size="10.85" font-weight="bold"  text-anchor="start" fill="#222" >GSEA analysis</text>
<text x="309.6" y="395.8" font-size="9.35" font-weight="bold"  text-anchor="start" fill="#111" >LogFC: inflammatory response genes</text>
<line x1="323.80" y1="407.30" x2="323.80" y2="448.30" stroke="#333" stroke-width="0.8" />
<line x1="321.30" y1="407.30" x2="323.80" y2="407.30" stroke="#333" stroke-width="0.8" />
<line x1="321.30" y1="448.30" x2="323.80" y2="448.30" stroke="#333" stroke-width="0.8" />
<text x="0.0" y="0.0" font-size="6.6"   text-anchor="middle" fill="#222" transform="translate(319.6,407.3) rotate(-90)">3</text>
<text x="0.0" y="0.0" font-size="6.6"   text-anchor="middle" fill="#222" transform="translate(319.6,448.3) rotate(-90)">0</text>
<text x="0.0" y="0.0" font-size="6.9"   text-anchor="middle" fill="#222" transform="translate(308.6,428.5) rotate(-90)">Enrichment</text>
<line x1="329.10" y1="435.00" x2="479.00" y2="435.00" stroke="#888" stroke-width="0.8" stroke-dasharray="1.2 1.6"/>
<path d="M329.2 432.0C332.4 432.6 342.2 434.1 348.6 435.5C355.0 436.9 360.3 439.1 367.5 440.1C374.7 441.1 382.8 441.0 391.8 441.4C400.8 441.8 414.3 442.6 421.5 442.3C428.7 442.0 431.4 440.8 435.0 439.6C438.6 438.4 439.5 437.9 443.1 435.0C446.7 432.1 451.7 426.6 456.6 422.0C461.6 417.4 470.1 409.7 472.8 407.2" fill="none" stroke="#e8553c" stroke-width="1.1"/>
<text x="372.4" y="419.0" font-size="9.4"   text-anchor="start" fill="#222" >p = 0.0005</text>
<rect x="329.10" y="473.10" width="143.70" height="21.00" fill="#d3d3d3" />
<rect x="329.10" y="473.10" width="2.80" height="21.00" fill="#9fd8e6" />
<rect x="469.80" y="473.10" width="3.00" height="21.00" fill="#f08070" />
<line x1="331.1" y1="452.4" x2="331.1" y2="494.1" stroke="#e8553c" stroke-width="0.7" stroke-opacity="0.95"/>
<line x1="332.4" y1="452.4" x2="332.4" y2="494.1" stroke="#e8553c" stroke-width="0.7" stroke-opacity="0.6838041451673282"/>
<line x1="333.6" y1="452.4" x2="333.6" y2="494.1" stroke="#e8553c" stroke-width="0.7" stroke-opacity="0.7078371045045635"/>
<line x1="334.9" y1="452.4" x2="334.9" y2="494.1" stroke="#e8553c" stroke-width="0.7" stroke-opacity="0.95"/>
<line x1="336.8" y1="452.4" x2="336.8" y2="494.1" stroke="#e8553c" stroke-width="0.7" stroke-opacity="0.6829543586329688"/>
<line x1="337.8" y1="452.4" x2="337.8" y2="494.1" stroke="#e8553c" stroke-width="0.7" stroke-opacity="0.7650462484994376"/>
<line x1="339.1" y1="452.4" x2="339.1" y2="494.1" stroke="#e8553c" stroke-width="0.7" stroke-opacity="0.95"/>
<line x1="340.6" y1="452.4" x2="340.6" y2="494.1" stroke="#e8553c" stroke-width="0.7" stroke-opacity="0.5595301944701474"/>
<line x1="341.8" y1="452.4" x2="341.8" y2="494.1" stroke="#e8553c" stroke-width="0.7" stroke-opacity="0.7745105226492411"/>
<line x1="342.8" y1="452.4" x2="342.8" y2="494.1" stroke="#e8553c" stroke-width="0.7" stroke-opacity="0.6420385489116158"/>
<line x1="346.0" y1="452.4" x2="346.0" y2="494.1" stroke="#e8553c" stroke-width="0.7" stroke-opacity="0.7554052212877802"/>
<line x1="346.8" y1="452.4" x2="346.8" y2="494.1" stroke="#e8553c" stroke-width="0.7" stroke-opacity="0.4009426840939149"/>
<line x1="347.8" y1="452.4" x2="347.8" y2="494.1" stroke="#e8553c" stroke-width="0.7" stroke-opacity="0.5610810715019736"/>
<line x1="352.2" y1="452.4" x2="352.2" y2="494.1" stroke="#e8553c" stroke-width="0.7" stroke-opacity="0.4609577746789236"/>
<line x1="353.5" y1="452.4" x2="353.5" y2="494.1" stroke="#e8553c" stroke-width="0.7" stroke-opacity="0.5946923866561686"/>
<line x1="354.7" y1="452.4" x2="354.7" y2="494.1" stroke="#e8553c" stroke-width="0.7" stroke-opacity="0.6082735345676453"/>
<line x1="360.9" y1="452.4" x2="360.9" y2="494.1" stroke="#e8553c" stroke-width="0.7" stroke-opacity="0.355901385315006"/>
<line x1="362.1" y1="452.4" x2="362.1" y2="494.1" stroke="#e8553c" stroke-width="0.7" stroke-opacity="0.95"/>
<line x1="363.6" y1="452.4" x2="363.6" y2="494.1" stroke="#e8553c" stroke-width="0.7" stroke-opacity="0.47576706470499963"/>
<line x1="364.6" y1="452.4" x2="364.6" y2="494.1" stroke="#e8553c" stroke-width="0.7" stroke-opacity="0.7623554173138484"/>
<line x1="372.1" y1="452.4" x2="372.1" y2="494.1" stroke="#e8553c" stroke-width="0.7" stroke-opacity="0.6945764532331138"/>
<line x1="373.3" y1="452.4" x2="373.3" y2="494.1" stroke="#e8553c" stroke-width="0.7" stroke-opacity="0.42182189556111716"/>
<line x1="374.6" y1="452.4" x2="374.6" y2="494.1" stroke="#e8553c" stroke-width="0.7" stroke-opacity="0.708716146144042"/>
<line x1="375.8" y1="452.4" x2="375.8" y2="494.1" stroke="#e8553c" stroke-width="0.7" stroke-opacity="0.4124453382795064"/>
<line x1="377.0" y1="452.4" x2="377.0" y2="494.1" stroke="#e8553c" stroke-width="0.7" stroke-opacity="0.6278536342097525"/>
<line x1="379.0" y1="452.4" x2="379.0" y2="494.1" stroke="#e8553c" stroke-width="0.7" stroke-opacity="0.4070146546476213"/>
<line x1="380.8" y1="452.4" x2="380.8" y2="494.1" stroke="#e8553c" stroke-width="0.7" stroke-opacity="0.35079868799114056"/>
<line x1="384.5" y1="452.4" x2="384.5" y2="494.1" stroke="#e8553c" stroke-width="0.7" stroke-opacity="0.7421321351259269"/>
<line x1="387.0" y1="452.4" x2="387.0" y2="494.1" stroke="#e8553c" stroke-width="0.7" stroke-opacity="0.444255372122803"/>
<line x1="389.4" y1="452.4" x2="389.4" y2="494.1" stroke="#e8553c" stroke-width="0.7" stroke-opacity="0.44696652615112953"/>
<line x1="390.7" y1="452.4" x2="390.7" y2="494.1" stroke="#e8553c" stroke-width="0.7" stroke-opacity="0.7920894989716664"/>
<line x1="391.9" y1="452.4" x2="391.9" y2="494.1" stroke="#e8553c" stroke-width="0.7" stroke-opacity="0.7425834944465608"/>
<line x1="393.2" y1="452.4" x2="393.2" y2="494.1" stroke="#e8553c" stroke-width="0.7" stroke-opacity="0.48018732548611687"/>
<line x1="396.9" y1="452.4" x2="396.9" y2="494.1" stroke="#e8553c" stroke-width="0.7" stroke-opacity="0.7826650950275376"/>
<line x1="398.1" y1="452.4" x2="398.1" y2="494.1" stroke="#e8553c" stroke-width="0.7" stroke-opacity="0.5926505609918647"/>
<line x1="399.4" y1="452.4" x2="399.4" y2="494.1" stroke="#e8553c" stroke-width="0.7" stroke-opacity="0.6550237147627666"/>
<line x1="400.6" y1="452.4" x2="400.6" y2="494.1" stroke="#e8553c" stroke-width="0.7" stroke-opacity="0.44215078154020676"/>
<line x1="403.1" y1="452.4" x2="403.1" y2="494.1" stroke="#e8553c" stroke-width="0.7" stroke-opacity="0.7734392004895996"/>
<line x1="409.3" y1="452.4" x2="409.3" y2="494.1" stroke="#e8553c" stroke-width="0.7" stroke-opacity="0.6607888734981087"/>
<line x1="410.5" y1="452.4" x2="410.5" y2="494.1" stroke="#e8553c" stroke-width="0.7" stroke-opacity="0.7849539405427379"/>
<line x1="420.5" y1="452.4" x2="420.5" y2="494.1" stroke="#e8553c" stroke-width="0.7" stroke-opacity="0.7521837549094152"/>
<line x1="421.7" y1="452.4" x2="421.7" y2="494.1" stroke="#e8553c" stroke-width="0.7" stroke-opacity="0.48445500403424047"/>
<line x1="422.9" y1="452.4" x2="422.9" y2="494.1" stroke="#e8553c" stroke-width="0.7" stroke-opacity="0.5125354706250729"/>
<line x1="424.2" y1="452.4" x2="424.2" y2="494.1" stroke="#e8553c" stroke-width="0.7" stroke-opacity="0.4246802257083855"/>
<line x1="427.9" y1="452.4" x2="427.9" y2="494.1" stroke="#e8553c" stroke-width="0.7" stroke-opacity="0.41556585929330714"/>
<line x1="429.1" y1="452.4" x2="429.1" y2="494.1" stroke="#e8553c" stroke-width="0.7" stroke-opacity="0.3793128710190543"/>
<line x1="430.4" y1="452.4" x2="430.4" y2="494.1" stroke="#e8553c" stroke-width="0.7" stroke-opacity="0.4856115953462581"/>
<line x1="436.6" y1="452.4" x2="436.6" y2="494.1" stroke="#e8553c" stroke-width="0.7" stroke-opacity="0.6213994988334445"/>
<line x1="437.8" y1="452.4" x2="437.8" y2="494.1" stroke="#e8553c" stroke-width="0.7" stroke-opacity="0.3515224037184605"/>
<line x1="439.1" y1="452.4" x2="439.1" y2="494.1" stroke="#e8553c" stroke-width="0.7" stroke-opacity="0.655070412296461"/>
<line x1="440.3" y1="452.4" x2="440.3" y2="494.1" stroke="#e8553c" stroke-width="0.7" stroke-opacity="0.5020535877325393"/>
<line x1="441.6" y1="452.4" x2="441.6" y2="494.1" stroke="#e8553c" stroke-width="0.7" stroke-opacity="0.48948106922140794"/>
<line x1="442.8" y1="452.4" x2="442.8" y2="494.1" stroke="#e8553c" stroke-width="0.7" stroke-opacity="0.7183331335911818"/>
<line x1="444.0" y1="452.4" x2="444.0" y2="494.1" stroke="#e8553c" stroke-width="0.7" stroke-opacity="0.5663353339835175"/>
<line x1="446.5" y1="452.4" x2="446.5" y2="494.1" stroke="#e8553c" stroke-width="0.7" stroke-opacity="0.49210689763089976"/>
<line x1="447.8" y1="452.4" x2="447.8" y2="494.1" stroke="#e8553c" stroke-width="0.7" stroke-opacity="0.95"/>
<line x1="449.0" y1="452.4" x2="449.0" y2="494.1" stroke="#e8553c" stroke-width="0.7" stroke-opacity="0.6671011103634091"/>
<line x1="450.2" y1="452.4" x2="450.2" y2="494.1" stroke="#e8553c" stroke-width="0.7" stroke-opacity="0.37565041829110546"/>
<line x1="454.0" y1="452.4" x2="454.0" y2="494.1" stroke="#e8553c" stroke-width="0.7" stroke-opacity="0.7887948034149059"/>
<line x1="455.2" y1="452.4" x2="455.2" y2="494.1" stroke="#e8553c" stroke-width="0.7" stroke-opacity="0.3602895034637243"/>
<line x1="456.4" y1="452.4" x2="456.4" y2="494.1" stroke="#e8553c" stroke-width="0.7" stroke-opacity="0.687407760031073"/>
<line x1="457.7" y1="452.4" x2="457.7" y2="494.1" stroke="#e8553c" stroke-width="0.7" stroke-opacity="0.7301964002246584"/>
<line x1="458.9" y1="452.4" x2="458.9" y2="494.1" stroke="#e8553c" stroke-width="0.7" stroke-opacity="0.35813039092033855"/>
<line x1="460.2" y1="452.4" x2="460.2" y2="494.1" stroke="#e8553c" stroke-width="0.7" stroke-opacity="0.7044822367911954"/>
<line x1="461.4" y1="452.4" x2="461.4" y2="494.1" stroke="#e8553c" stroke-width="0.7" stroke-opacity="0.5147830141288372"/>
<line x1="462.6" y1="452.4" x2="462.6" y2="494.1" stroke="#e8553c" stroke-width="0.7" stroke-opacity="0.6103334730755936"/>
<line x1="463.9" y1="452.4" x2="463.9" y2="494.1" stroke="#e8553c" stroke-width="0.7" stroke-opacity="0.95"/>
<line x1="465.1" y1="452.4" x2="465.1" y2="494.1" stroke="#e8553c" stroke-width="0.7" stroke-opacity="0.37102720341452367"/>
<line x1="466.4" y1="452.4" x2="466.4" y2="494.1" stroke="#e8553c" stroke-width="0.7" stroke-opacity="0.95"/>
<line x1="467.6" y1="452.4" x2="467.6" y2="494.1" stroke="#e8553c" stroke-width="0.7" stroke-opacity="0.95"/>
<line x1="468.8" y1="452.4" x2="468.8" y2="494.1" stroke="#e8553c" stroke-width="0.7" stroke-opacity="0.43843475173085367"/>
<line x1="470.1" y1="452.4" x2="470.1" y2="494.1" stroke="#e8553c" stroke-width="0.7" stroke-opacity="0.95"/>
<line x1="471.3" y1="452.4" x2="471.3" y2="494.1" stroke="#e8553c" stroke-width="0.7" stroke-opacity="0.95"/>
<line x1="472.1" y1="452.4" x2="472.1" y2="494.1" stroke="#e8553c" stroke-width="0.7" stroke-opacity="0.95"/>
<text x="0.0" y="0.0" font-size="8.3"   text-anchor="middle" fill="#222" transform="translate(326.6,473.2) rotate(-90)">Down</text>
<text x="0.0" y="0.0" font-size="8.3"   text-anchor="middle" fill="#222" transform="translate(480.4,473.2) rotate(-90)">Up</text>
<line x1="329.10" y1="497.00" x2="472.80" y2="497.00" stroke="#333" stroke-width="0.8" />
<line x1="329.10" y1="497.00" x2="329.10" y2="499.80" stroke="#333" stroke-width="0.8" />
<text x="0.0" y="0.0" font-size="6.9"   text-anchor="end" fill="#222" transform="translate(331.5,502.3) rotate(-90)">−8.205</text>
<line x1="343.47" y1="497.00" x2="343.47" y2="499.80" stroke="#333" stroke-width="0.8" />
<text x="0.0" y="0.0" font-size="6.9"   text-anchor="end" fill="#222" transform="translate(345.9,502.3) rotate(-90)">−0.853</text>
<line x1="357.84" y1="497.00" x2="357.84" y2="499.80" stroke="#333" stroke-width="0.8" />
<text x="0.0" y="0.0" font-size="6.9"   text-anchor="end" fill="#222" transform="translate(360.2,502.3) rotate(-90)">−0.433</text>
<line x1="372.21" y1="497.00" x2="372.21" y2="499.80" stroke="#333" stroke-width="0.8" />
<text x="0.0" y="0.0" font-size="6.9"   text-anchor="end" fill="#222" transform="translate(374.6,502.3) rotate(-90)">−0.237</text>
<line x1="386.58" y1="497.00" x2="386.58" y2="499.80" stroke="#333" stroke-width="0.8" />
<text x="0.0" y="0.0" font-size="6.9"   text-anchor="end" fill="#222" transform="translate(389.0,502.3) rotate(-90)">−0.106</text>
<line x1="400.95" y1="497.00" x2="400.95" y2="499.80" stroke="#333" stroke-width="0.8" />
<text x="0.0" y="0.0" font-size="6.9"   text-anchor="end" fill="#222" transform="translate(403.4,502.3) rotate(-90)">−0.003</text>
<line x1="415.32" y1="497.00" x2="415.32" y2="499.80" stroke="#333" stroke-width="0.8" />
<text x="0.0" y="0.0" font-size="6.9"   text-anchor="end" fill="#222" transform="translate(417.7,502.3) rotate(-90)">0.096</text>
<line x1="429.69" y1="497.00" x2="429.69" y2="499.80" stroke="#333" stroke-width="0.8" />
<text x="0.0" y="0.0" font-size="6.9"   text-anchor="end" fill="#222" transform="translate(432.1,502.3) rotate(-90)">0.203</text>
<line x1="444.06" y1="497.00" x2="444.06" y2="499.80" stroke="#333" stroke-width="0.8" />
<text x="0.0" y="0.0" font-size="6.9"   text-anchor="end" fill="#222" transform="translate(446.5,502.3) rotate(-90)">0.347</text>
<line x1="458.43" y1="497.00" x2="458.43" y2="499.80" stroke="#333" stroke-width="0.8" />
<text x="0.0" y="0.0" font-size="6.9"   text-anchor="end" fill="#222" transform="translate(460.8,502.3) rotate(-90)">0.649</text>
<line x1="472.80" y1="497.00" x2="472.80" y2="499.80" stroke="#333" stroke-width="0.8" />
<text x="0.0" y="0.0" font-size="6.9"   text-anchor="end" fill="#222" transform="translate(475.2,502.3) rotate(-90)">12.477</text>
<text x="407.3" y="532.8" font-size="8.2"   text-anchor="middle" fill="#222" >Statistic</text>
<text x="486.5" y="395.8" font-size="9.35" font-weight="bold"  text-anchor="start" fill="#111" >LogFC: Hallmark Hedgehog signature genes</text>
<line x1="515.80" y1="407.30" x2="515.80" y2="448.30" stroke="#333" stroke-width="0.8" />
<line x1="513.30" y1="407.30" x2="515.80" y2="407.30" stroke="#333" stroke-width="0.8" />
<line x1="513.30" y1="448.30" x2="515.80" y2="448.30" stroke="#333" stroke-width="0.8" />
<text x="0.0" y="0.0" font-size="6.6"   text-anchor="middle" fill="#222" transform="translate(511.6,407.3) rotate(-90)">1.9</text>
<text x="0.0" y="0.0" font-size="6.6"   text-anchor="middle" fill="#222" transform="translate(511.6,448.3) rotate(-90)">0</text>
<text x="0.0" y="0.0" font-size="6.9"   text-anchor="middle" fill="#222" transform="translate(500.6,428.5) rotate(-90)">Enrichment</text>
<line x1="521.60" y1="427.50" x2="671.10" y2="427.50" stroke="#888" stroke-width="0.8" stroke-dasharray="1.2 1.6"/>
<path d="M521.4 407.5C522.5 408.2 525.8 410.2 528.3 411.6C530.8 413.0 533.6 414.2 536.6 415.8C539.6 417.4 543.5 419.9 546.3 421.4C549.1 422.9 551.2 424.2 553.3 424.8C555.4 425.4 557.0 425.0 558.8 424.9C560.6 424.8 561.5 423.8 564.3 424.1C567.1 424.4 571.7 426.0 575.4 426.9C579.1 427.8 582.8 428.5 586.5 429.7C590.2 430.9 594.4 432.5 597.6 433.8C600.8 435.1 603.2 436.8 605.5 437.6C607.8 438.4 609.5 438.7 611.5 438.7C613.5 438.7 615.2 438.4 617.5 437.8C619.8 437.2 620.9 437.0 625.4 435.2C629.9 433.4 640.2 428.8 644.8 426.9C649.4 425.0 649.7 424.9 653.1 424.1C656.5 423.3 663.0 422.5 665.0 422.2" fill="none" stroke="#4a5bbd" stroke-width="1.1"/>
<text x="581.5" y="419.0" font-size="9.4"   text-anchor="start" fill="#222" >p = 0.0005</text>
<rect x="521.60" y="473.10" width="143.70" height="21.00" fill="#d3d3d3" />
<rect x="521.60" y="473.10" width="7.00" height="21.00" fill="#9fd8e6" />
<rect x="660.00" y="473.10" width="5.30" height="21.00" fill="#f2b6c8" />
<line x1="523.4" y1="452.4" x2="523.4" y2="494.1" stroke="#4a5bbd" stroke-width="0.8" stroke-opacity="0.75"/>
<line x1="526.0" y1="452.4" x2="526.0" y2="494.1" stroke="#4a5bbd" stroke-width="0.8" stroke-opacity="0.75"/>
<line x1="530.0" y1="452.4" x2="530.0" y2="494.1" stroke="#4a5bbd" stroke-width="1.1" stroke-opacity="1.0"/>
<line x1="530.5" y1="452.4" x2="530.5" y2="494.1" stroke="#4a5bbd" stroke-width="1.1" stroke-opacity="1.0"/>
<line x1="531.3" y1="452.4" x2="531.3" y2="494.1" stroke="#4a5bbd" stroke-width="1.1" stroke-opacity="1.0"/>
<line x1="531.8" y1="452.4" x2="531.8" y2="494.1" stroke="#4a5bbd" stroke-width="1.1" stroke-opacity="1.0"/>
<line x1="537.8" y1="452.4" x2="537.8" y2="494.1" stroke="#4a5bbd" stroke-width="0.8" stroke-opacity="0.75"/>
<line x1="549.1" y1="452.4" x2="549.1" y2="494.1" stroke="#4a5bbd" stroke-width="0.8" stroke-opacity="0.75"/>
<line x1="551.2" y1="452.4" x2="551.2" y2="494.1" stroke="#4a5bbd" stroke-width="0.8" stroke-opacity="0.75"/>
<line x1="565.4" y1="452.4" x2="565.4" y2="494.1" stroke="#4a5bbd" stroke-width="0.8" stroke-opacity="0.75"/>
<line x1="569.4" y1="452.4" x2="569.4" y2="494.1" stroke="#4a5bbd" stroke-width="0.8" stroke-opacity="0.55"/>
<line x1="574.6" y1="452.4" x2="574.6" y2="494.1" stroke="#4a5bbd" stroke-width="0.8" stroke-opacity="0.75"/>
<line x1="577.3" y1="452.4" x2="577.3" y2="494.1" stroke="#4a5bbd" stroke-width="0.8" stroke-opacity="0.75"/>
<line x1="597.5" y1="452.4" x2="597.5" y2="494.1" stroke="#4a5bbd" stroke-width="0.8" stroke-opacity="0.75"/>
<line x1="614.0" y1="452.4" x2="614.0" y2="494.1" stroke="#4a5bbd" stroke-width="0.8" stroke-opacity="0.75"/>
<line x1="618.0" y1="452.4" x2="618.0" y2="494.1" stroke="#4a5bbd" stroke-width="0.8" stroke-opacity="0.55"/>
<line x1="632.4" y1="452.4" x2="632.4" y2="494.1" stroke="#4a5bbd" stroke-width="0.8" stroke-opacity="0.75"/>
<line x1="641.4" y1="452.4" x2="641.4" y2="494.1" stroke="#4a5bbd" stroke-width="1.1" stroke-opacity="1.0"/>
<line x1="652.1" y1="452.4" x2="652.1" y2="494.1" stroke="#4a5bbd" stroke-width="0.8" stroke-opacity="0.75"/>
<line x1="654.0" y1="452.4" x2="654.0" y2="494.1" stroke="#4a5bbd" stroke-width="0.8" stroke-opacity="0.55"/>
<line x1="655.3" y1="452.4" x2="655.3" y2="494.1" stroke="#4a5bbd" stroke-width="0.8" stroke-opacity="0.55"/>
<line x1="657.4" y1="452.4" x2="657.4" y2="494.1" stroke="#4a5bbd" stroke-width="0.8" stroke-opacity="0.75"/>
<line x1="662.6" y1="452.4" x2="662.6" y2="494.1" stroke="#4a5bbd" stroke-width="0.8" stroke-opacity="0.75"/>
<text x="0.0" y="0.0" font-size="8.3"   text-anchor="middle" fill="#222" transform="translate(519.1,473.2) rotate(-90)">Down</text>
<text x="0.0" y="0.0" font-size="8.3"   text-anchor="middle" fill="#222" transform="translate(672.9,473.2) rotate(-90)">Up</text>
<line x1="521.60" y1="497.00" x2="665.30" y2="497.00" stroke="#333" stroke-width="0.8" />
<line x1="521.60" y1="497.00" x2="521.60" y2="499.80" stroke="#333" stroke-width="0.8" />
<text x="0.0" y="0.0" font-size="6.9"   text-anchor="end" fill="#222" transform="translate(524.0,502.3) rotate(-90)">−8.205</text>
<line x1="535.97" y1="497.00" x2="535.97" y2="499.80" stroke="#333" stroke-width="0.8" />
<text x="0.0" y="0.0" font-size="6.9"   text-anchor="end" fill="#222" transform="translate(538.4,502.3) rotate(-90)">−0.853</text>
<line x1="550.34" y1="497.00" x2="550.34" y2="499.80" stroke="#333" stroke-width="0.8" />
<text x="0.0" y="0.0" font-size="6.9"   text-anchor="end" fill="#222" transform="translate(552.7,502.3) rotate(-90)">−0.433</text>
<line x1="564.71" y1="497.00" x2="564.71" y2="499.80" stroke="#333" stroke-width="0.8" />
<text x="0.0" y="0.0" font-size="6.9"   text-anchor="end" fill="#222" transform="translate(567.1,502.3) rotate(-90)">−0.237</text>
<line x1="579.08" y1="497.00" x2="579.08" y2="499.80" stroke="#333" stroke-width="0.8" />
<text x="0.0" y="0.0" font-size="6.9"   text-anchor="end" fill="#222" transform="translate(581.5,502.3) rotate(-90)">−0.106</text>
<line x1="593.45" y1="497.00" x2="593.45" y2="499.80" stroke="#333" stroke-width="0.8" />
<text x="0.0" y="0.0" font-size="6.9"   text-anchor="end" fill="#222" transform="translate(595.9,502.3) rotate(-90)">−0.003</text>
<line x1="607.82" y1="497.00" x2="607.82" y2="499.80" stroke="#333" stroke-width="0.8" />
<text x="0.0" y="0.0" font-size="6.9"   text-anchor="end" fill="#222" transform="translate(610.2,502.3) rotate(-90)">0.096</text>
<line x1="622.19" y1="497.00" x2="622.19" y2="499.80" stroke="#333" stroke-width="0.8" />
<text x="0.0" y="0.0" font-size="6.9"   text-anchor="end" fill="#222" transform="translate(624.6,502.3) rotate(-90)">0.203</text>
<line x1="636.56" y1="497.00" x2="636.56" y2="499.80" stroke="#333" stroke-width="0.8" />
<text x="0.0" y="0.0" font-size="6.9"   text-anchor="end" fill="#222" transform="translate(639.0,502.3) rotate(-90)">0.347</text>
<line x1="650.93" y1="497.00" x2="650.93" y2="499.80" stroke="#333" stroke-width="0.8" />
<text x="0.0" y="0.0" font-size="6.9"   text-anchor="end" fill="#222" transform="translate(653.3,502.3) rotate(-90)">0.649</text>
<line x1="665.30" y1="497.00" x2="665.30" y2="499.80" stroke="#333" stroke-width="0.8" />
<text x="0.0" y="0.0" font-size="6.9"   text-anchor="end" fill="#222" transform="translate(667.7,502.3) rotate(-90)">12.477</text>
<text x="599.8" y="532.8" font-size="8.2"   text-anchor="middle" fill="#222" >Statistic</text>
<text x="2.6" y="597.0" font-size="14.8" font-weight="bold"  text-anchor="start" fill="#111" >f</text>
<text x="24.9" y="606.0" font-size="10.4" font-weight="bold"  text-anchor="start" fill="#333" >ATAC-Seq</text>
<text x="134.4" y="594.0" font-size="9.0"   text-anchor="start" fill="#222" >Enriched motifs</text>
<circle cx="140.40" cy="605.60" r="6.3" fill="#ea5444" />
<text x="153.6" y="609.0" font-size="9.0"   text-anchor="start" fill="#222" >TRUE</text>
<circle cx="140.40" cy="621.60" r="6.3" fill="#7b7b7b" />
<text x="153.6" y="625.0" font-size="9.0"   text-anchor="start" fill="#222" >FALSE</text>
<rect x="58.00" y="634.40" width="149.70" height="177.10" fill="#f9ebe1" />
<polygon points="31.0,841.2 40.0,841.3 47.0,841.0 55.0,839.3 63.8,836.6 72.0,833.6 82.3,830.6 85.8,828.0 84.5,824.5 83.8,817.5 78.0,813.5 72.2,810.5 66.0,808.5 60.5,808.0 55.4,810.5 51.5,815.5 49.5,822.1 46.5,830.0 43.0,834.2 38.0,835.3 33.6,835.8 29.8,837.2 29.0,839.5" fill="#7b7b7b" stroke="#7b7b7b" stroke-width="1.5" stroke-linejoin="round"/>
<circle cx="33.20" cy="839.30" r="3.3" fill="#7b7b7b" />
<circle cx="37.00" cy="839.00" r="3.3" fill="#7b7b7b" />
<circle cx="55.40" cy="806.00" r="3.3" fill="#7b7b7b" />
<circle cx="56.00" cy="806.10" r="3.3" fill="#7b7b7b" />
<circle cx="70.50" cy="812.50" r="3.3" fill="#7b7b7b" />
<circle cx="81.00" cy="815.40" r="3.3" fill="#7b7b7b" />
<circle cx="80.30" cy="814.80" r="3.3" fill="#7b7b7b" />
<circle cx="88.10" cy="819.00" r="3.3" fill="#7b7b7b" />
<circle cx="93.90" cy="817.20" r="3.3" fill="#7b7b7b" />
<circle cx="91.60" cy="825.40" r="3.3" fill="#7b7b7b" />
<circle cx="95.70" cy="825.40" r="3.3" fill="#7b7b7b" />
<circle cx="88.50" cy="819.30" r="3.3" fill="#7b7b7b" />
<circle cx="94.00" cy="817.20" r="3.3" fill="#7b7b7b" />
<circle cx="103.80" cy="824.40" r="3.3" fill="#7b7b7b" />
<circle cx="109.50" cy="823.80" r="3.3" fill="#7b7b7b" />
<circle cx="120.10" cy="821.90" r="3.3" fill="#7b7b7b" />
<circle cx="125.90" cy="821.90" r="3.3" fill="#7b7b7b" />
<circle cx="143.60" cy="820.30" r="3.3" fill="#7b7b7b" />
<circle cx="71.10" cy="812.70" r="3.3" fill="#7b7b7b" />
<circle cx="61.00" cy="811.00" r="3.3" fill="#7b7b7b" />
<circle cx="66.00" cy="810.00" r="3.3" fill="#7b7b7b" />
<circle cx="136.20" cy="634.70" r="3.3" fill="#e9493b" fill-opacity="0.88"/>
<circle cx="130.10" cy="667.10" r="3.3" fill="#e9493b" fill-opacity="0.88"/>
<circle cx="127.70" cy="681.70" r="3.3" fill="#e9493b" fill-opacity="0.88"/>
<circle cx="116.40" cy="685.50" r="3.3" fill="#e9493b" fill-opacity="0.88"/>
<circle cx="112.80" cy="701.50" r="3.3" fill="#e9493b" fill-opacity="0.88"/>
<circle cx="121.30" cy="700.70" r="3.3" fill="#e9493b" fill-opacity="0.88"/>
<circle cx="99.10" cy="722.30" r="3.3" fill="#e9493b" fill-opacity="0.88"/>
<circle cx="95.90" cy="735.70" r="3.3" fill="#e9493b" fill-opacity="0.88"/>
<circle cx="110.50" cy="732.80" r="3.3" fill="#e9493b" fill-opacity="0.88"/>
<circle cx="86.90" cy="744.70" r="3.3" fill="#e9493b" fill-opacity="0.88"/>
<circle cx="95.30" cy="743.90" r="3.3" fill="#e9493b" fill-opacity="0.88"/>
<circle cx="79.00" cy="750.00" r="3.3" fill="#e9493b" fill-opacity="0.88"/>
<circle cx="86.00" cy="783.00" r="3.3" fill="#e9493b" fill-opacity="0.88"/>
<circle cx="102.60" cy="774.20" r="3.3" fill="#e9493b" fill-opacity="0.88"/>
<circle cx="93.90" cy="795.50" r="3.3" fill="#e9493b" fill-opacity="0.88"/>
<circle cx="101.20" cy="791.50" r="3.3" fill="#e9493b" fill-opacity="0.88"/>
<circle cx="110.50" cy="795.00" r="3.3" fill="#e9493b" fill-opacity="0.88"/>
<circle cx="107.60" cy="796.40" r="3.3" fill="#e9493b" fill-opacity="0.88"/>
<circle cx="130.40" cy="797.90" r="3.3" fill="#e9493b" fill-opacity="0.88"/>
<circle cx="207.20" cy="782.70" r="3.3" fill="#e9493b" fill-opacity="0.88"/>
<circle cx="175.30" cy="803.20" r="3.3" fill="#e9493b" fill-opacity="0.88"/>
<circle cx="102.80" cy="773.90" r="3.3" fill="#e9493b" fill-opacity="0.88"/>
<circle cx="85.80" cy="783.90" r="3.3" fill="#e9493b" fill-opacity="0.88"/>
<circle cx="71.10" cy="790.20" r="3.3" fill="#e9493b" fill-opacity="0.88"/>
<circle cx="75.20" cy="791.70" r="3.3" fill="#e9493b" fill-opacity="0.88"/>
<circle cx="67.40" cy="796.80" r="3.3" fill="#e9493b" fill-opacity="0.88"/>
<circle cx="63.90" cy="802.90" r="3.3" fill="#e9493b" fill-opacity="0.88"/>
<circle cx="69.00" cy="804.00" r="3.3" fill="#e9493b" fill-opacity="0.88"/>
<circle cx="76.20" cy="808.60" r="3.3" fill="#e9493b" fill-opacity="0.88"/>
<circle cx="79.30" cy="796.80" r="3.3" fill="#e9493b" fill-opacity="0.88"/>
<circle cx="94.00" cy="795.80" r="3.3" fill="#e9493b" fill-opacity="0.88"/>
<circle cx="100.70" cy="791.70" r="3.3" fill="#e9493b" fill-opacity="0.88"/>
<circle cx="102.80" cy="798.40" r="3.3" fill="#e9493b" fill-opacity="0.88"/>
<circle cx="109.90" cy="795.80" r="3.3" fill="#e9493b" fill-opacity="0.88"/>
<circle cx="111.60" cy="794.70" r="3.3" fill="#e9493b" fill-opacity="0.88"/>
<circle cx="121.60" cy="800.90" r="3.3" fill="#e9493b" fill-opacity="0.88"/>
<circle cx="121.20" cy="811.10" r="3.3" fill="#e9493b" fill-opacity="0.88"/>
<circle cx="92.60" cy="811.10" r="3.3" fill="#e9493b" fill-opacity="0.88"/>
<circle cx="83.80" cy="807.40" r="3.3" fill="#e9493b" fill-opacity="0.88"/>
<circle cx="62.20" cy="805.50" r="3.3" fill="#e9493b" fill-opacity="0.88"/>
<circle cx="68.20" cy="802.00" r="3.3" fill="#e9493b" fill-opacity="0.88"/>
<circle cx="70.50" cy="806.10" r="3.3" fill="#e9493b" fill-opacity="0.88"/>
<circle cx="75.20" cy="809.00" r="3.3" fill="#e9493b" fill-opacity="0.88"/>
<circle cx="65.90" cy="799.10" r="3.3" fill="#e9493b" fill-opacity="0.88"/>
<circle cx="74.00" cy="796.20" r="3.3" fill="#e9493b" fill-opacity="0.88"/>
<circle cx="79.90" cy="796.80" r="3.3" fill="#e9493b" fill-opacity="0.88"/>
<circle cx="84.60" cy="807.30" r="3.3" fill="#e9493b" fill-opacity="0.88"/>
<circle cx="92.70" cy="811.40" r="3.3" fill="#e9493b" fill-opacity="0.88"/>
<circle cx="60.50" cy="800.50" r="3.3" fill="#e9493b" fill-opacity="0.88"/>
<circle cx="66.00" cy="808.00" r="3.3" fill="#e9493b" fill-opacity="0.88"/>
<circle cx="72.00" cy="800.00" r="3.3" fill="#e9493b" fill-opacity="0.88"/>
<circle cx="125.50" cy="808.50" r="3.3" fill="#e9493b" fill-opacity="0.88"/>
<circle cx="128.50" cy="811.50" r="3.3" fill="#e9493b" fill-opacity="0.88"/>
<circle cx="119.00" cy="803.50" r="3.3" fill="#e9493b" fill-opacity="0.88"/>
<line x1="27.70" y1="624.40" x2="27.70" y2="859.00" stroke="#333" stroke-width="1.0" />
<line x1="27.70" y1="859.00" x2="216.00" y2="859.00" stroke="#333" stroke-width="1.0" />
<line x1="25.20" y1="839.50" x2="27.70" y2="839.50" stroke="#333" stroke-width="0.9" />
<text x="22.4" y="842.5" font-size="8.4"   text-anchor="end" fill="#4d4d4d" >0</text>
<line x1="25.20" y1="793.70" x2="27.70" y2="793.70" stroke="#333" stroke-width="0.9" />
<text x="22.4" y="796.7" font-size="8.4"   text-anchor="end" fill="#4d4d4d" >5</text>
<line x1="25.20" y1="747.90" x2="27.70" y2="747.90" stroke="#333" stroke-width="0.9" />
<text x="22.4" y="750.9" font-size="8.4"   text-anchor="end" fill="#4d4d4d" >10</text>
<line x1="25.20" y1="702.10" x2="27.70" y2="702.10" stroke="#333" stroke-width="0.9" />
<text x="22.4" y="705.1" font-size="8.4"   text-anchor="end" fill="#4d4d4d" >15</text>
<line x1="25.20" y1="656.30" x2="27.70" y2="656.30" stroke="#333" stroke-width="0.9" />
<text x="22.4" y="659.3" font-size="8.4"   text-anchor="end" fill="#4d4d4d" >20</text>
<line x1="34.50" y1="859.00" x2="34.50" y2="861.50" stroke="#333" stroke-width="0.9" />
<text x="34.5" y="872.7" font-size="8.4"   text-anchor="middle" fill="#4d4d4d" >0</text>
<line x1="79.20" y1="859.00" x2="79.20" y2="861.50" stroke="#333" stroke-width="0.9" />
<text x="79.2" y="872.7" font-size="8.4"   text-anchor="middle" fill="#4d4d4d" >3</text>
<line x1="123.90" y1="859.00" x2="123.90" y2="861.50" stroke="#333" stroke-width="0.9" />
<text x="123.9" y="872.7" font-size="8.4"   text-anchor="middle" fill="#4d4d4d" >6</text>
<line x1="168.60" y1="859.00" x2="168.60" y2="861.50" stroke="#333" stroke-width="0.9" />
<text x="168.6" y="872.7" font-size="8.4"   text-anchor="middle" fill="#4d4d4d" >9</text>
<line x1="213.30" y1="859.00" x2="213.30" y2="861.50" stroke="#333" stroke-width="0.9" />
<text x="213.3" y="872.7" font-size="8.4"   text-anchor="middle" fill="#4d4d4d" >12</text>
<text x="128.5" y="887.3" font-size="9.2"   text-anchor="middle" fill="#222" >Fold enrichment</text>
<text transform="translate(7.6,748) rotate(-90)" font-size="9.0" text-anchor="middle" fill="#222">−log<tspan font-size="6.3" dy="2">10</tspan><tspan dy="-2">(p-value)</tspan></text>
<line x1="136.80" y1="635.30" x2="139.70" y2="639.60" stroke="#111" stroke-width="0.7" />
<line x1="112.50" y1="700.00" x2="114.50" y2="693.60" stroke="#111" stroke-width="0.7" />
<line x1="99.10" y1="721.50" x2="99.50" y2="714.70" stroke="#111" stroke-width="0.7" />
<line x1="106.70" y1="727.20" x2="96.50" y2="735.10" stroke="#111" stroke-width="0.7" />
<line x1="111.50" y1="733.00" x2="117.20" y2="735.50" stroke="#111" stroke-width="0.7" />
<line x1="85.60" y1="768.70" x2="86.00" y2="781.00" stroke="#111" stroke-width="0.7" />
<line x1="56.40" y1="793.70" x2="75.20" y2="792.30" stroke="#111" stroke-width="0.7" />
<line x1="69.00" y1="784.10" x2="75.20" y2="791.70" stroke="#111" stroke-width="0.7" />
<line x1="80.00" y1="797.50" x2="84.50" y2="801.00" stroke="#111" stroke-width="0.7" />
<line x1="97.70" y1="785.30" x2="94.60" y2="795.20" stroke="#111" stroke-width="0.7" />
<line x1="130.60" y1="791.50" x2="130.40" y2="796.00" stroke="#111" stroke-width="0.7" />
<line x1="205.00" y1="776.00" x2="207.20" y2="780.50" stroke="#111" stroke-width="0.7" />
<rect x="139.7" y="639.6" width="25.4" height="10.3" rx="1.6" fill="#fff" stroke="#222" stroke-width="0.7"/>
<text x="152.4" y="647.4" font-size="7.1" font-weight="bold"  text-anchor="middle" fill="#111" >CEBP</text>
<rect x="104.4" y="684.0" width="22.8" height="9.6" rx="1.6" fill="#fff" stroke="#222" stroke-width="0.7"/>
<text x="115.8" y="691.4" font-size="7.1" font-weight="bold"  text-anchor="middle" fill="#111" >BATF</text>
<rect x="60.3" y="705.3" width="41.2" height="9.4" rx="1.6" fill="#fff" stroke="#222" stroke-width="0.7"/>
<text x="80.9" y="712.6" font-size="7.1" font-weight="bold"  text-anchor="middle" fill="#111" >CEBP:AP1</text>
<rect x="106.7" y="716.4" width="22.5" height="9.4" rx="1.6" fill="#fff" stroke="#222" stroke-width="0.7"/>
<text x="117.9" y="723.7" font-size="7.1" font-weight="bold"  text-anchor="middle" fill="#111" >AP−1</text>
<rect x="117.2" y="730.7" width="24.8" height="10.3" rx="1.6" fill="#fff" stroke="#222" stroke-width="0.7"/>
<text x="129.6" y="738.5" font-size="7.1" font-weight="bold"  text-anchor="middle" fill="#111" >NFIL3</text>
<rect x="65.8" y="758.5" width="39.5" height="10.2" rx="1.6" fill="#fff" stroke="#222" stroke-width="0.7"/>
<text x="85.5" y="766.2" font-size="7.1" font-weight="bold"  text-anchor="middle" fill="#111" >NFkB−p65</text>
<rect x="162.8" y="765.8" width="54.3" height="10.2" rx="1.6" fill="#fff" stroke="#222" stroke-width="0.7"/>
<text x="189.9" y="773.5" font-size="7.1" font-weight="bold"  text-anchor="middle" fill="#111" >NFkB−p65−Rel</text>
<rect x="31.1" y="774.5" width="45.3" height="10.2" rx="1.6" fill="#fff" stroke="#222" stroke-width="0.7"/>
<text x="53.8" y="782.2" font-size="7.1" font-weight="bold"  text-anchor="middle" fill="#111" >STAT3+IL21</text>
<rect x="92.4" y="775.1" width="25.4" height="10.2" rx="1.6" fill="#fff" stroke="#222" stroke-width="0.7"/>
<text x="105.1" y="782.8" font-size="7.1" font-weight="bold"  text-anchor="middle" fill="#111" >STAT1</text>
<rect x="124.2" y="781.8" width="20.5" height="9.7" rx="1.6" fill="#fff" stroke="#222" stroke-width="0.7"/>
<text x="134.4" y="789.2" font-size="7.1" font-weight="bold"  text-anchor="middle" fill="#111" >IRF1</text>
<rect x="30.5" y="789.1" width="23.7" height="9.7" rx="1.6" fill="#fff" stroke="#222" stroke-width="0.7"/>
<text x="42.4" y="796.6" font-size="7.1" font-weight="bold"  text-anchor="middle" fill="#111" >RUNX</text>
<rect x="83.8" y="800.9" width="25.5" height="10.2" rx="1.6" fill="#fff" stroke="#222" stroke-width="0.7"/>
<text x="96.5" y="808.6" font-size="7.1" font-weight="bold"  text-anchor="middle" fill="#111" >STAT3</text>
<text x="213.4" y="572.4" font-size="14.8" font-weight="bold"  text-anchor="start" fill="#111" >g</text>
<text x="229.0" y="578.4" font-size="10.85" font-weight="bold"  text-anchor="start" fill="#1a1a1a" >NFKB1 genomic occupancy</text>
<text x="222.8" y="597.2" font-size="9.3" fill="#222"><tspan font-style="italic">Chil1</tspan> enhancer locus (chr1:134162390-134163022)</text>
<text x="237.0" y="612.3" font-size="8.4" font-weight="bold"  text-anchor="middle" fill="#222" >IgG</text>
<text x="261.6" y="606.1" font-size="5.7"   text-anchor="start" fill="#333" >[0 - 3.32]</text>
<line x1="276.60" y1="616.10" x2="435.40" y2="616.10" stroke="#4a4ab0" stroke-width="0.8" />
<polygon points="276.6,616.1 276.6,612.8 277.1,612.3 277.6,612.3 278.1,612.8 278.6,613.7 279.1,614.6 279.6,615.3 280.1,615.7 280.6,616.1 281.1,616.1 281.6,616.1 282.1,615.3 282.6,614.3 283.1,613.4 283.6,613.4 284.1,614.3 284.6,615.3 285.1,616.1 285.6,616.1 286.1,615.7 286.6,615.6 287.1,615.4 287.6,615.4 288.1,615.5 288.6,615.5 289.1,615.3 289.6,615.3 290.1,615.6 290.6,615.7 291.1,615.5 291.6,615.5 292.1,615.5 292.6,615.5 293.1,615.7 293.6,615.8 294.1,615.6 294.6,615.2 295.1,614.8 295.6,614.4 296.1,614.1 296.6,614.3 297.1,614.7 297.6,615.3 298.1,615.6 298.6,615.6 299.1,615.7 299.6,615.8 300.1,616.1 300.6,616.1 301.1,616.1 301.6,615.7 302.1,615.4 302.6,615.1 303.1,614.8 303.6,614.6 304.1,614.7 304.6,614.9 305.1,615.2 305.6,615.2 306.1,615.2 306.6,615.0 307.1,615.2 307.6,615.6 308.1,616.1 308.6,616.1 309.1,616.1 309.6,616.1 310.1,616.1 310.6,616.1 311.1,616.1 311.6,616.1 312.1,616.1 312.6,615.8 313.1,615.7 313.6,615.5 314.1,615.3 314.6,615.3 315.1,615.5 315.6,615.4 316.1,615.0 316.6,614.7 317.1,614.9 317.6,615.2 318.1,615.2 318.6,615.1 319.1,615.1 319.6,615.0 320.1,614.2 320.6,614.5 321.1,615.4 321.6,615.8 322.1,615.5 322.6,615.1 323.1,614.7 323.6,614.6 324.1,614.8 324.6,615.2 325.1,615.6 325.6,615.7 326.1,615.4 326.6,615.2 327.1,613.6 327.6,611.9 328.1,612.5 328.6,614.4 329.1,614.9 329.6,614.8 330.1,615.0 330.6,615.4 331.1,615.1 331.6,614.5 332.1,614.0 332.6,614.1 333.1,614.5 333.6,615.1 334.1,615.6 334.6,615.7 335.1,615.6 335.6,615.7 336.1,616.1 336.6,616.1 337.1,616.1 337.6,616.1 338.1,616.1 338.6,615.8 339.1,615.5 339.6,615.4 340.1,614.3 340.6,613.1 341.1,614.0 341.6,614.8 342.1,614.9 342.6,614.9 343.1,614.9 343.6,615.1 344.1,615.4 344.6,615.2 345.1,615.0 345.6,615.1 346.1,615.4 346.6,615.6 347.1,615.8 347.6,616.1 348.1,616.1 348.6,616.1 349.1,616.1 349.6,615.8 350.1,615.4 350.6,615.0 351.1,615.0 351.6,615.4 352.1,614.8 352.6,614.5 353.1,614.6 353.6,615.0 354.1,615.4 354.6,615.1 355.1,615.1 355.6,615.2 356.1,615.4 356.6,615.7 357.1,615.7 357.6,615.8 358.1,616.1 358.6,615.7 359.1,615.4 359.6,615.0 360.1,614.6 360.6,614.5 361.1,614.5 361.6,614.7 362.1,614.3 362.6,614.5 363.1,614.4 363.6,613.5 364.1,612.8 364.6,612.8 365.1,613.4 365.6,614.4 366.1,615.2 366.6,615.2 367.1,615.3 367.6,615.5 368.1,615.8 368.6,615.7 369.1,615.8 369.6,615.8 370.1,615.8 370.6,615.8 371.1,615.8 371.6,615.3 372.1,614.8 372.6,615.3 373.1,616.1 373.6,616.1 374.1,616.1 374.6,616.1 375.1,615.8 375.6,615.7 376.1,615.7 376.6,615.4 377.1,614.9 377.6,614.5 378.1,614.3 378.6,613.7 379.1,613.2 379.6,613.5 380.1,614.2 380.6,615.0 381.1,615.3 381.6,614.7 382.1,614.0 382.6,613.4 383.1,613.1 383.6,613.2 384.1,612.6 384.6,612.0 385.1,611.9 385.6,612.5 386.1,613.4 386.6,614.4 387.1,615.2 387.6,615.2 388.1,615.3 388.6,615.1 389.1,614.4 389.6,613.6 390.1,612.9 390.6,612.6 391.1,612.7 391.6,613.3 392.1,614.1 392.6,614.9 393.1,614.3 393.6,613.9 394.1,613.7 394.6,613.9 395.1,614.4 395.6,614.9 396.1,615.1 396.6,615.5 397.1,615.8 397.6,616.1 398.1,616.1 398.6,616.1 399.1,615.8 399.6,615.6 400.1,615.4 400.6,615.2 401.1,615.2 401.6,615.4 402.1,615.4 402.6,615.4 403.1,615.5 403.6,615.6 404.1,615.6 404.6,615.7 405.1,615.8 405.6,615.8 406.1,615.4 406.6,615.1 407.1,615.0 407.6,615.1 408.1,615.5 408.6,615.8 409.1,616.1 409.6,616.1 410.1,615.8 410.6,615.5 411.1,614.9 411.6,614.2 412.1,613.5 412.6,613.2 413.1,613.4 413.6,614.0 414.1,614.2 414.6,614.4 415.1,614.9 415.6,615.3 416.1,614.7 416.6,614.5 417.1,615.4 417.6,615.7 418.1,615.4 418.6,615.0 419.1,614.6 419.6,614.2 420.1,614.1 420.6,614.2 421.1,614.6 421.6,615.0 422.1,615.4 422.6,615.8 423.1,616.1 423.6,616.1 424.1,615.8 424.6,615.5 425.1,615.2 425.6,614.9 426.1,614.8 426.6,614.9 427.1,615.2 427.6,615.5 428.1,615.8 428.6,616.1 429.1,616.1 429.6,616.1 430.1,616.1 430.6,615.8 431.1,615.5 431.6,615.5 432.1,615.8 432.6,616.1 433.1,615.8 433.6,615.7 434.1,615.6 434.6,615.5 435.1,615.5 435.4,616.1" fill="#2a2fa0"/>
<text x="237.0" y="628.5" font-size="8.4" font-weight="bold"  text-anchor="middle" fill="#222" >IgG</text>
<text x="261.6" y="624.2" font-size="5.7"   text-anchor="start" fill="#333" >[0 - 3.32]</text>
<line x1="276.60" y1="632.30" x2="435.40" y2="632.30" stroke="#4a4ab0" stroke-width="0.8" />
<polygon points="276.6,632.3 276.6,631.2 277.1,630.1 277.6,628.7 278.1,627.3 278.6,626.4 279.1,626.5 279.6,627.5 280.1,628.9 280.6,629.6 281.1,630.6 281.6,631.1 282.1,630.3 282.6,629.9 283.1,630.3 283.6,631.1 284.1,631.6 284.6,631.5 285.1,631.5 285.6,631.5 286.1,631.9 286.6,632.3 287.1,632.3 287.6,632.3 288.1,632.3 288.6,631.7 289.1,631.0 289.6,630.3 290.1,629.9 290.6,630.1 291.1,630.6 291.6,630.3 292.1,630.9 292.6,631.7 293.1,631.5 293.6,630.9 294.1,630.7 294.6,631.1 295.1,631.7 295.6,632.3 296.1,632.3 296.6,632.0 297.1,631.8 297.6,631.8 298.1,631.8 298.6,631.7 299.1,631.0 299.6,630.0 300.1,628.7 300.6,627.8 301.1,627.7 301.6,628.4 302.1,629.6 302.6,630.7 303.1,631.6 303.6,631.6 304.1,631.3 304.6,631.0 305.1,631.0 305.6,631.3 306.1,631.6 306.6,631.9 307.1,632.3 307.6,632.3 308.1,631.5 308.6,631.0 309.1,631.3 309.6,631.5 310.1,631.1 310.6,630.8 311.1,630.7 311.6,630.8 312.1,631.0 312.6,631.4 313.1,630.8 313.6,630.1 314.1,629.4 314.6,629.8 315.1,630.4 315.6,631.1 316.1,631.7 316.6,631.7 317.1,631.9 317.6,632.0 318.1,632.3 318.6,632.0 319.1,632.0 319.6,632.0 320.1,632.0 320.6,631.8 321.1,631.5 321.6,631.3 322.1,631.2 322.6,631.2 323.1,631.5 323.6,631.7 324.1,632.0 324.6,632.0 325.1,631.7 325.6,631.5 326.1,631.3 326.6,631.4 327.1,631.7 327.6,631.6 328.1,630.9 328.6,630.1 329.1,629.6 329.6,629.8 330.1,630.4 330.6,631.2 331.1,631.3 331.6,631.0 332.1,630.3 332.6,629.5 333.1,629.0 333.6,628.9 334.1,629.2 334.6,629.2 335.1,628.5 335.6,628.3 336.1,628.6 336.6,629.4 337.1,630.3 337.6,631.1 338.1,631.7 338.6,631.1 339.1,630.4 339.6,629.8 340.1,629.7 340.6,630.1 341.1,629.7 341.6,629.1 342.1,629.0 342.6,629.3 343.1,630.0 343.6,630.5 344.1,630.9 344.6,630.9 345.1,629.9 345.6,629.9 346.1,631.0 346.6,630.9 347.1,630.3 347.6,630.1 348.1,630.4 348.6,631.0 349.1,631.6 349.6,631.6 350.1,631.4 350.6,631.4 351.1,631.4 351.6,630.9 352.1,630.4 352.6,630.1 353.1,630.2 353.6,630.5 354.1,631.0 354.6,631.4 355.1,631.7 355.6,631.3 356.1,631.0 356.6,631.2 357.1,631.3 357.6,631.0 358.1,631.0 358.6,631.2 359.1,631.4 359.6,630.9 360.1,629.8 360.6,629.4 361.1,629.6 361.6,629.4 362.1,629.5 362.6,630.0 363.1,630.3 363.6,629.8 364.1,630.0 364.6,630.7 365.1,631.5 365.6,632.0 366.1,632.3 366.6,632.3 367.1,632.0 367.6,631.9 368.1,631.9 368.6,632.0 369.1,632.3 369.6,632.3 370.1,632.3 370.6,632.3 371.1,632.3 371.6,632.3 372.1,631.9 372.6,631.4 373.1,630.8 373.6,630.2 374.1,629.8 374.6,629.8 375.1,630.2 375.6,630.5 376.1,630.2 376.6,630.3 377.1,630.6 377.6,631.1 378.1,631.5 378.6,631.5 379.1,631.5 379.6,631.7 380.1,631.8 380.6,631.8 381.1,631.6 381.6,631.3 382.1,631.2 382.6,631.2 383.1,631.4 383.6,631.7 384.1,631.9 384.6,631.7 385.1,631.6 385.6,631.7 386.1,631.9 386.6,631.6 387.1,631.3 387.6,631.1 388.1,631.2 388.6,631.5 389.1,631.0 389.6,631.1 390.1,631.6 390.6,631.3 391.1,631.1 391.6,631.1 392.1,631.4 392.6,631.4 393.1,631.2 393.6,631.2 394.1,631.3 394.6,631.4 395.1,631.1 395.6,631.0 396.1,630.9 396.6,630.3 397.1,629.8 397.6,629.6 398.1,630.3 398.6,630.6 399.1,630.7 399.6,631.0 400.1,631.4 400.6,631.6 401.1,631.3 401.6,631.2 402.1,631.4 402.6,631.7 403.1,632.0 403.6,632.3 404.1,632.3 404.6,631.7 405.1,630.5 405.6,628.2 406.1,626.0 406.6,625.8 407.1,627.6 407.6,630.0 408.1,629.8 408.6,629.0 409.1,629.0 409.6,629.7 410.1,630.6 410.6,630.3 411.1,629.9 411.6,629.8 412.1,630.0 412.6,630.0 413.1,628.3 413.6,627.6 414.1,628.8 414.6,630.0 415.1,629.2 415.6,629.0 416.1,629.4 416.6,629.6 417.1,630.0 417.6,630.2 418.1,630.6 418.6,631.1 419.1,631.5 419.6,631.9 420.1,632.3 420.6,632.3 421.1,632.3 421.6,632.0 422.1,632.3 422.6,632.3 423.1,632.0 423.6,632.0 424.1,632.3 424.6,632.3 425.1,632.0 425.6,631.9 426.1,631.9 426.6,631.8 427.1,631.7 427.6,631.7 428.1,631.8 428.6,631.5 429.1,631.4 429.6,631.0 430.1,630.3 430.6,629.6 431.1,629.2 431.6,629.3 432.1,629.9 432.6,630.6 433.1,631.3 433.6,631.6 434.1,630.5 434.6,629.3 435.1,628.9 435.4,632.3" fill="#2a2fa0"/>
<text x="237.0" y="644.4" font-size="8.4" font-weight="bold"  text-anchor="middle" fill="#222" >control</text>
<text x="261.6" y="640.1" font-size="5.7"   text-anchor="start" fill="#333" >[0 - 3.32]</text>
<line x1="276.60" y1="648.20" x2="435.40" y2="648.20" stroke="#66cc66" stroke-width="0.8" />
<polygon points="276.6,648.2 276.6,648.2 277.1,648.2 277.6,647.9 278.1,647.4 278.6,647.2 279.1,647.8 279.6,648.2 280.1,648.2 280.6,648.2 281.1,648.2 281.6,648.2 282.1,648.2 282.6,648.2 283.1,648.2 283.6,648.2 284.1,648.2 284.6,647.8 285.1,647.6 285.6,647.4 286.1,647.4 286.6,647.6 287.1,647.7 287.6,647.7 288.1,647.8 288.6,647.9 289.1,648.2 289.6,648.2 290.1,648.2 290.6,647.9 291.1,647.7 291.6,647.5 292.1,647.6 292.6,647.7 293.1,647.9 293.6,647.8 294.1,647.4 294.6,646.9 295.1,647.0 295.6,647.5 296.1,647.9 296.6,647.6 297.1,646.5 297.6,645.4 298.1,646.0 298.6,646.6 299.1,646.9 299.6,647.3 300.1,647.7 300.6,647.9 301.1,647.7 301.6,647.6 302.1,647.7 302.6,647.6 303.1,647.3 303.6,647.0 304.1,647.3 304.6,647.6 305.1,647.1 305.6,647.2 306.1,647.7 306.6,647.5 307.1,647.3 307.6,647.3 308.1,647.2 308.6,647.2 309.1,647.1 309.6,647.1 310.1,647.5 310.6,647.8 311.1,647.5 311.6,647.4 312.1,647.7 312.6,648.2 313.1,648.2 313.6,648.2 314.1,648.2 314.6,648.2 315.1,647.8 315.6,646.7 316.1,645.5 316.6,645.5 317.1,646.7 317.6,647.1 318.1,647.3 318.6,647.3 319.1,647.3 319.6,647.6 320.1,647.7 320.6,647.1 321.1,646.3 321.6,646.5 322.1,646.8 322.6,646.9 323.1,647.2 323.6,647.3 324.1,647.3 324.6,647.5 325.1,647.3 325.6,647.2 326.1,647.1 326.6,647.0 327.1,646.9 327.6,647.0 328.1,647.1 328.6,647.2 329.1,647.1 329.6,646.9 330.1,647.0 330.6,647.1 331.1,647.1 331.6,646.5 332.1,645.8 332.6,645.8 333.1,646.5 333.6,646.8 334.1,647.1 334.6,647.4 335.1,647.7 335.6,647.6 336.1,647.6 336.6,647.7 337.1,647.7 337.6,647.7 338.1,647.6 338.6,647.5 339.1,647.2 339.6,646.7 340.1,646.7 340.6,647.2 341.1,647.7 341.6,647.9 342.1,648.2 342.6,647.9 343.1,647.8 343.6,647.8 344.1,646.9 344.6,646.1 345.1,646.6 345.6,647.3 346.1,647.2 346.6,647.3 347.1,647.6 347.6,647.8 348.1,647.7 348.6,647.3 349.1,647.0 349.6,647.1 350.1,647.6 350.6,647.2 351.1,645.7 351.6,644.8 352.1,645.6 352.6,647.0 353.1,647.7 353.6,647.6 354.1,647.7 354.6,647.8 355.1,647.7 355.6,647.5 356.1,647.2 356.6,647.1 357.1,647.1 357.6,647.3 358.1,647.6 358.6,647.8 359.1,647.9 359.6,648.2 360.1,647.9 360.6,647.6 361.1,647.2 361.6,646.8 362.1,646.5 362.6,646.4 363.1,646.6 363.6,647.0 364.1,647.4 364.6,647.8 365.1,647.9 365.6,647.8 366.1,647.6 366.6,647.5 367.1,647.4 367.6,647.5 368.1,647.7 368.6,647.7 369.1,647.4 369.6,647.1 370.1,647.0 370.6,646.8 371.1,646.6 371.6,647.0 372.1,647.6 372.6,648.2 373.1,648.2 373.6,647.9 374.1,647.7 374.6,647.6 375.1,647.7 375.6,647.8 376.1,648.2 376.6,648.2 377.1,648.2 377.6,647.9 378.1,647.3 378.6,647.0 379.1,647.4 379.6,647.4 380.1,647.4 380.6,647.6 381.1,647.8 381.6,647.7 382.1,647.8 382.6,647.7 383.1,647.8 383.6,648.2 384.1,648.2 384.6,648.2 385.1,648.2 385.6,647.9 386.1,648.2 386.6,648.2 387.1,648.2 387.6,648.2 388.1,648.2 388.6,647.9 389.1,647.7 389.6,647.7 390.1,647.8 390.6,648.2 391.1,648.2 391.6,648.2 392.1,648.2 392.6,648.2 393.1,648.2 393.6,647.9 394.1,647.7 394.6,647.6 395.1,647.6 395.6,647.2 396.1,646.9 396.6,646.9 397.1,647.0 397.6,647.3 398.1,647.7 398.6,647.9 399.1,648.2 399.6,647.4 400.1,646.4 400.6,644.9 401.1,643.9 401.6,644.1 402.1,645.3 402.6,646.1 403.1,646.3 403.6,647.4 404.1,647.7 404.6,647.8 405.1,647.9 405.6,648.2 406.1,648.2 406.6,648.2 407.1,648.2 407.6,647.9 408.1,647.7 408.6,647.7 409.1,647.7 409.6,647.5 410.1,647.4 410.6,647.4 411.1,647.3 411.6,647.2 412.1,647.2 412.6,647.6 413.1,648.2 413.6,648.2 414.1,647.6 414.6,646.9 415.1,646.7 415.6,647.3 416.1,647.2 416.6,646.8 417.1,645.9 417.6,645.2 418.1,644.9 418.6,645.2 419.1,646.0 419.6,646.5 420.1,645.8 420.6,646.0 421.1,646.9 421.6,647.7 422.1,648.2 422.6,648.2 423.1,647.6 423.6,646.3 424.1,645.7 424.6,646.9 425.1,647.1 425.6,647.0 426.1,647.2 426.6,647.5 427.1,647.8 427.6,648.2 428.1,647.9 428.6,647.9 429.1,647.9 429.6,648.2 430.1,648.2 430.6,648.2 431.1,647.7 431.6,647.3 432.1,646.8 432.6,646.4 433.1,646.2 433.6,646.4 434.1,646.8 434.6,647.4 435.1,647.5 435.4,648.2" fill="#4fbf4f"/>
<text x="237.0" y="660.0" font-size="8.4" font-weight="bold"  text-anchor="middle" fill="#222" >control</text>
<text x="261.6" y="655.7" font-size="5.7"   text-anchor="start" fill="#333" >[0 - 3.32]</text>
<line x1="276.60" y1="663.80" x2="435.40" y2="663.80" stroke="#66cc66" stroke-width="0.8" />
<polygon points="276.6,663.8 276.6,663.0 277.1,663.1 277.6,663.4 278.1,663.8 278.6,663.5 279.1,663.2 279.6,663.0 280.1,662.9 280.6,663.0 281.1,663.3 281.6,663.8 282.1,663.5 282.6,663.3 283.1,662.9 283.6,662.4 284.1,661.9 284.6,661.5 285.1,661.4 285.6,661.7 286.1,662.1 286.6,662.7 287.1,662.7 287.6,661.6 288.1,661.9 288.6,662.3 289.1,662.0 289.6,661.8 290.1,661.5 290.6,660.6 291.1,660.9 291.6,662.0 292.1,662.7 292.6,662.8 293.1,662.8 293.6,663.1 294.1,663.4 294.6,663.5 295.1,663.5 295.6,663.5 296.1,663.4 296.6,663.3 297.1,663.4 297.6,663.1 298.1,662.6 298.6,662.7 299.1,663.3 299.6,663.3 300.1,663.3 300.6,663.4 301.1,663.5 301.6,663.8 302.1,663.8 302.6,663.5 303.1,663.1 303.6,662.4 304.1,661.9 304.6,662.1 305.1,662.8 305.6,663.4 306.1,663.3 306.6,663.1 307.1,663.1 307.6,663.2 308.1,663.3 308.6,663.5 309.1,663.8 309.6,663.8 310.1,663.8 310.6,663.8 311.1,663.5 311.6,663.2 312.1,662.8 312.6,662.4 313.1,662.1 313.6,662.1 314.1,662.5 314.6,662.9 315.1,663.0 315.6,663.3 316.1,662.9 316.6,662.4 317.1,662.8 317.6,663.0 318.1,662.4 318.6,661.7 319.1,661.0 319.6,660.5 320.1,660.6 320.6,661.0 321.1,661.8 321.6,662.5 322.1,663.1 322.6,663.5 323.1,663.8 323.6,663.5 324.1,663.3 324.6,663.0 325.1,663.1 325.6,663.1 326.1,663.1 326.6,663.2 327.1,663.2 327.6,663.0 328.1,663.1 328.6,662.6 329.1,661.9 329.6,661.8 330.1,662.5 330.6,662.7 331.1,662.6 331.6,662.6 332.1,662.8 332.6,662.1 333.1,661.5 333.6,661.4 334.1,661.8 334.6,662.4 335.1,663.1 335.6,662.9 336.1,662.9 336.6,663.2 337.1,663.2 337.6,662.9 338.1,662.8 338.6,663.2 339.1,663.2 339.6,663.1 340.1,663.2 340.6,663.3 341.1,663.4 341.6,663.2 342.1,663.1 342.6,663.2 343.1,663.1 343.6,663.3 344.1,663.2 344.6,663.1 345.1,663.0 345.6,662.6 346.1,662.3 346.6,662.1 347.1,661.5 347.6,661.3 348.1,661.9 348.6,662.7 349.1,663.2 349.6,663.1 350.1,663.2 350.6,662.8 351.1,662.5 351.6,662.5 352.1,662.7 352.6,663.0 353.1,663.2 353.6,663.3 354.1,662.9 354.6,662.7 355.1,663.1 355.6,663.5 356.1,663.4 356.6,663.5 357.1,663.5 357.6,663.4 358.1,663.0 358.6,662.6 359.1,662.2 359.6,661.9 360.1,661.8 360.6,662.1 361.1,662.5 361.6,662.9 362.1,663.3 362.6,663.5 363.1,663.3 363.6,662.9 364.1,662.5 364.6,662.2 365.1,662.2 365.6,662.5 366.1,662.5 366.6,662.3 367.1,662.3 367.6,662.6 368.1,663.1 368.6,663.1 369.1,662.7 369.6,662.4 370.1,662.2 370.6,662.3 371.1,662.5 371.6,662.9 372.1,663.0 372.6,663.0 373.1,663.2 373.6,663.4 374.1,663.4 374.6,663.1 375.1,663.3 375.6,663.4 376.1,663.4 376.6,663.5 377.1,663.2 377.6,662.6 378.1,662.1 378.6,662.2 379.1,662.8 379.6,663.0 380.1,662.9 380.6,663.0 381.1,663.2 381.6,663.4 382.1,663.5 382.6,663.8 383.1,663.8 383.6,663.8 384.1,663.3 384.6,662.9 385.1,662.5 385.6,662.2 386.1,662.1 386.6,662.4 387.1,662.0 387.6,662.4 388.1,663.0 388.6,662.6 389.1,662.2 389.6,662.0 390.1,662.1 390.6,662.5 391.1,663.0 391.6,662.9 392.1,662.5 392.6,662.3 393.1,662.4 393.6,662.5 394.1,662.7 394.6,662.7 395.1,662.6 395.6,663.0 396.1,663.3 396.6,663.2 397.1,663.2 397.6,663.3 398.1,663.5 398.6,663.8 399.1,663.8 399.6,663.8 400.1,663.8 400.6,663.8 401.1,663.8 401.6,663.4 402.1,663.3 402.6,663.8 403.1,663.3 403.6,662.9 404.1,662.6 404.6,662.5 405.1,662.8 405.6,663.1 406.1,663.2 406.6,662.7 407.1,662.3 407.6,662.5 408.1,663.0 408.6,663.5 409.1,663.2 409.6,662.4 410.1,661.4 410.6,661.1 411.1,661.7 411.6,661.9 412.1,662.1 412.6,662.4 413.1,662.9 413.6,663.3 414.1,663.5 414.6,663.2 415.1,662.8 415.6,662.7 416.1,662.8 416.6,663.2 417.1,663.5 417.6,663.8 418.1,663.8 418.6,663.4 419.1,662.9 419.6,662.1 420.1,661.2 420.6,660.6 421.1,660.6 421.6,660.7 422.1,662.0 422.6,663.0 423.1,663.4 423.6,663.3 424.1,662.7 424.6,662.6 425.1,663.1 425.6,663.2 426.1,662.9 426.6,662.6 427.1,662.4 427.6,662.4 428.1,662.5 428.6,662.8 429.1,663.1 429.6,663.4 430.1,663.5 430.6,663.3 431.1,663.0 431.6,662.7 432.1,662.6 432.6,662.6 433.1,662.7 433.6,662.9 434.1,663.2 434.6,663.4 435.1,663.8 435.4,663.8" fill="#4fbf4f"/>
<text x="237.0" y="676.9" font-size="8.4" font-weight="bold"  text-anchor="middle" fill="#222" >Il1a + Osm</text>
<text x="261.6" y="672.6" font-size="5.7"   text-anchor="start" fill="#333" >[0 - 3.32]</text>
<line x1="276.60" y1="680.70" x2="435.40" y2="680.70" stroke="#f0a848" stroke-width="0.8" />
<polygon points="276.6,680.7 276.6,679.9 277.1,679.7 277.6,679.6 278.1,679.8 278.6,680.1 279.1,680.2 279.6,680.1 280.1,680.0 280.6,680.0 281.1,679.4 281.6,678.8 282.1,678.3 282.6,678.3 283.1,678.6 283.6,679.2 284.1,679.8 284.6,678.8 285.1,678.6 285.6,679.4 286.1,680.2 286.6,680.3 287.1,679.8 287.6,679.4 288.1,679.5 288.6,680.0 289.1,680.4 289.6,680.7 290.1,680.7 290.6,680.7 291.1,680.7 291.6,680.4 292.1,680.4 292.6,680.1 293.1,679.3 293.6,678.7 294.1,678.8 294.6,679.5 295.1,680.0 295.6,680.0 296.1,680.1 296.6,680.3 297.1,680.4 297.6,680.7 298.1,680.7 298.6,680.7 299.1,680.7 299.6,680.7 300.1,680.7 300.6,680.7 301.1,680.4 301.6,680.2 302.1,680.2 302.6,680.4 303.1,680.7 303.6,680.4 304.1,680.1 304.6,679.7 305.1,679.4 305.6,679.2 306.1,679.2 306.6,679.5 307.1,679.9 307.6,680.2 308.1,680.4 308.6,680.4 309.1,680.2 309.6,680.0 310.1,679.9 310.6,679.9 311.1,680.0 311.6,679.7 312.1,679.5 312.6,679.3 313.1,679.3 313.6,679.4 314.1,679.4 314.6,679.7 315.1,679.9 315.6,679.9 316.1,679.8 316.6,679.8 317.1,679.7 317.6,679.6 318.1,679.6 318.6,679.7 319.1,679.5 319.6,679.8 320.1,679.7 320.6,679.6 321.1,679.6 321.6,679.4 322.1,679.6 322.6,679.5 323.1,679.3 323.6,679.5 324.1,679.7 324.6,679.6 325.1,679.0 325.6,678.9 326.1,679.2 326.6,679.4 327.1,679.2 327.6,679.3 328.1,679.5 328.6,679.5 329.1,679.5 329.6,679.4 330.1,679.6 330.6,679.9 331.1,679.4 331.6,679.3 332.1,679.3 332.6,679.2 333.1,679.4 333.6,679.7 334.1,679.8 334.6,679.7 335.1,679.8 335.6,679.9 336.1,680.1 336.6,679.6 337.1,679.4 337.6,679.7 338.1,679.3 338.6,679.1 339.1,679.1 339.6,679.3 340.1,679.5 340.6,679.4 341.1,679.7 341.6,679.7 342.1,679.5 342.6,679.4 343.1,679.5 343.6,678.9 344.1,678.1 344.6,677.9 345.1,678.5 345.6,679.4 346.1,679.9 346.6,679.7 347.1,679.6 347.6,679.3 348.1,678.1 348.6,677.6 349.1,676.8 349.6,676.0 350.1,676.2 350.6,676.5 351.1,674.9 351.6,674.4 352.1,674.6 352.6,674.9 353.1,676.2 353.6,676.6 354.1,673.4 354.6,674.4 355.1,674.0 355.6,672.4 356.1,673.8 356.6,673.7 357.1,672.2 357.6,671.4 358.1,672.5 358.6,674.9 359.1,674.9 359.6,676.9 360.1,676.5 360.6,676.8 361.1,676.1 361.6,675.7 362.1,675.0 362.6,675.7 363.1,677.3 363.6,678.9 364.1,679.8 364.6,679.3 365.1,678.9 365.6,678.7 366.1,678.9 366.6,679.3 367.1,679.9 367.6,680.3 368.1,680.2 368.6,680.0 369.1,679.7 369.6,679.6 370.1,679.6 370.6,679.7 371.1,679.5 371.6,679.4 372.1,679.5 372.6,679.8 373.1,680.1 373.6,680.4 374.1,680.7 374.6,680.7 375.1,680.1 375.6,679.4 376.1,679.1 376.6,679.7 377.1,680.2 377.6,680.1 378.1,680.2 378.6,680.3 379.1,680.4 379.6,680.4 380.1,680.7 380.6,680.7 381.1,680.4 381.6,679.7 382.1,678.9 382.6,678.7 383.1,679.4 383.6,680.2 384.1,680.4 384.6,680.2 385.1,680.3 385.6,680.7 386.1,680.4 386.6,680.2 387.1,679.9 387.6,680.1 388.1,680.1 388.6,679.7 389.1,679.3 389.6,679.2 390.1,679.4 390.6,679.8 391.1,680.2 391.6,680.3 392.1,680.3 392.6,680.0 393.1,680.0 393.6,679.9 394.1,679.6 394.6,679.4 395.1,679.3 395.6,679.4 396.1,679.6 396.6,679.5 397.1,679.9 397.6,680.1 398.1,680.3 398.6,680.4 399.1,680.7 399.6,680.7 400.1,680.3 400.6,680.2 401.1,680.4 401.6,680.4 402.1,680.2 402.6,680.0 403.1,680.0 403.6,680.0 404.1,680.0 404.6,680.2 405.1,680.7 405.6,680.4 406.1,680.4 406.6,680.0 407.1,679.7 407.6,679.4 408.1,678.9 408.6,678.5 409.1,678.5 409.6,678.8 410.1,679.2 410.6,679.8 411.1,680.2 411.6,680.4 412.1,680.7 412.6,680.4 413.1,680.3 413.6,680.2 414.1,680.3 414.6,680.7 415.1,680.7 415.6,680.7 416.1,680.7 416.6,680.7 417.1,680.7 417.6,680.7 418.1,680.7 418.6,680.7 419.1,680.4 419.6,680.1 420.1,679.6 420.6,679.3 421.1,679.3 421.6,679.7 422.1,679.9 422.6,680.1 423.1,680.2 423.6,679.7 424.1,679.2 424.6,679.0 425.1,679.2 425.6,679.6 426.1,680.1 426.6,680.2 427.1,680.0 427.6,680.1 428.1,679.7 428.6,679.1 429.1,679.0 429.6,678.3 430.1,678.1 430.6,678.4 431.1,677.9 431.6,678.7 432.1,679.9 432.6,680.0 433.1,679.8 433.6,680.0 434.1,680.3 434.6,680.7 435.1,680.7 435.4,680.7" fill="#ee9b2c"/>
<text x="237.0" y="693.0" font-size="8.4" font-weight="bold"  text-anchor="middle" fill="#222" >Il1a + Osm</text>
<text x="261.6" y="688.7" font-size="5.7"   text-anchor="start" fill="#333" >[0 - 3.32]</text>
<line x1="276.60" y1="696.80" x2="435.40" y2="696.80" stroke="#f0a848" stroke-width="0.8" />
<polygon points="276.6,696.8 276.6,695.7 277.1,695.2 277.6,695.3 278.1,695.7 278.6,696.3 279.1,696.2 279.6,695.8 280.1,695.8 280.6,696.1 281.1,696.3 281.6,696.4 282.1,696.4 282.6,696.8 283.1,696.4 283.6,696.0 284.1,695.8 284.6,695.9 285.1,695.3 285.6,695.0 286.1,695.3 286.6,695.8 287.1,696.4 287.6,696.5 288.1,696.2 288.6,696.1 289.1,696.2 289.6,696.4 290.1,696.5 290.6,696.1 291.1,695.8 291.6,695.7 292.1,695.8 292.6,696.1 293.1,696.4 293.6,696.8 294.1,696.8 294.6,696.8 295.1,696.8 295.6,696.8 296.1,696.8 296.6,696.5 297.1,696.5 297.6,696.1 298.1,695.6 298.6,695.7 299.1,696.3 299.6,696.4 300.1,696.4 300.6,696.5 301.1,696.8 301.6,696.8 302.1,695.9 302.6,695.0 303.1,694.7 303.6,695.5 304.1,695.7 304.6,696.1 305.1,696.8 305.6,696.8 306.1,696.5 306.6,696.3 307.1,696.2 307.6,696.2 308.1,696.1 308.6,696.2 309.1,696.3 309.6,696.4 310.1,696.4 310.6,696.2 311.1,696.0 311.6,695.8 312.1,695.8 312.6,696.0 313.1,696.2 313.6,696.0 314.1,695.8 314.6,696.1 315.1,696.5 315.6,696.4 316.1,696.1 316.6,696.0 317.1,695.8 317.6,696.1 318.1,696.2 318.6,696.4 319.1,695.9 319.6,695.5 320.1,695.7 320.6,696.1 321.1,695.8 321.6,695.6 322.1,695.6 322.6,695.7 323.1,695.6 323.6,695.6 324.1,695.4 324.6,695.4 325.1,695.6 325.6,695.4 326.1,695.6 326.6,695.3 327.1,694.8 327.6,694.8 328.1,695.3 328.6,695.5 329.1,695.3 329.6,695.3 330.1,695.4 330.6,695.5 331.1,695.4 331.6,695.2 332.1,695.0 332.6,695.0 333.1,695.3 333.6,695.1 334.1,695.6 334.6,695.4 335.1,695.2 335.6,695.3 336.1,695.7 336.6,695.6 337.1,695.8 337.6,695.8 338.1,695.2 338.6,694.4 339.1,693.7 339.6,693.7 340.1,694.2 340.6,695.0 341.1,694.8 341.6,694.4 342.1,694.7 342.6,695.4 343.1,695.9 343.6,695.9 344.1,696.1 344.6,696.2 345.1,696.4 345.6,696.8 346.1,696.1 346.6,695.2 347.1,694.0 347.6,693.2 348.1,693.3 348.6,692.0 349.1,692.4 349.6,693.3 350.1,691.8 350.6,691.6 351.1,690.7 351.6,691.9 352.1,692.9 352.6,692.9 353.1,693.2 353.6,693.1 354.1,691.5 354.6,689.1 355.1,690.2 355.6,687.2 356.1,685.6 356.6,687.3 357.1,686.9 357.6,686.0 358.1,687.7 358.6,690.9 359.1,690.9 359.6,692.3 360.1,694.2 360.6,692.9 361.1,691.9 361.6,692.1 362.1,692.7 362.6,693.3 363.1,693.0 363.6,692.4 364.1,692.5 364.6,693.2 365.1,694.3 365.6,695.4 366.1,695.8 366.6,695.3 367.1,695.1 367.6,695.2 368.1,695.6 368.6,696.1 369.1,696.4 369.6,696.4 370.1,696.4 370.6,696.5 371.1,696.5 371.6,696.5 372.1,696.5 372.6,696.8 373.1,696.8 373.6,696.2 374.1,695.6 374.6,695.9 375.1,696.5 375.6,696.8 376.1,696.4 376.6,696.2 377.1,696.1 377.6,696.0 378.1,696.0 378.6,696.2 379.1,696.3 379.6,696.3 380.1,696.0 380.6,695.8 381.1,695.8 381.6,695.8 382.1,695.9 382.6,696.2 383.1,696.4 383.6,696.4 384.1,696.4 384.6,696.4 385.1,696.5 385.6,696.8 386.1,696.5 386.6,696.5 387.1,696.1 387.6,695.9 388.1,696.0 388.6,695.1 389.1,694.4 389.6,694.5 390.1,695.2 390.6,694.8 391.1,694.9 391.6,695.3 392.1,695.8 392.6,695.7 393.1,695.8 393.6,695.8 394.1,695.6 394.6,695.6 395.1,695.9 395.6,696.2 396.1,696.2 396.6,696.5 397.1,696.8 397.6,696.3 398.1,696.1 398.6,695.9 399.1,696.0 399.6,696.2 400.1,696.3 400.6,696.5 401.1,696.8 401.6,696.5 402.1,696.1 402.6,695.6 403.1,695.4 403.6,695.5 404.1,695.0 404.6,694.4 405.1,694.3 405.6,694.8 406.1,695.5 406.6,696.2 407.1,696.5 407.6,696.4 408.1,696.3 408.6,696.3 409.1,696.3 409.6,695.7 410.1,695.2 410.6,694.9 411.1,695.1 411.6,695.6 412.1,696.2 412.6,695.8 413.1,695.6 413.6,695.5 414.1,695.7 414.6,696.0 415.1,696.3 415.6,696.5 416.1,696.4 416.6,696.3 417.1,696.3 417.6,696.3 418.1,695.9 418.6,695.1 419.1,694.4 419.6,694.6 420.1,695.5 420.6,696.2 421.1,696.8 421.6,696.8 422.1,696.8 422.6,696.0 423.1,695.7 423.6,695.6 424.1,695.3 424.6,695.4 425.1,695.7 425.6,696.1 426.1,696.3 426.6,696.1 427.1,695.9 427.6,695.8 428.1,695.8 428.6,695.9 429.1,696.1 429.6,696.2 430.1,696.3 430.6,696.2 431.1,696.1 431.6,696.2 432.1,696.5 432.6,696.3 433.1,696.0 433.6,695.6 434.1,695.5 434.6,695.8 435.1,696.2 435.4,696.8" fill="#ee9b2c"/>
<line x1="391.80" y1="708.10" x2="407.00" y2="708.10" stroke="#222" stroke-width="0.9" />
<polygon points="409,708.1 404.5,706.1 404.5,710.1" fill="#222"/>
<text x="412.3" y="711.5" font-size="9.6"  font-style="italic" text-anchor="start" fill="#222" >Chil1</text>
<text x="436.4" y="558.0" font-size="14.8" font-weight="bold"  text-anchor="start" fill="#111" >h</text>
<text x="454.3" y="563.1" font-size="10.8" font-weight="bold"  text-anchor="start" fill="#1a1a1a" >Chromatin accessibility</text>
<text x="466.8" y="580.6" font-size="9.3" fill="#222"><tspan font-style="italic">Chil1</tspan> promoter locus (chr1:134182043-134182587)</text>
<rect x="504.40" y="594.50" width="178.60" height="96.50" fill="#f9f9fa" />
<text x="475.8" y="605.4" font-size="8.4" font-weight="bold"  text-anchor="middle" fill="#222" >control</text>
<text x="503.5" y="599.8" font-size="5.7"   text-anchor="start" fill="#333" >[0 - 6.29]</text>
<line x1="504.40" y1="607.20" x2="683.00" y2="607.20" stroke="#3a4ab0" stroke-width="0.8" />
<polygon points="504.4,607.2 504.4,607.2 504.9,607.2 505.4,607.2 505.9,607.2 506.4,607.2 506.9,607.2 507.4,607.2 507.9,607.2 508.4,607.2 508.9,607.2 509.4,607.2 509.9,607.2 510.4,607.2 510.9,607.2 511.4,607.2 511.9,607.2 512.4,607.2 512.9,607.2 513.4,607.2 513.9,607.2 514.4,607.2 514.9,607.2 515.4,607.2 515.9,607.2 516.4,607.2 516.9,607.2 517.4,607.2 517.9,607.2 518.4,607.2 518.9,607.2 519.4,607.2 519.9,607.2 520.4,607.2 520.9,607.2 521.4,607.2 521.9,606.8 522.4,606.8 522.9,606.6 523.4,606.8 523.9,606.8 524.4,606.5 524.9,606.6 525.4,606.7 525.9,606.5 526.4,606.5 526.9,606.5 527.4,606.7 527.9,606.8 528.4,606.8 528.9,606.8 529.4,606.9 529.9,607.2 530.4,607.2 530.9,607.2 531.4,607.2 531.9,607.2 532.4,607.2 532.9,607.2 533.4,606.9 533.9,606.7 534.4,606.5 534.9,606.4 535.4,606.2 535.9,606.4 536.4,606.2 536.9,606.2 537.4,605.9 537.9,606.0 538.4,606.3 538.9,606.2 539.4,606.4 539.9,606.6 540.4,606.5 540.9,606.7 541.4,606.9 541.9,607.2 542.4,607.2 542.9,607.2 543.4,607.2 543.9,607.2 544.4,607.2 544.9,607.2 545.4,607.2 545.9,607.2 546.4,607.2 546.9,607.2 547.4,607.2 547.9,607.2 548.4,607.2 548.9,607.2 549.4,607.2 549.9,607.2 550.4,607.2 550.9,607.2 551.4,607.2 551.9,607.2 552.4,607.2 552.9,607.2 553.4,607.2 553.9,606.8 554.4,606.6 554.9,606.6 555.4,606.4 555.9,606.2 556.4,606.1 556.9,606.2 557.4,605.6 557.9,605.2 558.4,605.4 558.9,605.7 559.4,606.0 559.9,605.9 560.4,606.1 560.9,606.4 561.4,606.7 561.9,607.2 562.4,607.2 562.9,607.2 563.4,607.2 563.9,607.2 564.4,607.2 564.9,607.2 565.4,607.2 565.9,607.2 566.4,607.2 566.9,607.2 567.4,607.2 567.9,607.2 568.4,607.2 568.9,607.2 569.4,607.2 569.9,607.2 570.4,607.2 570.9,607.2 571.4,607.2 571.9,607.2 572.4,607.2 572.9,607.2 573.4,607.2 573.9,607.2 574.4,607.2 574.9,607.2 575.4,607.2 575.9,607.2 576.4,607.2 576.9,607.2 577.4,607.2 577.9,607.2 578.4,607.2 578.9,607.2 579.4,607.2 579.9,607.2 580.4,607.2 580.9,607.2 581.4,607.2 581.9,607.2 582.4,607.2 582.9,607.2 583.4,607.2 583.9,607.2 584.4,607.2 584.9,607.2 585.4,607.2 585.9,607.2 586.4,607.2 586.9,607.2 587.4,607.2 587.9,607.2 588.4,607.2 588.9,607.2 589.4,607.2 589.9,607.2 590.4,607.2 590.9,607.2 591.4,607.2 591.9,607.2 592.4,607.2 592.9,607.2 593.4,607.2 593.9,606.9 594.4,606.8 594.9,606.8 595.4,606.8 595.9,606.9 596.4,607.2 596.9,607.2 597.4,607.2 597.9,607.2 598.4,607.2 598.9,607.2 599.4,607.2 599.9,607.2 600.4,607.2 600.9,607.2 601.4,607.2 601.9,607.2 602.4,607.2 602.9,607.2 603.4,607.2 603.9,607.2 604.4,607.2 604.9,607.2 605.4,607.2 605.9,607.2 606.4,607.2 606.9,607.2 607.4,607.2 607.9,607.2 608.4,607.2 608.9,607.2 609.4,607.2 609.9,607.2 610.4,607.2 610.9,607.2 611.4,607.2 611.9,607.2 612.4,607.2 612.9,607.2 613.4,607.2 613.9,607.2 614.4,607.2 614.9,607.2 615.4,607.2 615.9,607.2 616.4,607.2 616.9,607.2 617.4,607.2 617.9,607.2 618.4,607.2 618.9,607.2 619.4,607.2 619.9,607.2 620.4,607.2 620.9,607.2 621.4,607.2 621.9,607.2 622.4,607.2 622.9,607.2 623.4,607.2 623.9,607.2 624.4,607.2 624.9,607.2 625.4,607.2 625.9,607.2 626.4,607.2 626.9,607.2 627.4,607.2 627.9,607.2 628.4,607.2 628.9,607.2 629.4,607.2 629.9,607.2 630.4,606.9 630.9,607.2 631.4,607.2 631.9,607.2 632.4,607.2 632.9,607.2 633.4,607.2 633.9,607.2 634.4,607.2 634.9,607.2 635.4,607.2 635.9,606.7 636.4,606.5 636.9,606.4 637.4,606.1 637.9,606.2 638.4,606.2 638.9,606.2 639.4,606.5 639.9,606.2 640.4,606.1 640.9,606.3 641.4,606.5 641.9,606.8 642.4,607.2 642.9,607.2 643.4,607.2 643.9,607.2 644.4,607.2 644.9,607.2 645.4,607.2 645.9,607.2 646.4,607.2 646.9,607.2 647.4,607.2 647.9,607.2 648.4,607.2 648.9,607.2 649.4,607.2 649.9,607.2 650.4,607.2 650.9,607.2 651.4,607.2 651.9,607.2 652.4,607.2 652.9,607.2 653.4,607.2 653.9,607.2 654.4,607.2 654.9,606.7 655.4,606.5 655.9,606.4 656.4,606.4 656.9,606.2 657.4,606.2 657.9,605.7 658.4,605.9 658.9,606.2 659.4,606.3 659.9,606.7 660.4,607.2 660.9,607.2 661.4,607.2 661.9,607.2 662.4,607.2 662.9,607.2 663.4,607.2 663.9,607.2 664.4,607.2 664.9,607.2 665.4,607.2 665.9,607.2 666.4,607.2 666.9,607.2 667.4,607.2 667.9,607.2 668.4,607.2 668.9,607.2 669.4,607.2 669.9,607.2 670.4,607.2 670.9,607.2 671.4,607.2 671.9,607.2 672.4,607.2 672.9,607.2 673.4,607.2 673.9,607.2 674.4,607.2 674.9,607.2 675.4,607.2 675.9,607.2 676.4,607.2 676.9,607.2 677.4,607.2 677.9,607.2 678.4,607.2 678.9,607.2 679.4,607.2 679.9,607.2 680.4,607.2 680.9,607.2 681.4,607.2 681.9,607.2 682.4,607.2 682.9,607.2 683.0,607.2" fill="#2d3ea6"/>
<text x="475.8" y="622.0" font-size="8.4" font-weight="bold"  text-anchor="middle" fill="#222" >control</text>
<text x="503.5" y="616.4" font-size="5.7"   text-anchor="start" fill="#333" >[0 - 6.29]</text>
<line x1="504.40" y1="623.80" x2="683.00" y2="623.80" stroke="#3a4ab0" stroke-width="0.8" />
<polygon points="504.4,623.8 504.4,623.8 504.9,623.8 505.4,623.8 505.9,623.8 506.4,623.8 506.9,623.4 507.4,623.3 507.9,623.2 508.4,623.3 508.9,623.5 509.4,623.8 509.9,623.8 510.4,623.8 510.9,623.8 511.4,623.8 511.9,623.8 512.4,623.8 512.9,623.8 513.4,623.8 513.9,623.8 514.4,623.8 514.9,623.8 515.4,623.8 515.9,623.8 516.4,623.8 516.9,623.8 517.4,623.8 517.9,623.8 518.4,623.8 518.9,623.8 519.4,623.8 519.9,623.3 520.4,623.2 520.9,623.2 521.4,623.0 521.9,623.0 522.4,623.0 522.9,623.1 523.4,623.2 523.9,623.2 524.4,623.4 524.9,623.5 525.4,623.8 525.9,623.8 526.4,623.8 526.9,623.8 527.4,623.8 527.9,623.8 528.4,623.8 528.9,623.8 529.4,623.8 529.9,623.8 530.4,623.8 530.9,623.8 531.4,623.4 531.9,623.2 532.4,623.1 532.9,623.0 533.4,622.8 533.9,622.7 534.4,622.7 534.9,622.8 535.4,622.8 535.9,622.8 536.4,622.8 536.9,623.1 537.4,623.1 537.9,623.1 538.4,623.1 538.9,623.3 539.4,623.5 539.9,623.8 540.4,623.8 540.9,623.8 541.4,623.8 541.9,623.8 542.4,623.8 542.9,623.8 543.4,623.8 543.9,623.8 544.4,623.8 544.9,623.8 545.4,623.8 545.9,623.8 546.4,623.8 546.9,623.8 547.4,623.8 547.9,623.8 548.4,623.8 548.9,623.8 549.4,623.8 549.9,623.8 550.4,623.8 550.9,623.8 551.4,623.8 551.9,623.8 552.4,623.5 552.9,623.3 553.4,623.1 553.9,623.0 554.4,622.8 554.9,622.9 555.4,623.4 555.9,623.4 556.4,623.4 556.9,623.4 557.4,623.4 557.9,623.3 558.4,623.4 558.9,623.4 559.4,623.5 559.9,623.8 560.4,623.8 560.9,623.8 561.4,623.8 561.9,623.8 562.4,623.8 562.9,623.8 563.4,623.8 563.9,623.8 564.4,623.8 564.9,623.8 565.4,623.8 565.9,623.8 566.4,623.8 566.9,623.8 567.4,623.8 567.9,623.8 568.4,623.8 568.9,623.8 569.4,623.8 569.9,623.8 570.4,623.8 570.9,623.8 571.4,623.8 571.9,623.8 572.4,623.8 572.9,623.8 573.4,623.8 573.9,623.8 574.4,623.8 574.9,623.8 575.4,623.8 575.9,623.8 576.4,623.8 576.9,623.8 577.4,623.8 577.9,623.8 578.4,623.8 578.9,623.8 579.4,623.8 579.9,623.8 580.4,623.8 580.9,623.8 581.4,623.8 581.9,623.8 582.4,623.8 582.9,623.5 583.4,623.3 583.9,623.2 584.4,623.2 584.9,623.2 585.4,623.4 585.9,623.8 586.4,623.8 586.9,623.8 587.4,623.8 587.9,623.8 588.4,623.8 588.9,623.8 589.4,623.5 589.9,623.2 590.4,622.9 590.9,622.8 591.4,622.8 591.9,622.4 592.4,622.8 592.9,622.4 593.4,622.0 593.9,622.1 594.4,622.4 594.9,622.7 595.4,623.1 595.9,623.4 596.4,623.4 596.9,623.4 597.4,623.4 597.9,623.5 598.4,623.5 598.9,623.5 599.4,623.8 599.9,623.8 600.4,623.5 600.9,623.5 601.4,623.5 601.9,623.5 602.4,623.5 602.9,623.4 603.4,623.5 603.9,623.8 604.4,623.4 604.9,623.4 605.4,623.5 605.9,623.5 606.4,623.5 606.9,623.5 607.4,623.5 607.9,623.5 608.4,623.8 608.9,623.8 609.4,623.8 609.9,623.8 610.4,623.8 610.9,623.8 611.4,623.4 611.9,623.3 612.4,623.1 612.9,623.0 613.4,623.3 613.9,623.3 614.4,623.3 614.9,623.5 615.4,623.8 615.9,623.8 616.4,623.8 616.9,623.8 617.4,623.8 617.9,623.8 618.4,623.8 618.9,623.8 619.4,623.8 619.9,623.8 620.4,623.8 620.9,623.8 621.4,623.8 621.9,623.8 622.4,623.8 622.9,623.8 623.4,623.8 623.9,623.8 624.4,623.8 624.9,623.8 625.4,623.8 625.9,623.8 626.4,623.8 626.9,623.8 627.4,623.8 627.9,623.8 628.4,623.8 628.9,623.8 629.4,623.8 629.9,623.8 630.4,623.8 630.9,623.8 631.4,623.8 631.9,623.8 632.4,623.8 632.9,623.8 633.4,623.8 633.9,623.8 634.4,623.8 634.9,623.8 635.4,623.8 635.9,623.8 636.4,623.8 636.9,623.8 637.4,623.8 637.9,623.8 638.4,623.8 638.9,623.8 639.4,623.8 639.9,623.8 640.4,623.8 640.9,623.8 641.4,623.8 641.9,623.8 642.4,623.8 642.9,623.4 643.4,623.2 643.9,623.0 644.4,623.0 644.9,623.0 645.4,623.0 645.9,623.2 646.4,623.2 646.9,623.3 647.4,623.5 647.9,623.8 648.4,623.8 648.9,623.8 649.4,623.8 649.9,623.8 650.4,623.8 650.9,623.8 651.4,623.8 651.9,623.8 652.4,623.8 652.9,623.8 653.4,623.8 653.9,623.8 654.4,623.8 654.9,623.8 655.4,623.8 655.9,623.8 656.4,623.8 656.9,623.8 657.4,623.8 657.9,623.8 658.4,623.8 658.9,623.8 659.4,623.8 659.9,623.8 660.4,623.8 660.9,623.8 661.4,623.8 661.9,623.8 662.4,623.8 662.9,623.8 663.4,623.8 663.9,623.4 664.4,623.3 664.9,623.1 665.4,623.0 665.9,623.1 666.4,623.2 666.9,623.4 667.4,623.8 667.9,623.8 668.4,623.8 668.9,623.8 669.4,623.8 669.9,623.8 670.4,623.8 670.9,623.8 671.4,623.8 671.9,623.8 672.4,623.8 672.9,623.8 673.4,623.8 673.9,623.8 674.4,623.8 674.9,623.8 675.4,623.8 675.9,623.8 676.4,623.8 676.9,623.8 677.4,623.8 677.9,623.8 678.4,623.8 678.9,623.8 679.4,623.8 679.9,623.8 680.4,623.8 680.9,623.8 681.4,623.8 681.9,623.8 682.4,623.8 682.9,623.8 683.0,623.8" fill="#2d3ea6"/>
<text x="475.8" y="638.4" font-size="8.4" font-weight="bold"  text-anchor="middle" fill="#222" >Il1a + Osm</text>
<text x="503.5" y="632.8" font-size="5.7"   text-anchor="start" fill="#333" >[0 - 6.29]</text>
<line x1="504.40" y1="640.20" x2="683.00" y2="640.20" stroke="#f2b890" stroke-width="0.8" />
<polygon points="504.4,640.2 504.4,639.9 504.9,639.8 505.4,639.4 505.9,638.7 506.4,638.1 506.9,637.7 507.4,637.7 507.9,638.2 508.4,638.7 508.9,638.9 509.4,639.3 509.9,639.9 510.4,640.2 510.9,640.2 511.4,640.2 511.9,640.2 512.4,640.2 512.9,640.2 513.4,640.2 513.9,640.2 514.4,640.2 514.9,640.2 515.4,640.2 515.9,640.2 516.4,640.2 516.9,640.2 517.4,640.2 517.9,640.2 518.4,640.2 518.9,640.2 519.4,640.2 519.9,640.2 520.4,640.2 520.9,640.2 521.4,640.2 521.9,640.2 522.4,640.2 522.9,640.2 523.4,640.2 523.9,640.2 524.4,640.2 524.9,640.2 525.4,639.9 525.9,639.5 526.4,639.0 526.9,638.8 527.4,638.4 527.9,638.1 528.4,637.7 528.9,638.2 529.4,638.3 529.9,637.9 530.4,637.9 530.9,637.3 531.4,637.4 531.9,638.1 532.4,639.0 532.9,638.8 533.4,638.6 533.9,638.9 534.4,638.8 534.9,639.1 535.4,639.5 535.9,639.8 536.4,639.7 536.9,639.2 537.4,638.7 537.9,638.0 538.4,637.7 538.9,638.1 539.4,638.3 539.9,637.0 540.4,637.0 540.9,637.4 541.4,636.6 541.9,636.8 542.4,637.5 542.9,636.7 543.4,637.2 543.9,636.8 544.4,636.9 544.9,634.7 545.4,632.0 545.9,632.8 546.4,633.0 546.9,636.1 547.4,636.2 547.9,635.7 548.4,635.5 548.9,636.5 549.4,638.0 549.9,639.2 550.4,639.9 550.9,640.2 551.4,640.2 551.9,640.2 552.4,640.2 552.9,640.2 553.4,640.2 553.9,640.2 554.4,640.2 554.9,640.2 555.4,639.6 555.9,638.6 556.4,637.7 556.9,637.7 557.4,637.2 557.9,636.3 558.4,636.0 558.9,636.4 559.4,636.0 559.9,636.0 560.4,636.7 560.9,637.0 561.4,636.7 561.9,637.7 562.4,637.7 562.9,637.9 563.4,638.4 563.9,638.1 564.4,636.8 564.9,635.4 565.4,635.1 565.9,636.3 566.4,633.2 566.9,634.6 567.4,635.9 567.9,636.1 568.4,636.2 568.9,635.2 569.4,634.8 569.9,635.2 570.4,632.3 570.9,630.4 571.4,630.4 571.9,632.5 572.4,633.6 572.9,632.7 573.4,633.8 573.9,636.0 574.4,636.6 574.9,636.5 575.4,636.3 575.9,635.7 576.4,636.0 576.9,637.0 577.4,638.3 577.9,639.3 578.4,638.8 578.9,638.1 579.4,637.8 579.9,637.6 580.4,638.0 580.9,638.5 581.4,638.8 581.9,639.4 582.4,639.9 582.9,640.2 583.4,640.2 583.9,640.2 584.4,640.2 584.9,640.2 585.4,640.2 585.9,640.2 586.4,640.2 586.9,640.2 587.4,640.2 587.9,640.2 588.4,640.2 588.9,639.9 589.4,639.7 589.9,639.8 590.4,639.9 590.9,640.2 591.4,639.9 591.9,639.8 592.4,639.7 592.9,639.8 593.4,639.9 593.9,639.5 594.4,639.1 594.9,638.6 595.4,638.9 595.9,639.1 596.4,639.5 596.9,639.5 597.4,639.7 597.9,639.9 598.4,640.2 598.9,640.2 599.4,640.2 599.9,640.2 600.4,640.2 600.9,640.2 601.4,640.2 601.9,640.2 602.4,640.2 602.9,640.2 603.4,640.2 603.9,640.2 604.4,640.2 604.9,640.2 605.4,640.2 605.9,640.2 606.4,639.9 606.9,639.5 607.4,638.8 607.9,638.3 608.4,638.4 608.9,639.0 609.4,639.1 609.9,639.3 610.4,639.5 610.9,639.8 611.4,640.2 611.9,640.2 612.4,640.2 612.9,640.2 613.4,640.2 613.9,640.2 614.4,640.2 614.9,640.2 615.4,640.2 615.9,640.2 616.4,640.2 616.9,640.2 617.4,639.8 617.9,639.7 618.4,639.5 618.9,639.2 619.4,638.5 619.9,638.5 620.4,639.1 620.9,639.0 621.4,639.2 621.9,639.5 622.4,639.6 622.9,639.8 623.4,640.2 623.9,640.2 624.4,640.2 624.9,640.2 625.4,640.2 625.9,640.2 626.4,640.2 626.9,640.2 627.4,640.2 627.9,640.2 628.4,640.2 628.9,640.2 629.4,640.2 629.9,640.2 630.4,640.2 630.9,640.2 631.4,640.2 631.9,639.9 632.4,640.2 632.9,640.2 633.4,640.2 633.9,640.2 634.4,640.2 634.9,640.2 635.4,640.2 635.9,640.2 636.4,640.2 636.9,640.2 637.4,640.2 637.9,640.2 638.4,640.2 638.9,640.2 639.4,640.2 639.9,640.2 640.4,640.2 640.9,640.2 641.4,639.7 641.9,639.3 642.4,638.9 642.9,638.7 643.4,638.7 643.9,638.8 644.4,639.2 644.9,639.6 645.4,639.8 645.9,640.2 646.4,640.2 646.9,640.2 647.4,640.2 647.9,640.2 648.4,640.2 648.9,640.2 649.4,640.2 649.9,640.2 650.4,640.2 650.9,640.2 651.4,640.2 651.9,640.2 652.4,640.2 652.9,640.2 653.4,640.2 653.9,640.2 654.4,640.2 654.9,640.2 655.4,640.2 655.9,640.2 656.4,640.2 656.9,640.2 657.4,640.2 657.9,640.2 658.4,640.2 658.9,640.2 659.4,640.2 659.9,640.2 660.4,640.2 660.9,640.2 661.4,640.2 661.9,640.2 662.4,640.2 662.9,640.2 663.4,640.2 663.9,640.2 664.4,640.2 664.9,640.2 665.4,640.2 665.9,639.9 666.4,639.7 666.9,639.6 667.4,639.8 667.9,640.2 668.4,640.2 668.9,640.2 669.4,640.2 669.9,640.2 670.4,640.2 670.9,640.2 671.4,640.2 671.9,640.2 672.4,639.9 672.9,639.7 673.4,639.5 673.9,639.1 674.4,638.7 674.9,638.7 675.4,638.8 675.9,639.3 676.4,639.5 676.9,639.2 677.4,639.2 677.9,639.5 678.4,639.9 678.9,640.2 679.4,640.2 679.9,640.2 680.4,640.2 680.9,640.2 681.4,640.2 681.9,640.2 682.4,640.2 682.9,640.2 683.0,640.2" fill="#ee8e52"/>
<text x="475.8" y="654.7" font-size="8.4" font-weight="bold"  text-anchor="middle" fill="#222" >Il1a + Osm</text>
<text x="503.5" y="649.1" font-size="5.7"   text-anchor="start" fill="#333" >[0 - 6.29]</text>
<line x1="504.40" y1="656.50" x2="683.00" y2="656.50" stroke="#f2b890" stroke-width="0.8" />
<polygon points="504.4,656.5 504.4,656.5 504.9,656.5 505.4,656.5 505.9,656.5 506.4,656.5 506.9,656.5 507.4,656.5 507.9,656.5 508.4,656.5 508.9,656.5 509.4,656.5 509.9,656.5 510.4,656.5 510.9,656.5 511.4,656.5 511.9,656.5 512.4,656.5 512.9,656.5 513.4,656.5 513.9,656.5 514.4,656.5 514.9,656.5 515.4,656.5 515.9,656.5 516.4,656.5 516.9,656.0 517.4,655.6 517.9,655.7 518.4,656.2 518.9,656.5 519.4,656.5 519.9,656.5 520.4,656.5 520.9,656.5 521.4,656.5 521.9,656.5 522.4,656.5 522.9,656.5 523.4,656.5 523.9,656.5 524.4,656.5 524.9,656.5 525.4,656.5 525.9,656.5 526.4,656.5 526.9,656.5 527.4,656.1 527.9,655.8 528.4,655.4 528.9,655.0 529.4,654.8 529.9,654.9 530.4,654.4 530.9,654.2 531.4,654.4 531.9,654.9 532.4,654.6 532.9,654.4 533.4,654.5 533.9,654.9 534.4,655.4 534.9,655.7 535.4,656.0 535.9,656.5 536.4,656.5 536.9,656.5 537.4,656.2 537.9,656.0 538.4,655.7 538.9,655.5 539.4,655.4 539.9,655.1 540.4,655.0 540.9,653.9 541.4,652.9 541.9,652.7 542.4,652.5 542.9,652.4 543.4,653.0 543.9,653.0 544.4,653.4 544.9,653.2 545.4,653.1 545.9,653.7 546.4,654.7 546.9,655.6 547.4,656.1 547.9,656.5 548.4,656.5 548.9,656.5 549.4,656.5 549.9,656.5 550.4,656.5 550.9,656.5 551.4,656.5 551.9,656.5 552.4,655.6 552.9,655.1 553.4,655.7 553.9,656.5 554.4,656.5 554.9,655.9 555.4,654.8 555.9,654.6 556.4,655.6 556.9,655.9 557.4,655.3 557.9,654.7 558.4,654.3 558.9,653.3 559.4,652.8 559.9,653.0 560.4,653.9 560.9,654.0 561.4,653.7 561.9,654.3 562.4,654.7 562.9,654.7 563.4,655.0 563.9,654.4 564.4,653.8 564.9,653.3 565.4,652.7 565.9,652.8 566.4,653.0 566.9,653.3 567.4,653.8 567.9,653.8 568.4,653.5 568.9,653.6 569.4,653.6 569.9,651.9 570.4,650.7 570.9,652.0 571.4,653.6 571.9,653.3 572.4,653.0 572.9,653.9 573.4,655.2 573.9,656.1 574.4,656.5 574.9,656.5 575.4,656.5 575.9,656.5 576.4,656.5 576.9,656.5 577.4,656.5 577.9,656.5 578.4,656.2 578.9,655.9 579.4,655.8 579.9,655.4 580.4,655.2 580.9,655.4 581.4,655.6 581.9,655.2 582.4,655.0 582.9,655.0 583.4,654.8 583.9,655.0 584.4,655.1 584.9,655.0 585.4,655.3 585.9,655.7 586.4,655.8 586.9,655.7 587.4,655.9 587.9,656.2 588.4,656.5 588.9,656.5 589.4,656.5 589.9,656.5 590.4,656.5 590.9,656.5 591.4,656.5 591.9,656.5 592.4,656.5 592.9,656.5 593.4,656.2 593.9,656.1 594.4,655.9 594.9,655.9 595.4,655.8 595.9,655.4 596.4,655.1 596.9,655.0 597.4,654.9 597.9,655.2 598.4,655.2 598.9,655.7 599.4,656.2 599.9,656.5 600.4,656.5 600.9,656.5 601.4,656.5 601.9,656.5 602.4,656.5 602.9,656.5 603.4,656.5 603.9,656.5 604.4,656.5 604.9,656.5 605.4,656.5 605.9,656.5 606.4,656.5 606.9,656.2 607.4,656.1 607.9,656.0 608.4,655.9 608.9,655.9 609.4,655.9 609.9,656.1 610.4,655.8 610.9,655.3 611.4,655.4 611.9,655.4 612.4,655.5 612.9,655.3 613.4,655.5 613.9,655.5 614.4,655.5 614.9,655.5 615.4,655.6 615.9,656.0 616.4,655.9 616.9,655.7 617.4,655.7 617.9,655.8 618.4,656.0 618.9,656.2 619.4,656.5 619.9,656.5 620.4,656.5 620.9,656.5 621.4,656.5 621.9,656.5 622.4,656.5 622.9,656.5 623.4,656.2 623.9,656.5 624.4,656.5 624.9,656.5 625.4,656.2 625.9,656.0 626.4,655.9 626.9,655.7 627.4,655.7 627.9,655.7 628.4,655.6 628.9,655.5 629.4,655.6 629.9,655.6 630.4,655.7 630.9,655.7 631.4,655.8 631.9,655.9 632.4,655.7 632.9,655.6 633.4,655.7 633.9,655.9 634.4,656.1 634.9,656.5 635.4,656.5 635.9,656.5 636.4,656.5 636.9,656.5 637.4,656.5 637.9,656.5 638.4,656.5 638.9,656.2 639.4,656.1 639.9,656.0 640.4,655.8 640.9,655.7 641.4,655.9 641.9,655.7 642.4,655.7 642.9,655.8 643.4,655.6 643.9,655.5 644.4,655.6 644.9,655.7 645.4,655.7 645.9,655.5 646.4,655.4 646.9,655.5 647.4,655.8 647.9,655.9 648.4,655.9 648.9,656.0 649.4,656.0 649.9,656.0 650.4,656.1 650.9,656.1 651.4,655.9 651.9,655.8 652.4,655.8 652.9,655.8 653.4,656.0 653.9,656.1 654.4,656.0 654.9,655.9 655.4,655.8 655.9,655.8 656.4,655.6 656.9,655.7 657.4,655.7 657.9,655.7 658.4,655.8 658.9,655.8 659.4,655.9 659.9,656.1 660.4,656.1 660.9,656.1 661.4,656.1 661.9,656.2 662.4,656.5 662.9,656.5 663.4,656.5 663.9,656.5 664.4,656.5 664.9,656.5 665.4,656.5 665.9,656.5 666.4,656.5 666.9,656.5 667.4,656.5 667.9,656.5 668.4,656.5 668.9,656.5 669.4,656.5 669.9,656.2 670.4,656.2 670.9,656.2 671.4,656.2 671.9,656.5 672.4,656.5 672.9,656.5 673.4,656.5 673.9,656.5 674.4,656.5 674.9,656.5 675.4,656.5 675.9,656.1 676.4,655.6 676.9,655.1 677.4,654.9 677.9,655.1 678.4,655.6 678.9,656.1 679.4,656.5 679.9,656.5 680.4,656.5 680.9,656.5 681.4,656.5 681.9,656.5 682.4,656.5 682.9,656.5 683.0,656.5" fill="#ee8e52"/>
<line x1="505.00" y1="666.60" x2="683.00" y2="666.60" stroke="#3344aa" stroke-width="0.9" />
<rect x="547.30" y="664.20" width="12.10" height="4.80" fill="#3344aa" />
<rect x="563.50" y="664.45" width="4.50" height="4.30" fill="#3344aa" />
<rect x="571.50" y="665.35" width="2.80" height="2.50" fill="#3344aa" />
<rect x="574.30" y="664.10" width="7.30" height="5.00" fill="#3344aa" />
<rect x="593.00" y="663.60" width="1.80" height="6.00" fill="#3344aa" />
<rect x="615.60" y="664.30" width="12.70" height="4.60" fill="#3344aa" />
<rect x="628.30" y="663.30" width="9.40" height="6.60" fill="#3344aa" />
<rect x="658.00" y="663.60" width="2.70" height="6.00" fill="#3344aa" />
<line x1="510.80" y1="665.40" x2="512.00" y2="666.60" stroke="#3344aa" stroke-width="0.6" />
<line x1="510.80" y1="667.80" x2="512.00" y2="666.60" stroke="#3344aa" stroke-width="0.6" />
<line x1="518.80" y1="665.40" x2="520.00" y2="666.60" stroke="#3344aa" stroke-width="0.6" />
<line x1="518.80" y1="667.80" x2="520.00" y2="666.60" stroke="#3344aa" stroke-width="0.6" />
<line x1="526.80" y1="665.40" x2="528.00" y2="666.60" stroke="#3344aa" stroke-width="0.6" />
<line x1="526.80" y1="667.80" x2="528.00" y2="666.60" stroke="#3344aa" stroke-width="0.6" />
<line x1="534.80" y1="665.40" x2="536.00" y2="666.60" stroke="#3344aa" stroke-width="0.6" />
<line x1="534.80" y1="667.80" x2="536.00" y2="666.60" stroke="#3344aa" stroke-width="0.6" />
<line x1="584.80" y1="665.40" x2="586.00" y2="666.60" stroke="#3344aa" stroke-width="0.6" />
<line x1="584.80" y1="667.80" x2="586.00" y2="666.60" stroke="#3344aa" stroke-width="0.6" />
<line x1="603.80" y1="665.40" x2="605.00" y2="666.60" stroke="#3344aa" stroke-width="0.6" />
<line x1="603.80" y1="667.80" x2="605.00" y2="666.60" stroke="#3344aa" stroke-width="0.6" />
<line x1="610.80" y1="665.40" x2="612.00" y2="666.60" stroke="#3344aa" stroke-width="0.6" />
<line x1="610.80" y1="667.80" x2="612.00" y2="666.60" stroke="#3344aa" stroke-width="0.6" />
<line x1="643.80" y1="665.40" x2="645.00" y2="666.60" stroke="#3344aa" stroke-width="0.6" />
<line x1="643.80" y1="667.80" x2="645.00" y2="666.60" stroke="#3344aa" stroke-width="0.6" />
<line x1="650.80" y1="665.40" x2="652.00" y2="666.60" stroke="#3344aa" stroke-width="0.6" />
<line x1="650.80" y1="667.80" x2="652.00" y2="666.60" stroke="#3344aa" stroke-width="0.6" />
<line x1="666.80" y1="665.40" x2="668.00" y2="666.60" stroke="#3344aa" stroke-width="0.6" />
<line x1="666.80" y1="667.80" x2="668.00" y2="666.60" stroke="#3344aa" stroke-width="0.6" />
<line x1="674.80" y1="665.40" x2="676.00" y2="666.60" stroke="#3344aa" stroke-width="0.6" />
<line x1="674.80" y1="667.80" x2="676.00" y2="666.60" stroke="#3344aa" stroke-width="0.6" />
<text x="558.0" y="683.5" font-size="9.3"  font-style="italic" text-anchor="start" fill="#222" >Chil1</text>
<text x="256.6" y="722.8" font-size="14.8" font-weight="bold"  text-anchor="start" fill="#111" >i</text>
<text transform="translate(284.0,788.2) rotate(-90)" font-size="8.85" font-weight="bold" text-anchor="middle" fill="#1a1a1a" stroke="#1a1a1a" stroke-width="0.15"><tspan font-style="italic">Chil1</tspan> mRNA expression level</text>
<text x="0.0" y="0.0" font-size="9.0" font-weight="bold"  text-anchor="middle" fill="#1a1a1a" transform="translate(293.6,788.2) rotate(-90)" stroke="#1a1a1a" stroke-width="0.15">(fold change)</text>
<line x1="327.40" y1="721.80" x2="327.40" y2="852.00" stroke="#111" stroke-width="1.5" />
<line x1="322.40" y1="852.00" x2="327.40" y2="852.00" stroke="#111" stroke-width="1.3" />
<text x="320.4" y="855.4" font-size="9.7" font-weight="bold"  text-anchor="end" fill="#1a1a1a" >0</text>
<line x1="322.40" y1="819.70" x2="327.40" y2="819.70" stroke="#111" stroke-width="1.3" />
<text x="320.4" y="823.1" font-size="9.7" font-weight="bold"  text-anchor="end" fill="#1a1a1a" >1000</text>
<line x1="322.40" y1="787.40" x2="327.40" y2="787.40" stroke="#111" stroke-width="1.3" />
<text x="320.4" y="790.8" font-size="9.7" font-weight="bold"  text-anchor="end" fill="#1a1a1a" >2000</text>
<line x1="322.40" y1="755.10" x2="327.40" y2="755.10" stroke="#111" stroke-width="1.3" />
<text x="320.4" y="758.5" font-size="9.7" font-weight="bold"  text-anchor="end" fill="#1a1a1a" >3000</text>
<line x1="322.40" y1="722.80" x2="327.40" y2="722.80" stroke="#111" stroke-width="1.3" />
<text x="320.4" y="726.2" font-size="9.7" font-weight="bold"  text-anchor="end" fill="#1a1a1a" >4000</text>
<circle cx="336.00" cy="852.00" r="2.1" fill="#111" />
<circle cx="339.60" cy="852.00" r="2.1" fill="#111" />
<circle cx="343.20" cy="852.00" r="2.1" fill="#111" />
<circle cx="346.80" cy="852.00" r="2.1" fill="#111" />
<rect x="356.3" y="773.5" width="12.2" height="78.5" fill="#b3b3b3" stroke="#111" stroke-width="1.4"/>
<line x1="362.40" y1="791.28" x2="362.40" y2="755.75" stroke="#111" stroke-width="1.0" />
<line x1="359.20" y1="791.28" x2="365.60" y2="791.28" stroke="#111" stroke-width="1.0" />
<line x1="359.20" y1="755.75" x2="365.60" y2="755.75" stroke="#111" stroke-width="1.0" />
<circle cx="362.40" cy="751.87" r="2.1" fill="#111" />
<circle cx="362.40" cy="765.44" r="2.1" fill="#111" />
<circle cx="357.60" cy="789.01" r="2.1" fill="#111" />
<circle cx="366.50" cy="785.78" r="2.1" fill="#111" />
<circle cx="377.10" cy="852.00" r="2.1" fill="#111" />
<circle cx="380.70" cy="852.00" r="2.1" fill="#111" />
<circle cx="384.30" cy="852.00" r="2.1" fill="#111" />
<circle cx="387.90" cy="852.00" r="2.1" fill="#111" />
<circle cx="397.20" cy="852.00" r="2.1" fill="#111" />
<circle cx="400.80" cy="852.00" r="2.1" fill="#111" />
<circle cx="404.40" cy="852.00" r="2.1" fill="#111" />
<circle cx="408.00" cy="852.00" r="2.1" fill="#111" />
<line x1="327.40" y1="852.00" x2="416.30" y2="852.00" stroke="#111" stroke-width="1.5" />
<text x="328.7" y="865.4" font-size="8.7" font-weight="bold"  text-anchor="end" fill="#222" >Il1a</text>
<rect x="339.95" y="862.60" width="2.90" height="1.20" fill="#333" />
<path d="M359.95 862.30H364.85M362.40 859.65V864.95" stroke="#222" stroke-width="1.35" fill="none"/>
<path d="M380.05 862.30H384.95M382.50 859.65V864.95" stroke="#222" stroke-width="1.35" fill="none"/>
<path d="M400.15 862.30H405.05M402.60 859.65V864.95" stroke="#222" stroke-width="1.35" fill="none"/>
<text x="328.7" y="876.1" font-size="8.7" font-weight="bold"  text-anchor="end" fill="#222" >Osm</text>
<rect x="339.95" y="873.30" width="2.90" height="1.20" fill="#333" />
<path d="M359.95 873.00H364.85M362.40 870.35V875.65" stroke="#222" stroke-width="1.35" fill="none"/>
<path d="M380.05 873.00H384.95M382.50 870.35V875.65" stroke="#222" stroke-width="1.35" fill="none"/>
<path d="M400.15 873.00H405.05M402.60 870.35V875.65" stroke="#222" stroke-width="1.35" fill="none"/>
<text x="328.7" y="886.8" font-size="8.7" font-weight="bold"  text-anchor="end" fill="#222" >withdrawal</text>
<rect x="339.95" y="884.00" width="2.90" height="1.20" fill="#333" />
<rect x="360.95" y="884.00" width="2.90" height="1.20" fill="#333" />
<path d="M380.05 883.70H384.95M382.50 881.05V886.35" stroke="#222" stroke-width="1.35" fill="none"/>
<path d="M400.15 883.70H405.05M402.60 881.05V886.35" stroke="#222" stroke-width="1.35" fill="none"/>
<text x="328.7" y="897.5" font-size="8.7" font-weight="bold"  text-anchor="end" fill="#222" >Il1ra</text>
<rect x="339.95" y="894.70" width="2.90" height="1.20" fill="#333" />
<rect x="360.95" y="894.70" width="2.90" height="1.20" fill="#333" />
<rect x="381.05" y="894.70" width="2.90" height="1.20" fill="#333" />
<path d="M400.15 894.40H405.05M402.60 891.75V897.05" stroke="#222" stroke-width="1.35" fill="none"/>
<text x="482.6" y="721.7" font-size="14.8" font-weight="bold"  text-anchor="start" fill="#111" >j</text>
<text transform="translate(507.3,778.8) rotate(-90)" font-size="8.85" font-weight="bold" text-anchor="middle" fill="#1a1a1a" stroke="#1a1a1a" stroke-width="0.15"><tspan font-style="italic">Chil1</tspan> mRNA expression level</text>
<text x="0.0" y="0.0" font-size="9.0" font-weight="bold"  text-anchor="middle" fill="#1a1a1a" transform="translate(518.6,778.8) rotate(-90)" stroke="#1a1a1a" stroke-width="0.15">(fold change)</text>
<line x1="557.70" y1="714.30" x2="557.70" y2="843.70" stroke="#111" stroke-width="1.5" />
<line x1="552.70" y1="843.70" x2="557.70" y2="843.70" stroke="#111" stroke-width="1.3" />
<text x="550.7" y="847.1" font-size="9.7" font-weight="bold"  text-anchor="end" fill="#1a1a1a" >0</text>
<line x1="552.70" y1="789.90" x2="557.70" y2="789.90" stroke="#111" stroke-width="1.3" />
<text x="550.7" y="793.3" font-size="9.7" font-weight="bold"  text-anchor="end" fill="#1a1a1a" >5000</text>
<line x1="552.70" y1="736.10" x2="557.70" y2="736.10" stroke="#111" stroke-width="1.3" />
<text x="550.7" y="739.5" font-size="9.7" font-weight="bold"  text-anchor="end" fill="#1a1a1a" >10000</text>
<circle cx="564.20" cy="843.70" r="2.1" fill="#111" />
<circle cx="567.20" cy="843.70" r="2.1" fill="#111" />
<circle cx="570.20" cy="843.70" r="2.1" fill="#111" />
<circle cx="573.20" cy="843.70" r="2.1" fill="#111" />
<rect x="580.4" y="740.4" width="10.2" height="103.3" fill="#b3b3b3" stroke="#111" stroke-width="1.4"/>
<line x1="585.50" y1="753.85" x2="585.50" y2="728.03" stroke="#111" stroke-width="1.0" />
<line x1="582.30" y1="753.85" x2="588.70" y2="753.85" stroke="#111" stroke-width="1.0" />
<line x1="582.30" y1="728.03" x2="588.70" y2="728.03" stroke="#111" stroke-width="1.0" />
<circle cx="585.50" cy="723.73" r="2.1" fill="#111" />
<circle cx="585.50" cy="737.18" r="2.1" fill="#111" />
<circle cx="586.20" cy="742.56" r="2.1" fill="#111" />
<circle cx="585.50" cy="753.85" r="2.1" fill="#111" />
<rect x="596.8" y="842.4" width="10.2" height="1.3" fill="#b3b3b3" stroke="#111" stroke-width="1.4"/>
<circle cx="597.40" cy="843.05" r="2.1" fill="#111" />
<circle cx="600.40" cy="842.84" r="2.1" fill="#111" />
<circle cx="603.40" cy="842.73" r="2.1" fill="#111" />
<circle cx="606.40" cy="843.16" r="2.1" fill="#111" />
<circle cx="614.10" cy="843.70" r="2.1" fill="#111" />
<circle cx="617.10" cy="843.70" r="2.1" fill="#111" />
<circle cx="620.10" cy="843.70" r="2.1" fill="#111" />
<circle cx="623.10" cy="843.70" r="2.1" fill="#111" />
<rect x="630.5" y="819.5" width="10.2" height="24.2" fill="#6c6c6c" stroke="#111" stroke-width="1.4"/>
<line x1="635.60" y1="822.72" x2="635.60" y2="816.15" stroke="#111" stroke-width="1.0" />
<line x1="632.40" y1="822.72" x2="638.80" y2="822.72" stroke="#111" stroke-width="1.0" />
<line x1="632.40" y1="816.15" x2="638.80" y2="816.15" stroke="#111" stroke-width="1.0" />
<circle cx="639.80" cy="815.94" r="2.1" fill="#111" />
<circle cx="633.20" cy="819.49" r="2.1" fill="#111" />
<circle cx="634.30" cy="822.93" r="2.1" fill="#111" />
<circle cx="637.80" cy="821.10" r="2.1" fill="#111" />
<line x1="557.70" y1="843.70" x2="646.70" y2="843.70" stroke="#111" stroke-width="1.5" />
<text x="552.7" y="857.4" font-size="8.7" font-weight="bold"  text-anchor="end" fill="#222" >Il1a</text>
<rect x="567.25" y="854.60" width="2.90" height="1.20" fill="#333" />
<path d="M583.05 854.30H587.95M585.50 851.65V856.95" stroke="#222" stroke-width="1.35" fill="none"/>
<path d="M599.45 854.30H604.35M601.90 851.65V856.95" stroke="#222" stroke-width="1.35" fill="none"/>
<path d="M616.15 854.30H621.05M618.60 851.65V856.95" stroke="#222" stroke-width="1.35" fill="none"/>
<path d="M633.15 854.30H638.05M635.60 851.65V856.95" stroke="#222" stroke-width="1.35" fill="none"/>
<text x="552.7" y="867.5" font-size="8.7" font-weight="bold"  text-anchor="end" fill="#222" >Osm</text>
<rect x="567.25" y="864.75" width="2.90" height="1.20" fill="#333" />
<path d="M583.05 864.45H587.95M585.50 861.80V867.10" stroke="#222" stroke-width="1.35" fill="none"/>
<path d="M599.45 864.45H604.35M601.90 861.80V867.10" stroke="#222" stroke-width="1.35" fill="none"/>
<path d="M616.15 864.45H621.05M618.60 861.80V867.10" stroke="#222" stroke-width="1.35" fill="none"/>
<path d="M633.15 864.45H638.05M635.60 861.80V867.10" stroke="#222" stroke-width="1.35" fill="none"/>
<text x="552.7" y="877.7" font-size="8.7" font-weight="bold"  text-anchor="end" fill="#222" >JSH23</text>
<rect x="567.25" y="874.90" width="2.90" height="1.20" fill="#333" />
<rect x="584.05" y="874.90" width="2.90" height="1.20" fill="#333" />
<path d="M599.45 874.60H604.35M601.90 871.95V877.25" stroke="#222" stroke-width="1.35" fill="none"/>
<rect x="617.15" y="874.90" width="2.90" height="1.20" fill="#333" />
<rect x="634.15" y="874.90" width="2.90" height="1.20" fill="#333" />
<text x="552.7" y="887.9" font-size="8.7" font-weight="bold"  text-anchor="end" fill="#222" >WFA</text>
<rect x="567.25" y="885.05" width="2.90" height="1.20" fill="#333" />
<rect x="584.05" y="885.05" width="2.90" height="1.20" fill="#333" />
<rect x="600.45" y="885.05" width="2.90" height="1.20" fill="#333" />
<path d="M616.15 884.75H621.05M618.60 882.10V887.40" stroke="#222" stroke-width="1.35" fill="none"/>
<rect x="634.15" y="885.05" width="2.90" height="1.20" fill="#333" />
<text x="552.7" y="898.0" font-size="8.7" font-weight="bold"  text-anchor="end" fill="#222" >Ruxolitinib</text>
<rect x="567.25" y="895.20" width="2.90" height="1.20" fill="#333" />
<rect x="584.05" y="895.20" width="2.90" height="1.20" fill="#333" />
<rect x="600.45" y="895.20" width="2.90" height="1.20" fill="#333" />
<rect x="617.15" y="895.20" width="2.90" height="1.20" fill="#333" />
<path d="M633.15 894.90H638.05M635.60 892.25V897.55" stroke="#222" stroke-width="1.35" fill="none"/>
</svg></body></html>
